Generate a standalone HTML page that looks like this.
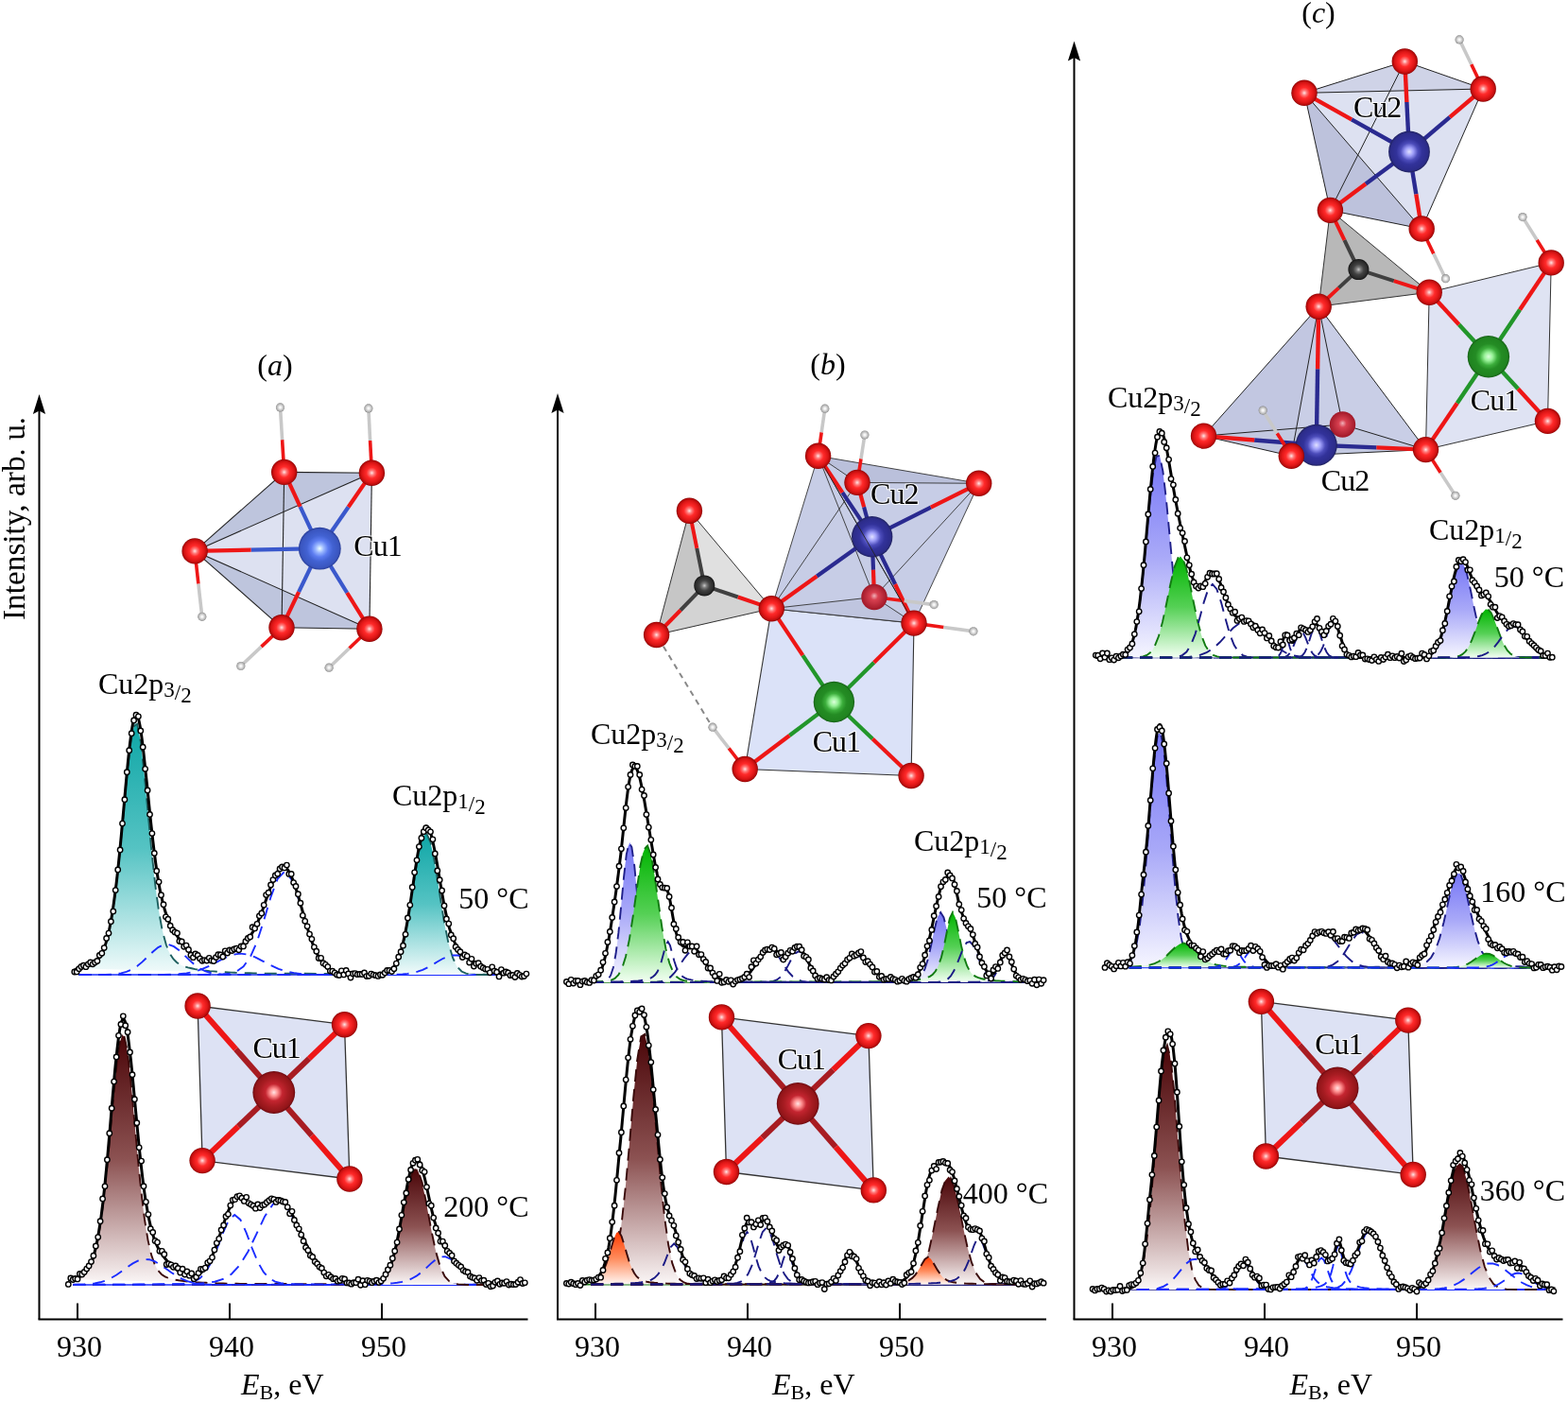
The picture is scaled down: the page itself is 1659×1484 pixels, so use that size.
<!DOCTYPE html>
<html><head><meta charset="utf-8"><title>Cu2p XPS spectra</title>
<style>html,body{margin:0;padding:0;background:#fff;} svg{display:block;} .t{font-family:"Liberation Serif","Times New Roman",serif;font-size:32px;fill:#000;}</style>
</head><body><svg width="1659" height="1484" viewBox="0 0 1659 1484"><defs><linearGradient id="g_teal" x1="0" y1="0" x2="0" y2="1"><stop offset="0" stop-color="#0ea6a6"/><stop offset="0.5" stop-color="#55c3c3"/><stop offset="1" stop-color="#f2fbfb"/></linearGradient><linearGradient id="g_brown" x1="0" y1="0" x2="0" y2="1"><stop offset="0" stop-color="#4a0508"/><stop offset="0.5" stop-color="#8c5252"/><stop offset="1" stop-color="#fbf7f7"/></linearGradient><linearGradient id="g_blue" x1="0" y1="0" x2="0" y2="1"><stop offset="0" stop-color="#7676f6"/><stop offset="0.5" stop-color="#a9a9f8"/><stop offset="1" stop-color="#f6f6ff"/></linearGradient><linearGradient id="g_green" x1="0" y1="0" x2="0" y2="1"><stop offset="0" stop-color="#00b400"/><stop offset="0.5" stop-color="#55d055"/><stop offset="1" stop-color="#f2fff2"/></linearGradient><linearGradient id="g_orange" x1="0" y1="0" x2="0" y2="1"><stop offset="0" stop-color="#ff3a00"/><stop offset="0.5" stop-color="#ff8a5a"/><stop offset="1" stop-color="#fff6f2"/></linearGradient><radialGradient id="s_O" cx="0.5" cy="0.5" r="0.5" fx="0.5" fy="0.5"><stop offset="0" stop-color="#ffe4e4"/><stop offset="0.2" stop-color="#ff7878"/><stop offset="0.42" stop-color="#ff2a2a"/><stop offset="0.75" stop-color="#de1616"/><stop offset="0.92" stop-color="#b60c0c"/><stop offset="1" stop-color="#8a0000"/></radialGradient><radialGradient id="s_H" cx="0.5" cy="0.5" r="0.5" fx="0.5" fy="0.5"><stop offset="0" stop-color="#ffffff"/><stop offset="0.25" stop-color="#f2f2f2"/><stop offset="0.55" stop-color="#d0d0d0"/><stop offset="0.88" stop-color="#a8a8a8"/><stop offset="1" stop-color="#808080"/></radialGradient><radialGradient id="s_C" cx="0.5" cy="0.5" r="0.5" fx="0.5" fy="0.5"><stop offset="0" stop-color="#c8c8c8"/><stop offset="0.22" stop-color="#7a7a7a"/><stop offset="0.5" stop-color="#424242"/><stop offset="0.88" stop-color="#282828"/><stop offset="1" stop-color="#101010"/></radialGradient><radialGradient id="s_CuB" cx="0.5" cy="0.5" r="0.5" fx="0.5" fy="0.5"><stop offset="0" stop-color="#eeffff"/><stop offset="0.2" stop-color="#98b6ff"/><stop offset="0.4" stop-color="#5c7cf0"/><stop offset="0.62" stop-color="#4262d2"/><stop offset="0.9" stop-color="#3a56c0"/><stop offset="1" stop-color="#2a3e98"/></radialGradient><radialGradient id="s_CuD" cx="0.5" cy="0.5" r="0.5" fx="0.5" fy="0.5"><stop offset="0" stop-color="#e0e0ff"/><stop offset="0.2" stop-color="#a0a0fa"/><stop offset="0.42" stop-color="#4c4cba"/><stop offset="0.62" stop-color="#32329a"/><stop offset="0.9" stop-color="#2c2c8a"/><stop offset="1" stop-color="#20225e"/></radialGradient><radialGradient id="s_CuG" cx="0.5" cy="0.5" r="0.5" fx="0.5" fy="0.5"><stop offset="0" stop-color="#dcffdc"/><stop offset="0.2" stop-color="#98f298"/><stop offset="0.42" stop-color="#3cae3c"/><stop offset="0.62" stop-color="#248c24"/><stop offset="0.9" stop-color="#208420"/><stop offset="1" stop-color="#176017"/></radialGradient><radialGradient id="s_CuR" cx="0.5" cy="0.5" r="0.5" fx="0.5" fy="0.5"><stop offset="0" stop-color="#ffe4e4"/><stop offset="0.18" stop-color="#ff9090"/><stop offset="0.4" stop-color="#c42530"/><stop offset="0.65" stop-color="#a81c22"/><stop offset="0.9" stop-color="#921519"/><stop offset="1" stop-color="#6a0a10"/></radialGradient><radialGradient id="s_Ot" cx="0.5" cy="0.5" r="0.5" fx="0.5" fy="0.45"><stop offset="0" stop-color="#f0b0b8"/><stop offset="0.3" stop-color="#d84050"/><stop offset="1" stop-color="#a01828"/></radialGradient></defs><line x1="41.5" y1="1395.5" x2="41.5" y2="431" stroke="#000" stroke-width="2"/><line x1="40.5" y1="1395.5" x2="558.5" y2="1395.5" stroke="#000" stroke-width="2"/><path d="M41.5,417 L48.1,438 L41.5,434.5 L34.9,438 Z" fill="#000"/><line x1="82" y1="1378.5" x2="82" y2="1395.5" stroke="#000" stroke-width="2"/><text x="84" y="1435" text-anchor="middle" class="t">930</text><line x1="243" y1="1378.5" x2="243" y2="1395.5" stroke="#000" stroke-width="2"/><text x="245" y="1435" text-anchor="middle" class="t">940</text><line x1="404" y1="1378.5" x2="404" y2="1395.5" stroke="#000" stroke-width="2"/><text x="406" y="1435" text-anchor="middle" class="t">950</text><text x="255" y="1475" class="t"><tspan font-style="italic">E</tspan><tspan font-size="22" dy="5">B</tspan><tspan dy="-5">, eV</tspan></text><line x1="590" y1="1395.5" x2="590" y2="430" stroke="#000" stroke-width="2"/><line x1="589" y1="1395.5" x2="1107" y2="1395.5" stroke="#000" stroke-width="2"/><path d="M590,416 L596.6,437 L590,433.5 L583.4,437 Z" fill="#000"/><line x1="630" y1="1378.5" x2="630" y2="1395.5" stroke="#000" stroke-width="2"/><text x="632" y="1435" text-anchor="middle" class="t">930</text><line x1="791" y1="1378.5" x2="791" y2="1395.5" stroke="#000" stroke-width="2"/><text x="793" y="1435" text-anchor="middle" class="t">940</text><line x1="952" y1="1378.5" x2="952" y2="1395.5" stroke="#000" stroke-width="2"/><text x="954" y="1435" text-anchor="middle" class="t">950</text><text x="817" y="1475" class="t"><tspan font-style="italic">E</tspan><tspan font-size="22" dy="5">B</tspan><tspan dy="-5">, eV</tspan></text><line x1="1136.5" y1="1395.5" x2="1136.5" y2="57.5" stroke="#000" stroke-width="2"/><line x1="1135.5" y1="1395.5" x2="1653.5" y2="1395.5" stroke="#000" stroke-width="2"/><path d="M1136.5,43.5 L1143.1,64.5 L1136.5,61.0 L1129.9,64.5 Z" fill="#000"/><line x1="1177" y1="1378.5" x2="1177" y2="1395.5" stroke="#000" stroke-width="2"/><text x="1179" y="1435" text-anchor="middle" class="t">930</text><line x1="1338" y1="1378.5" x2="1338" y2="1395.5" stroke="#000" stroke-width="2"/><text x="1340" y="1435" text-anchor="middle" class="t">940</text><line x1="1499" y1="1378.5" x2="1499" y2="1395.5" stroke="#000" stroke-width="2"/><text x="1501" y="1435" text-anchor="middle" class="t">950</text><text x="1364.5" y="1475" class="t"><tspan font-style="italic">E</tspan><tspan font-size="22" dy="5">B</tspan><tspan dy="-5">, eV</tspan></text><line x1="83.6" y1="1031" x2="553.7" y2="1031" stroke="#1a2cff" stroke-width="1.6"/><path d="M83.6,1024.5 L87.1,1023.8 L90.6,1022.8 L94,1021.5 L97.5,1019.8 L101,1017.4 L104.5,1013.6 L107.9,1008 L111.4,999.4 L114.9,986.8 L118.4,969 L121.8,945.2 L125.3,915.2 L128.8,880.1 L132.3,842.6 L135.7,806.7 L139.2,778.7 L142.7,764.8 L146.2,769.2 L149.6,790.4 L153.1,823 L156.6,860.3 L160.1,897.1 L163.5,930 L167,957.1 L170.5,978.1 L174,993.3 L177.4,1003.9 L180.9,1011 L184.4,1015.6 L187.9,1018.6 L191.3,1020.7 L194.8,1022.2 L198.3,1023.3 L201.8,1024.1 L205.3,1024.9 L208.7,1025.5 L212.2,1026 L215.7,1026.4 L219.2,1026.8 L222.6,1027.2 L226.1,1027.5 L229.6,1027.7 L233.1,1028 L236.5,1028.2 L240,1028.4 L243.5,1028.6 L247,1028.7 L250.4,1028.9 L253.9,1029 L257.4,1029.1 L260.9,1029.2 L264.3,1029.3 L267.8,1029.4 L271.3,1029.5 L274.8,1029.6 L278.2,1029.6 L281.7,1029.7 L285.2,1029.8 L288.7,1029.8 L292.1,1029.9 Z" fill="url(#g_teal)" stroke="none"/><path d="M83.6,1024.5 L83.6,1024.5 L87.5,1023.7 L91.3,1022.6 L95.1,1021.1 L99,1018.9 L102.8,1015.6 L106.7,1010.4 L110.5,1002.1 L114.3,989.2 L118.2,970.1 L122,943.8 L125.9,910 L129.7,870.5 L133.5,829 L137.4,792.1 L141.2,768.6 L145.1,765.8 L148.9,784.7 L152.7,819.1 L156.6,860.1 L160.4,900.6 L164.3,936.1 L168.1,964.3 L171.9,985.1 L175.8,999.3 L179.6,1008.6 L183.5,1014.5 L187.3,1018.2 L191.1,1020.6 L195,1022.2 L198.8,1023.4 L202.7,1024.3 L206.5,1025.1 L210.3,1025.7 L214.2,1026.3 L218,1026.7 L221.9,1027.1 L225.7,1027.4 L229.5,1027.7 L233.4,1028 L237.2,1028.2 L241.1,1028.4 L244.9,1028.6 L248.8,1028.8 L252.6,1028.9 L256.4,1029.1 L260.3,1029.2 L264.1,1029.3 L268,1029.4 L271.8,1029.5 L275.6,1029.6 L553.7,1030.9" fill="none" stroke="#1c5e5e" stroke-width="1.9" stroke-dasharray="13,8"/><path d="M83.6,1031 L83.6,1031 L89.2,1031 L94.8,1031 L100.3,1031 L105.9,1030.9 L111.5,1030.9 L117.1,1030.6 L122.7,1030.2 L128.2,1029.4 L133.8,1027.9 L139.4,1025.5 L145,1022 L150.6,1017.4 L156.1,1012.1 L161.7,1006.7 L167.3,1002.1 L172.9,999.4 L178.5,999 L184,1001.2 L189.6,1005.3 L195.2,1010.5 L200.8,1015.9 L206.3,1020.8 L211.9,1024.6 L217.5,1027.3 L223.1,1029 L228.7,1030 L234.2,1030.6 L239.8,1030.8 L245.4,1030.9 L251,1031 L256.6,1031 L262.1,1031 L267.7,1031 L273.3,1031 L278.9,1031 L284.5,1031 L290,1031 L295.6,1031 L301.2,1031 L306.8,1031 L312.3,1031 L317.9,1031 L323.5,1031 L329.1,1031 L334.7,1031 L340.2,1031 L345.8,1031 L351.4,1031 L357,1031 L362.6,1031 L553.7,1031" fill="none" stroke="#1a2cff" stroke-width="1.9" stroke-dasharray="13,8"/><path d="M83.6,1031 L83.6,1031 L91.7,1031 L99.9,1031 L108,1031 L116.1,1031 L124.2,1031 L132.3,1031 L140.5,1031 L148.6,1031 L156.7,1031 L164.8,1031 L172.9,1030.9 L181.1,1030.7 L189.2,1030.3 L197.3,1029.4 L205.4,1027.8 L213.5,1025.2 L221.7,1021.6 L229.8,1017.3 L237.9,1013.1 L246,1009.9 L254.1,1008.6 L262.3,1009.6 L270.4,1012.6 L278.5,1016.8 L286.6,1021.1 L294.7,1024.8 L302.9,1027.5 L311,1029.2 L319.1,1030.2 L327.2,1030.7 L335.3,1030.9 L343.5,1031 L351.6,1031 L359.7,1031 L367.8,1031 L375.9,1031 L384.1,1031 L392.2,1031 L400.3,1031 L408.4,1031 L416.5,1031 L424.7,1031 L432.8,1031 L440.9,1031 L449,1031 L457.1,1031 L465.3,1031 L473.4,1031 L481.5,1031 L489.6,1031 L553.7,1031" fill="none" stroke="#1a2cff" stroke-width="1.9" stroke-dasharray="13,8"/><path d="M83.6,1031 L120.7,1031 L127.9,1031 L135.1,1031 L142.3,1031 L149.5,1031 L156.7,1031 L163.9,1031 L171.1,1030.9 L178.3,1030.9 L185.5,1030.9 L192.7,1030.9 L200,1030.9 L207.2,1030.9 L214.4,1030.9 L221.6,1030.8 L228.8,1030.8 L236,1030.5 L243.2,1029.6 L250.4,1027.4 L257.6,1022.3 L264.8,1012.3 L272,995.9 L279.2,973.5 L286.4,949.1 L293.7,929.6 L300.9,922.1 L308.1,929.6 L315.3,949.1 L322.5,973.5 L329.7,995.9 L336.9,1012.3 L344.1,1022.3 L351.3,1027.4 L358.5,1029.6 L365.7,1030.5 L372.9,1030.8 L380.1,1030.8 L387.4,1030.9 L394.6,1030.9 L401.8,1030.9 L409,1030.9 L416.2,1030.9 L423.4,1030.9 L430.6,1030.9 L437.8,1031 L445,1031 L452.2,1031 L459.4,1031 L466.6,1031 L473.8,1031 L481.1,1031 L553.7,1031" fill="none" stroke="#1a2cff" stroke-width="1.9" stroke-dasharray="13,8"/><path d="M304.1,1031 L308.3,1031 L312.4,1031 L316.6,1031 L320.8,1031 L324.9,1031 L329.1,1031 L333.2,1031 L337.4,1031 L341.6,1031 L345.7,1031 L349.9,1031 L354,1031 L358.2,1031 L362.4,1031 L366.5,1031 L370.7,1031 L374.8,1031 L379,1031 L383.2,1031 L387.3,1031 L391.5,1031 L395.6,1030.9 L399.8,1030.8 L404,1030.5 L408.1,1029.7 L412.3,1027.8 L416.4,1023.9 L420.6,1016.7 L424.8,1004.7 L428.9,986.9 L433.1,963.5 L437.2,936.7 L441.4,910.6 L445.6,890.6 L449.7,881.4 L453.9,885.5 L458,901.7 L462.2,926.1 L466.4,953.2 L470.5,978.3 L474.7,998.4 L478.8,1012.6 L483,1021.5 L487.2,1026.5 L491.3,1029.1 L495.5,1030.2 L499.6,1030.7 L503.8,1030.9 L508,1031 L512.1,1031 L516.3,1031 L520.4,1031 L524.6,1031 L528.8,1031 L532.9,1031 L537.1,1031 L541.2,1031 L545.4,1031 L549.6,1031 L553.7,1031 Z" fill="url(#g_teal)" stroke="none"/><path d="M83.6,1031 L320.4,1031 L325.1,1031 L329.7,1031 L334.4,1031 L339.1,1031 L343.7,1031 L348.4,1031 L353.1,1031 L357.7,1031 L362.4,1031 L367.1,1031 L371.7,1031 L376.4,1031 L381.1,1031 L385.7,1031 L390.4,1031 L395.1,1031 L399.7,1030.8 L404.4,1030.4 L409.1,1029.3 L413.7,1026.7 L418.4,1021 L423.1,1010.3 L427.7,992.7 L432.4,967.8 L437.1,937.9 L441.7,908.8 L446.4,887.8 L451.1,881.3 L455.7,891.3 L460.4,914.8 L465.1,944.7 L469.7,973.8 L474.4,997.2 L479.1,1013.2 L483.7,1022.6 L488.4,1027.5 L493.1,1029.7 L497.7,1030.6 L502.4,1030.9 L507.1,1031 L511.7,1031 L516.4,1031 L521.1,1031 L525.7,1031 L530.4,1031 L535.1,1031 L539.7,1031 L544.4,1031 L549.1,1031 L553.7,1031 L553.7,1031" fill="none" stroke="#1c5e5e" stroke-width="1.9" stroke-dasharray="13,8"/><path d="M83.6,1031 L287.5,1031 L292.8,1031 L298.1,1031 L303.5,1031 L308.8,1031 L314.1,1031 L319.4,1031 L324.8,1031 L330.1,1031 L335.4,1031 L340.7,1031 L346.1,1031 L351.4,1031 L356.7,1031 L362,1031 L367.4,1031 L372.7,1031 L378,1031 L383.3,1031 L388.7,1031 L394,1031 L399.3,1031 L404.6,1031 L410,1030.9 L415.3,1030.9 L420.6,1030.7 L425.9,1030.5 L431.3,1029.9 L436.6,1029.1 L441.9,1027.7 L447.2,1025.8 L452.6,1023.2 L457.9,1020.2 L463.2,1017 L468.5,1014 L473.9,1011.6 L479.2,1010.4 L484.5,1010.5 L489.8,1012 L495.2,1014.4 L500.5,1017.5 L505.8,1020.8 L511.1,1023.7 L516.5,1026.1 L521.8,1028 L527.1,1029.2 L532.4,1030 L537.8,1030.5 L543.1,1030.8 L548.4,1030.9 L553.7,1031 L553.7,1031" fill="none" stroke="#1a2cff" stroke-width="1.9" stroke-dasharray="13,8"/><path d="M78.8,1025.4 L79.6,1025.3 L80.4,1025.1 L81.2,1025 L82,1024.8 L82.8,1024.7 L83.6,1024.5 L84.4,1024.4 L85.2,1024.2 L86,1024 L86.8,1023.8 L87.6,1023.6 L88.4,1023.4 L89.2,1023.2 L90,1022.9 L90.9,1022.7 L91.7,1022.4 L92.5,1022.1 L93.3,1021.8 L94.1,1021.5 L94.9,1021.1 L95.7,1020.8 L96.5,1020.4 L97.3,1019.9 L98.1,1019.4 L98.9,1018.9 L99.7,1018.3 L100.5,1017.7 L101.3,1017 L102.1,1016.3 L102.9,1015.4 L103.7,1014.5 L104.5,1013.5 L105.3,1012.4 L106.2,1011.1 L107,1009.8 L107.8,1008.3 L108.6,1006.6 L109.4,1004.8 L110.2,1002.8 L111,1000.5 L111.8,998.1 L112.6,995.5 L113.4,992.6 L114.2,989.5 L115,986 L115.8,982.3 L116.6,978.3 L117.4,974 L118.2,969.4 L119,964.4 L119.8,959.1 L120.6,953.5 L121.4,947.5 L122.2,941.2 L123.1,934.5 L123.9,927.5 L124.7,920.2 L125.5,912.5 L126.3,904.6 L127.1,896.5 L127.9,888.1 L128.7,879.4 L129.5,870.7 L130.3,861.8 L131.1,852.8 L131.9,843.8 L132.7,834.9 L133.5,826.1 L134.3,817.4 L135.1,809 L135.9,800.9 L136.7,793.3 L137.5,786.1 L138.4,779.5 L139.2,773.6 L140,768.4 L140.8,764.1 L141.6,760.6 L142.4,758.1 L143.2,756.5 L144,755.9 L144.8,756.3 L145.6,757.7 L146.4,760 L147.2,763.2 L148,767.2 L148.8,772 L149.6,777.4 L150.4,783.5 L151.2,790 L152,797 L152.8,804.3 L153.6,811.9 L154.4,819.7 L155.3,827.6 L156.1,835.5 L156.9,843.5 L157.7,851.4 L158.5,859.2 L159.3,866.9 L160.1,874.4 L160.9,881.7 L161.7,888.7 L162.5,895.5 L163.3,902.1 L164.1,908.3 L164.9,914.2 L165.7,919.9 L166.5,925.2 L167.3,930.3 L168.1,935 L168.9,939.5 L169.7,943.6 L170.6,947.5 L171.4,951.1 L172.2,954.5 L173,957.7 L173.8,960.6 L174.6,963.3 L175.4,965.8 L176.2,968.2 L177,970.4 L177.8,972.4 L178.6,974.4 L179.4,976.2 L180.2,977.9 L181,979.5 L181.8,981 L182.6,982.5 L183.4,983.9 L184.2,985.2 L185,986.5 L185.8,987.7 L186.7,989 L187.5,990.2 L188.3,991.3 L189.1,992.4 L189.9,993.6 L190.7,994.7 L191.5,995.7 L192.3,996.8 L193.1,997.8 L193.9,998.8 L194.7,999.8 L195.5,1000.8 L196.3,1001.8 L197.1,1002.7 L197.9,1003.6 L198.7,1004.5 L199.5,1005.3 L200.3,1006.2 L201.1,1007 L201.9,1007.7 L202.8,1008.4 L203.6,1009.1 L204.4,1009.8 L205.2,1010.4 L206,1011 L206.8,1011.6 L207.6,1012.1 L208.4,1012.6 L209.2,1013 L210,1013.4 L210.8,1013.8 L211.6,1014.1 L212.4,1014.4 L213.2,1014.7 L214,1014.9 L214.8,1015.1 L215.6,1015.2 L216.4,1015.3 L217.2,1015.4 L218,1015.4 L218.9,1015.4 L219.7,1015.4 L220.5,1015.3 L221.3,1015.3 L222.1,1015.2 L222.9,1015 L223.7,1014.9 L224.5,1014.7 L225.3,1014.5 L226.1,1014.2 L226.9,1014 L227.7,1013.7 L228.5,1013.5 L229.3,1013.2 L230.1,1012.9 L230.9,1012.5 L231.7,1012.2 L232.5,1011.9 L233.3,1011.5 L234.1,1011.2 L235,1010.8 L235.8,1010.4 L236.6,1010.1 L237.4,1009.7 L238.2,1009.3 L239,1008.9 L239.8,1008.5 L240.6,1008.1 L241.4,1007.8 L242.2,1007.4 L243,1007 L243.8,1006.6 L244.6,1006.2 L245.4,1005.8 L246.2,1005.4 L247,1004.9 L247.8,1004.5 L248.6,1004.1 L249.4,1003.7 L250.2,1003.2 L251.1,1002.7 L251.9,1002.3 L252.7,1001.8 L253.5,1001.2 L254.3,1000.7 L255.1,1000.1 L255.9,999.5 L256.7,998.9 L257.5,998.2 L258.3,997.5 L259.1,996.8 L259.9,996 L260.7,995.2 L261.5,994.3 L262.3,993.3 L263.1,992.3 L263.9,991.3 L264.7,990.2 L265.5,989 L266.3,987.7 L267.1,986.4 L268,985 L268.8,983.5 L269.6,982 L270.4,980.4 L271.2,978.7 L272,976.9 L272.8,975.1 L273.6,973.2 L274.4,971.3 L275.2,969.3 L276,967.2 L276.8,965.1 L277.6,962.9 L278.4,960.7 L279.2,958.4 L280,956.1 L280.8,953.8 L281.6,951.5 L282.4,949.2 L283.2,946.9 L284.1,944.6 L284.9,942.3 L285.7,940.1 L286.5,937.9 L287.3,935.7 L288.1,933.6 L288.9,931.6 L289.7,929.7 L290.5,927.9 L291.3,926.2 L292.1,924.6 L292.9,923.1 L293.7,921.8 L294.5,920.6 L295.3,919.6 L296.1,918.7 L296.9,918 L297.7,917.4 L298.5,917.1 L299.4,916.9 L300.2,916.9 L301,917.1 L301.8,917.4 L302.6,918 L303.4,918.7 L304.2,919.6 L305,920.7 L305.8,922 L306.6,923.4 L307.4,925 L308.2,926.7 L309,928.6 L309.8,930.6 L310.6,932.7 L311.4,935 L312.2,937.3 L313,939.8 L313.8,942.3 L314.6,945 L315.5,947.6 L316.3,950.4 L317.1,953.1 L317.9,956 L318.7,958.8 L319.5,961.6 L320.3,964.5 L321.1,967.3 L321.9,970.1 L322.7,972.9 L323.5,975.7 L324.3,978.4 L325.1,981 L325.9,983.6 L326.7,986.2 L327.5,988.6 L328.3,991.1 L329.1,993.4 L329.9,995.6 L330.7,997.8 L331.6,999.9 L332.4,1001.9 L333.2,1003.8 L334,1005.6 L334.8,1007.4 L335.6,1009 L336.4,1010.6 L337.2,1012.1 L338,1013.5 L338.8,1014.8 L339.6,1016.1 L340.4,1017.2 L341.2,1018.3 L342,1019.3 L342.8,1020.3 L343.6,1021.2 L344.4,1022 L345.2,1022.7 L346,1023.4 L346.8,1024.1 L347.7,1024.7 L348.5,1025.2 L349.3,1025.7 L350.1,1026.2 L350.9,1026.6 L351.7,1027 L352.5,1027.3 L353.3,1027.6 L354.1,1027.9 L354.9,1028.2 L355.7,1028.4 L356.5,1028.6 L357.3,1028.8 L358.1,1029 L358.9,1029.2 L359.7,1029.3 L360.5,1029.4 L361.3,1029.5 L362.1,1029.6 L362.9,1029.7 L363.8,1029.8 L364.6,1029.9 L365.4,1029.9 L366.2,1030 L367,1030 L367.8,1030.1 L368.6,1030.1 L369.4,1030.2 L370.2,1030.2 L371,1030.2 L371.8,1030.3 L372.6,1030.3 L373.4,1030.3 L374.2,1030.3 L375,1030.3 L375.8,1030.3 L376.6,1030.4 L377.4,1030.4 L378.2,1030.4 L379,1030.4 L379.9,1030.4 L380.7,1030.4 L381.5,1030.4 L382.3,1030.4 L383.1,1030.4 L383.9,1030.4 L384.7,1030.4 L385.5,1030.5 L386.3,1030.5 L387.1,1030.5 L387.9,1030.5 L388.7,1030.5 L389.5,1030.5 L390.3,1030.5 L391.1,1030.5 L391.9,1030.5 L392.7,1030.5 L393.5,1030.5 L394.3,1030.5 L395.1,1030.5 L396,1030.5 L396.8,1030.4 L397.6,1030.4 L398.4,1030.4 L399.2,1030.4 L400,1030.3 L400.8,1030.3 L401.6,1030.3 L402.4,1030.2 L403.2,1030.1 L404,1030 L404.8,1029.9 L405.6,1029.8 L406.4,1029.6 L407.2,1029.4 L408,1029.2 L408.8,1029 L409.6,1028.7 L410.4,1028.3 L411.2,1027.9 L412.1,1027.4 L412.9,1026.9 L413.7,1026.3 L414.5,1025.5 L415.3,1024.7 L416.1,1023.8 L416.9,1022.7 L417.7,1021.6 L418.5,1020.3 L419.3,1018.8 L420.1,1017.1 L420.9,1015.3 L421.7,1013.3 L422.5,1011.1 L423.3,1008.7 L424.1,1006.1 L424.9,1003.3 L425.7,1000.2 L426.5,996.9 L427.3,993.4 L428.2,989.6 L429,985.6 L429.8,981.4 L430.6,977 L431.4,972.4 L432.2,967.5 L433,962.6 L433.8,957.4 L434.6,952.2 L435.4,946.8 L436.2,941.4 L437,935.9 L437.8,930.5 L438.6,925.1 L439.4,919.7 L440.2,914.5 L441,909.4 L441.8,904.6 L442.6,899.9 L443.4,895.6 L444.3,891.5 L445.1,887.8 L445.9,884.5 L446.7,881.6 L447.5,879.2 L448.3,877.2 L449.1,875.6 L449.9,874.6 L450.7,874 L451.5,874 L452.3,874.4 L453.1,875.3 L453.9,876.7 L454.7,878.6 L455.5,880.9 L456.3,883.6 L457.1,886.6 L457.9,890 L458.7,893.7 L459.5,897.7 L460.4,901.9 L461.2,906.4 L462,910.9 L462.8,915.6 L463.6,920.4 L464.4,925.2 L465.2,930 L466,934.8 L466.8,939.6 L467.6,944.2 L468.4,948.7 L469.2,953.2 L470,957.4 L470.8,961.5 L471.6,965.4 L472.4,969.1 L473.2,972.7 L474,976 L474.8,979.1 L475.6,982.1 L476.5,984.8 L477.3,987.3 L478.1,989.7 L478.9,991.9 L479.7,993.9 L480.5,995.7 L481.3,997.4 L482.1,999 L482.9,1000.4 L483.7,1001.8 L484.5,1003 L485.3,1004.1 L486.1,1005.1 L486.9,1006.1 L487.7,1007 L488.5,1007.8 L489.3,1008.6 L490.1,1009.4 L490.9,1010.1 L491.7,1010.8 L492.6,1011.4 L493.4,1012.1 L494.2,1012.7 L495,1013.3 L495.8,1013.8 L496.6,1014.4 L497.4,1015 L498.2,1015.5 L499,1016.1 L499.8,1016.6 L500.6,1017.2 L501.4,1017.7 L502.2,1018.2 L503,1018.8 L503.8,1019.3 L504.6,1019.8 L505.4,1020.3 L506.2,1020.8 L507,1021.2 L507.8,1021.7 L508.7,1022.2 L509.5,1022.6 L510.3,1023 L511.1,1023.5 L511.9,1023.9 L512.7,1024.3 L513.5,1024.7 L514.3,1025 L515.1,1025.4 L515.9,1025.7 L516.7,1026 L517.5,1026.4 L518.3,1026.7 L519.1,1026.9 L519.9,1027.2 L520.7,1027.5 L521.5,1027.7 L522.3,1027.9 L523.1,1028.2 L523.9,1028.4 L524.8,1028.6 L525.6,1028.7 L526.4,1028.9 L527.2,1029.1 L528,1029.2 L528.8,1029.4 L529.6,1029.5 L530.4,1029.6 L531.2,1029.7 L532,1029.8 L532.8,1029.9 L533.6,1030 L534.4,1030.1 L535.2,1030.1 L536,1030.2 L536.8,1030.3 L537.6,1030.3 L538.4,1030.4 L539.2,1030.4 L540,1030.5 L540.9,1030.5 L541.7,1030.5 L542.5,1030.6 L543.3,1030.6 L544.1,1030.6 L544.9,1030.7 L545.7,1030.7 L546.5,1030.7 L547.3,1030.7 L548.1,1030.7 L548.9,1030.7 L549.7,1030.8 L550.5,1030.8 L551.3,1030.8 L552.1,1030.8 L552.9,1030.8 L553.7,1030.8 L554.5,1030.8 L555.3,1030.8 L556.1,1030.8 L557,1030.8 L557.8,1030.8 L558.6,1030.8" fill="none" stroke="#000" stroke-width="3" stroke-linejoin="round"/><g fill="#fff" stroke="#000" stroke-width="1.4"><circle cx="78.8" cy="1028" r="2.7"/><circle cx="81.2" cy="1027.9" r="2.7"/><circle cx="83.6" cy="1024.7" r="2.7"/><circle cx="86" cy="1022.5" r="2.7"/><circle cx="88.4" cy="1021.2" r="2.7"/><circle cx="90.9" cy="1022.7" r="2.7"/><circle cx="93.3" cy="1019.8" r="2.7"/><circle cx="95.7" cy="1017.9" r="2.7"/><circle cx="98.1" cy="1019.8" r="2.7"/><circle cx="100.5" cy="1018" r="2.7"/><circle cx="102.9" cy="1016.5" r="2.7"/><circle cx="105.3" cy="1010.5" r="2.7"/><circle cx="107.8" cy="1008.3" r="2.7"/><circle cx="110.2" cy="1002.6" r="2.7"/><circle cx="112.6" cy="992.5" r="2.7"/><circle cx="115" cy="987.1" r="2.7"/><circle cx="117.4" cy="974.7" r="2.7"/><circle cx="119.8" cy="963.9" r="2.7"/><circle cx="122.2" cy="941.6" r="2.7"/><circle cx="124.7" cy="919.9" r="2.7"/><circle cx="127.1" cy="898.9" r="2.7"/><circle cx="129.5" cy="871.1" r="2.7"/><circle cx="131.9" cy="845.7" r="2.7"/><circle cx="134.3" cy="816.7" r="2.7"/><circle cx="136.7" cy="793.7" r="2.7"/><circle cx="139.2" cy="775.7" r="2.7"/><circle cx="141.6" cy="762" r="2.7"/><circle cx="144" cy="756.2" r="2.7"/><circle cx="146.4" cy="757.8" r="2.7"/><circle cx="148.8" cy="772.9" r="2.7"/><circle cx="151.2" cy="790.2" r="2.7"/><circle cx="153.6" cy="813.3" r="2.7"/><circle cx="156.1" cy="836" r="2.7"/><circle cx="158.5" cy="861.4" r="2.7"/><circle cx="160.9" cy="881.6" r="2.7"/><circle cx="163.3" cy="902.5" r="2.7"/><circle cx="165.7" cy="921.2" r="2.7"/><circle cx="168.1" cy="932.8" r="2.7"/><circle cx="170.5" cy="946.7" r="2.7"/><circle cx="173" cy="956.7" r="2.7"/><circle cx="175.4" cy="969.8" r="2.7"/><circle cx="177.8" cy="972.2" r="2.7"/><circle cx="180.2" cy="979.2" r="2.7"/><circle cx="182.6" cy="983.7" r="2.7"/><circle cx="185" cy="985.9" r="2.7"/><circle cx="187.5" cy="987.1" r="2.7"/><circle cx="189.9" cy="995.5" r="2.7"/><circle cx="192.3" cy="996" r="2.7"/><circle cx="194.7" cy="1001.3" r="2.7"/><circle cx="197.1" cy="1000.1" r="2.7"/><circle cx="199.5" cy="1004.5" r="2.7"/><circle cx="201.9" cy="1010.2" r="2.7"/><circle cx="204.4" cy="1012.7" r="2.7"/><circle cx="206.8" cy="1009" r="2.7"/><circle cx="209.2" cy="1010.4" r="2.7"/><circle cx="211.6" cy="1014" r="2.7"/><circle cx="214" cy="1016.3" r="2.7"/><circle cx="216.4" cy="1015.6" r="2.7"/><circle cx="218.8" cy="1016" r="2.7"/><circle cx="221.3" cy="1013.3" r="2.7"/><circle cx="223.7" cy="1016" r="2.7"/><circle cx="226.1" cy="1016.5" r="2.7"/><circle cx="228.5" cy="1012.6" r="2.7"/><circle cx="230.9" cy="1009.7" r="2.7"/><circle cx="233.3" cy="1010" r="2.7"/><circle cx="235.8" cy="1012" r="2.7"/><circle cx="238.2" cy="1005.8" r="2.7"/><circle cx="240.6" cy="1008" r="2.7"/><circle cx="243" cy="1005" r="2.7"/><circle cx="245.4" cy="1005.5" r="2.7"/><circle cx="247.8" cy="1004" r="2.7"/><circle cx="250.2" cy="1003.2" r="2.7"/><circle cx="252.7" cy="1004.8" r="2.7"/><circle cx="255.1" cy="1001" r="2.7"/><circle cx="257.5" cy="1000.9" r="2.7"/><circle cx="259.9" cy="995.7" r="2.7"/><circle cx="262.3" cy="992.4" r="2.7"/><circle cx="264.7" cy="990.9" r="2.7"/><circle cx="267.1" cy="980.7" r="2.7"/><circle cx="269.6" cy="981.9" r="2.7"/><circle cx="272" cy="977.3" r="2.7"/><circle cx="274.4" cy="968.8" r="2.7"/><circle cx="276.8" cy="966" r="2.7"/><circle cx="279.2" cy="957.3" r="2.7"/><circle cx="281.6" cy="946.6" r="2.7"/><circle cx="284.1" cy="944.2" r="2.7"/><circle cx="286.5" cy="935.9" r="2.7"/><circle cx="288.9" cy="930.6" r="2.7"/><circle cx="291.3" cy="925.9" r="2.7"/><circle cx="293.7" cy="924.3" r="2.7"/><circle cx="296.1" cy="918.9" r="2.7"/><circle cx="298.5" cy="917" r="2.7"/><circle cx="301" cy="917.9" r="2.7"/><circle cx="303.4" cy="915.1" r="2.7"/><circle cx="305.8" cy="924.4" r="2.7"/><circle cx="308.2" cy="924.5" r="2.7"/><circle cx="310.6" cy="933.6" r="2.7"/><circle cx="313" cy="937.5" r="2.7"/><circle cx="315.4" cy="945.7" r="2.7"/><circle cx="317.9" cy="955.2" r="2.7"/><circle cx="320.3" cy="968.3" r="2.7"/><circle cx="322.7" cy="974.3" r="2.7"/><circle cx="325.1" cy="979.8" r="2.7"/><circle cx="327.5" cy="988.1" r="2.7"/><circle cx="329.9" cy="993.3" r="2.7"/><circle cx="332.4" cy="1001.8" r="2.7"/><circle cx="334.8" cy="1006.2" r="2.7"/><circle cx="337.2" cy="1013.5" r="2.7"/><circle cx="339.6" cy="1013.3" r="2.7"/><circle cx="342" cy="1018.7" r="2.7"/><circle cx="344.4" cy="1020.3" r="2.7"/><circle cx="346.8" cy="1022.6" r="2.7"/><circle cx="349.3" cy="1027.1" r="2.7"/><circle cx="351.7" cy="1027.2" r="2.7"/><circle cx="354.1" cy="1029.1" r="2.7"/><circle cx="356.5" cy="1031" r="2.7"/><circle cx="358.9" cy="1031.5" r="2.7"/><circle cx="361.3" cy="1026.8" r="2.7"/><circle cx="363.7" cy="1030.9" r="2.7"/><circle cx="366.2" cy="1026.5" r="2.7"/><circle cx="368.6" cy="1030" r="2.7"/><circle cx="371" cy="1034.1" r="2.7"/><circle cx="373.4" cy="1029.9" r="2.7"/><circle cx="375.8" cy="1029.6" r="2.7"/><circle cx="378.2" cy="1030.7" r="2.7"/><circle cx="380.7" cy="1030.4" r="2.7"/><circle cx="383.1" cy="1030.5" r="2.7"/><circle cx="385.5" cy="1028.9" r="2.7"/><circle cx="387.9" cy="1032.6" r="2.7"/><circle cx="390.3" cy="1032.3" r="2.7"/><circle cx="392.7" cy="1030.1" r="2.7"/><circle cx="395.1" cy="1031.1" r="2.7"/><circle cx="397.6" cy="1031.7" r="2.7"/><circle cx="400" cy="1032.4" r="2.7"/><circle cx="402.4" cy="1031" r="2.7"/><circle cx="404.8" cy="1031.3" r="2.7"/><circle cx="407.2" cy="1028.9" r="2.7"/><circle cx="409.6" cy="1026.5" r="2.7"/><circle cx="412" cy="1026.4" r="2.7"/><circle cx="414.5" cy="1027.6" r="2.7"/><circle cx="416.9" cy="1024.7" r="2.7"/><circle cx="419.3" cy="1019.1" r="2.7"/><circle cx="421.7" cy="1012.2" r="2.7"/><circle cx="424.1" cy="1006.7" r="2.7"/><circle cx="426.5" cy="1000.2" r="2.7"/><circle cx="429" cy="988.3" r="2.7"/><circle cx="431.4" cy="971" r="2.7"/><circle cx="433.8" cy="957.3" r="2.7"/><circle cx="436.2" cy="938.5" r="2.7"/><circle cx="438.6" cy="922.8" r="2.7"/><circle cx="441" cy="909.8" r="2.7"/><circle cx="443.4" cy="895.6" r="2.7"/><circle cx="445.9" cy="886.5" r="2.7"/><circle cx="448.3" cy="879.7" r="2.7"/><circle cx="450.7" cy="875.7" r="2.7"/><circle cx="453.1" cy="878" r="2.7"/><circle cx="455.5" cy="879.8" r="2.7"/><circle cx="457.9" cy="887.8" r="2.7"/><circle cx="460.3" cy="902.9" r="2.7"/><circle cx="462.8" cy="921" r="2.7"/><circle cx="465.2" cy="930.7" r="2.7"/><circle cx="467.6" cy="941.9" r="2.7"/><circle cx="470" cy="957.9" r="2.7"/><circle cx="472.4" cy="972" r="2.7"/><circle cx="474.8" cy="977.1" r="2.7"/><circle cx="477.3" cy="988.9" r="2.7"/><circle cx="479.7" cy="992.7" r="2.7"/><circle cx="482.1" cy="1001.5" r="2.7"/><circle cx="484.5" cy="1004.5" r="2.7"/><circle cx="486.9" cy="1006.7" r="2.7"/><circle cx="489.3" cy="1012.6" r="2.7"/><circle cx="491.7" cy="1010" r="2.7"/><circle cx="494.2" cy="1011.3" r="2.7"/><circle cx="496.6" cy="1018.1" r="2.7"/><circle cx="499" cy="1014.3" r="2.7"/><circle cx="501.4" cy="1022.1" r="2.7"/><circle cx="503.8" cy="1019.2" r="2.7"/><circle cx="506.2" cy="1018.7" r="2.7"/><circle cx="508.6" cy="1022.2" r="2.7"/><circle cx="511.1" cy="1023.7" r="2.7"/><circle cx="513.5" cy="1025.1" r="2.7"/><circle cx="515.9" cy="1025.3" r="2.7"/><circle cx="518.3" cy="1028.8" r="2.7"/><circle cx="520.7" cy="1022.8" r="2.7"/><circle cx="523.1" cy="1027.1" r="2.7"/><circle cx="525.6" cy="1028.2" r="2.7"/><circle cx="528" cy="1032.9" r="2.7"/><circle cx="530.4" cy="1025.6" r="2.7"/><circle cx="532.8" cy="1029.2" r="2.7"/><circle cx="535.2" cy="1027.9" r="2.7"/><circle cx="537.6" cy="1029" r="2.7"/><circle cx="540" cy="1031.7" r="2.7"/><circle cx="542.5" cy="1031.4" r="2.7"/><circle cx="544.9" cy="1033.5" r="2.7"/><circle cx="547.3" cy="1029.5" r="2.7"/><circle cx="549.7" cy="1031.3" r="2.7"/><circle cx="552.1" cy="1033.1" r="2.7"/><circle cx="554.5" cy="1032.6" r="2.7"/><circle cx="556.9" cy="1030.1" r="2.7"/></g><line x1="77.2" y1="1359" x2="552.1" y2="1359" stroke="#1a2cff" stroke-width="1.6"/><path d="M77.2,1353.2 L80.4,1352.3 L83.7,1351.1 L87,1349.4 L90.3,1346.8 L93.5,1342.7 L96.8,1336.3 L100.1,1326.6 L103.4,1312.4 L106.6,1292.7 L109.9,1266.9 L113.2,1235.5 L116.5,1199.8 L119.7,1163 L123,1129.4 L126.3,1104.6 L129.5,1094 L132.8,1100.1 L136.1,1121.5 L139.4,1153.3 L142.6,1189.7 L145.9,1226.1 L149.2,1258.9 L152.5,1286.3 L155.7,1307.6 L159,1323.2 L162.3,1334 L165.6,1341.2 L168.8,1345.8 L172.1,1348.8 L175.4,1350.7 L178.7,1352 L181.9,1352.9 L185.2,1353.7 L188.5,1354.2 L191.7,1354.7 L195,1355.1 L198.3,1355.4 L201.6,1355.7 L204.8,1356 L208.1,1356.2 L211.4,1356.5 L214.7,1356.6 L217.9,1356.8 L221.2,1357 L224.5,1357.1 L227.8,1357.2 L231,1357.3 L234.3,1357.4 L237.6,1357.5 L240.9,1357.6 L244.1,1357.7 L247.4,1357.8 L250.7,1357.8 L253.9,1357.9 L257.2,1357.9 L260.5,1358 L263.8,1358 L267,1358.1 L270.3,1358.1 L273.6,1358.2 Z" fill="url(#g_brown)" stroke="none"/><path d="M77.2,1353.2 L77.2,1353.2 L80.8,1352.2 L84.4,1350.8 L88,1348.7 L91.6,1345.3 L95.2,1339.8 L98.8,1330.8 L102.4,1316.9 L106,1296.7 L109.7,1269.1 L113.3,1234.6 L116.9,1195.1 L120.5,1154.7 L124.1,1119.9 L127.7,1098 L131.3,1095.2 L134.9,1112.4 L138.5,1144.4 L142.1,1184 L145.7,1224.2 L149.4,1260.4 L153,1289.9 L156.6,1312.1 L160.2,1327.6 L163.8,1337.7 L167.4,1344.1 L171,1348 L174.6,1350.3 L178.2,1351.9 L181.8,1352.9 L185.4,1353.7 L189.1,1354.3 L192.7,1354.8 L196.3,1355.2 L199.9,1355.6 L203.5,1355.9 L207.1,1356.2 L210.7,1356.4 L214.3,1356.6 L217.9,1356.8 L221.5,1357 L225.2,1357.1 L228.8,1357.3 L232.4,1357.4 L236,1357.5 L239.6,1357.6 L243.2,1357.7 L246.8,1357.7 L250.4,1357.8 L254,1357.9 L257.6,1357.9 L552.1,1358.9" fill="none" stroke="#3a0a0a" stroke-width="1.9" stroke-dasharray="13,8"/><path d="M77.2,1358.9 L77.2,1358.9 L82.9,1358.8 L88.7,1358.6 L94.5,1358.2 L100.2,1357.5 L106,1356.3 L111.7,1354.5 L117.5,1351.9 L123.3,1348.5 L129,1344.5 L134.8,1340.3 L140.5,1336.4 L146.3,1333.5 L152.1,1332 L157.8,1332.2 L163.6,1334.2 L169.3,1337.5 L175.1,1341.5 L180.9,1345.7 L186.6,1349.5 L192.4,1352.7 L198.2,1355.1 L203.9,1356.7 L209.7,1357.7 L215.4,1358.4 L221.2,1358.7 L227,1358.9 L232.7,1358.9 L238.5,1359 L244.2,1359 L250,1359 L255.8,1359 L261.5,1359 L267.3,1359 L273.1,1359 L278.8,1359 L284.6,1359 L290.3,1359 L296.1,1359 L301.9,1359 L307.6,1359 L313.4,1359 L319.1,1359 L324.9,1359 L330.7,1359 L336.4,1359 L342.2,1359 L347.9,1359 L353.7,1359 L359.5,1359 L365.2,1359 L552.1,1359" fill="none" stroke="#1a2cff" stroke-width="1.9" stroke-dasharray="13,8"/><path d="M77.2,1358.9 L95.5,1358.9 L101.6,1358.9 L107.7,1358.8 L113.8,1358.8 L119.9,1358.8 L126,1358.8 L132.1,1358.8 L138.2,1358.8 L144.4,1358.7 L150.5,1358.7 L156.6,1358.6 L162.7,1358.6 L168.8,1358.5 L174.9,1358.5 L181,1358.4 L187.2,1358.2 L193.3,1357.9 L199.4,1357.2 L205.5,1355.6 L211.6,1352.1 L217.7,1345.5 L223.8,1334.7 L229.9,1320 L236.1,1303.6 L242.2,1290.2 L248.3,1285 L254.4,1290.2 L260.5,1303.6 L266.6,1320 L272.7,1334.7 L278.8,1345.5 L285,1352.1 L291.1,1355.6 L297.2,1357.2 L303.3,1357.9 L309.4,1358.2 L315.5,1358.4 L321.6,1358.5 L327.7,1358.5 L333.9,1358.6 L340,1358.6 L346.1,1358.7 L352.2,1358.7 L358.3,1358.8 L364.4,1358.8 L370.5,1358.8 L376.7,1358.8 L382.8,1358.8 L388.9,1358.8 L395,1358.9 L401.1,1358.9 L552.1,1359" fill="none" stroke="#1a2cff" stroke-width="1.9" stroke-dasharray="13,8"/><path d="M77.2,1358.8 L77.2,1358.8 L86,1358.8 L94.8,1358.7 L103.6,1358.7 L112.5,1358.7 L121.3,1358.7 L130.1,1358.6 L138.9,1358.6 L147.8,1358.5 L156.6,1358.5 L165.4,1358.4 L174.2,1358.3 L183.1,1358.2 L191.9,1358.1 L200.7,1357.9 L209.5,1357.6 L218.4,1357 L227.2,1355.7 L236,1353 L244.8,1347.7 L253.6,1338.1 L262.5,1323.7 L271.3,1305.3 L280.1,1286.7 L288.9,1273.5 L297.8,1271.4 L306.6,1281.3 L315.4,1298.9 L324.2,1317.9 L333.1,1333.9 L341.9,1345 L350.7,1351.6 L359.5,1355.1 L368.4,1356.7 L377.2,1357.4 L386,1357.8 L394.8,1358 L403.6,1358.2 L412.5,1358.3 L421.3,1358.4 L430.1,1358.4 L438.9,1358.5 L447.8,1358.6 L456.6,1358.6 L465.4,1358.6 L474.2,1358.7 L483.1,1358.7 L491.9,1358.7 L500.7,1358.8 L509.5,1358.8 L518.4,1358.8 L552.1,1358.8" fill="none" stroke="#1a2cff" stroke-width="1.9" stroke-dasharray="13,8"/><path d="M296.6,1359 L300.8,1359 L305.1,1359 L309.4,1359 L313.6,1359 L317.9,1359 L322.1,1359 L326.4,1359 L330.6,1359 L334.9,1359 L339.2,1359 L343.4,1359 L347.7,1359 L351.9,1359 L356.2,1359 L360.5,1359 L364.7,1359 L369,1359 L373.2,1359 L377.5,1359 L381.8,1359 L386,1359 L390.3,1358.8 L394.5,1358.5 L398.8,1357.7 L403.1,1355.9 L407.3,1352 L411.6,1344.8 L415.8,1333 L420.1,1315.8 L424.3,1294 L428.6,1270.6 L432.9,1250.1 L437.1,1237.5 L441.4,1236.4 L445.6,1246.9 L449.9,1266.3 L454.2,1289.5 L458.4,1311.9 L462.7,1330.1 L466.9,1342.9 L471.2,1350.9 L475.5,1355.3 L479.7,1357.5 L484,1358.4 L488.2,1358.8 L492.5,1358.9 L496.8,1359 L501,1359 L505.3,1359 L509.5,1359 L513.8,1359 L518,1359 L522.3,1359 L526.6,1359 L530.8,1359 L535.1,1359 L539.3,1359 L543.6,1359 L547.9,1359 L552.1,1359 Z" fill="url(#g_brown)" stroke="none"/><path d="M77.2,1359 L312.5,1359 L317.3,1359 L322.1,1359 L326.9,1359 L331.6,1359 L336.4,1359 L341.2,1359 L346,1359 L350.8,1359 L355.6,1359 L360.4,1359 L365.2,1359 L370,1359 L374.8,1359 L379.6,1359 L384.4,1359 L389.2,1358.9 L394,1358.6 L398.7,1357.7 L403.5,1355.5 L408.3,1350.6 L413.1,1341.1 L417.9,1325.2 L422.7,1302.8 L427.5,1276.6 L432.3,1252.5 L437.1,1237.6 L441.9,1237 L446.7,1251 L451.5,1274.6 L456.3,1300.9 L461.1,1323.8 L465.8,1340.1 L470.6,1350.1 L475.4,1355.3 L480.2,1357.6 L485,1358.6 L489.8,1358.9 L494.6,1359 L499.4,1359 L504.2,1359 L509,1359 L513.8,1359 L518.6,1359 L523.4,1359 L528.2,1359 L532.9,1359 L537.7,1359 L542.5,1359 L547.3,1359 L552.1,1359 L552.1,1359" fill="none" stroke="#3a0a0a" stroke-width="1.9" stroke-dasharray="13,8"/><path d="M77.2,1359 L298.7,1358.8 L303.8,1358.8 L308.8,1358.8 L313.9,1358.8 L319,1358.8 L324,1358.8 L329.1,1358.8 L334.2,1358.7 L339.3,1358.7 L344.3,1358.7 L349.4,1358.7 L354.5,1358.6 L359.5,1358.6 L364.6,1358.6 L369.7,1358.5 L374.7,1358.5 L379.8,1358.4 L384.9,1358.4 L389.9,1358.3 L395,1358.2 L400.1,1358.1 L405.1,1357.9 L410.2,1357.7 L415.3,1357.4 L420.3,1356.8 L425.4,1355.9 L430.5,1354.6 L435.5,1352.5 L440.6,1349.7 L445.7,1345.9 L450.8,1341.4 L455.8,1336.6 L460.9,1332.3 L466,1329.5 L471,1329.1 L476.1,1331.3 L481.2,1335.3 L486.2,1340 L491.3,1344.6 L496.4,1348.6 L501.4,1351.8 L506.5,1354.1 L511.6,1355.6 L516.6,1356.6 L521.7,1357.2 L526.8,1357.6 L531.8,1357.9 L536.9,1358 L542,1358.2 L547.1,1358.3 L552.1,1358.3 L552.1,1358.3" fill="none" stroke="#1a2cff" stroke-width="1.9" stroke-dasharray="13,8"/><path d="M72.3,1353.7 L73.1,1353.6 L74,1353.4 L74.8,1353.3 L75.6,1353.1 L76.4,1352.9 L77.2,1352.7 L78,1352.5 L78.8,1352.3 L79.6,1352.1 L80.4,1351.8 L81.2,1351.6 L82,1351.3 L82.8,1351 L83.6,1350.6 L84.4,1350.2 L85.2,1349.8 L86,1349.3 L86.8,1348.8 L87.6,1348.3 L88.4,1347.6 L89.2,1346.9 L90,1346.1 L90.9,1345.3 L91.7,1344.3 L92.5,1343.2 L93.3,1342 L94.1,1340.7 L94.9,1339.2 L95.7,1337.5 L96.5,1335.6 L97.3,1333.6 L98.1,1331.3 L98.9,1328.8 L99.7,1326 L100.5,1323 L101.3,1319.7 L102.1,1316 L102.9,1312.1 L103.7,1307.8 L104.5,1303.1 L105.3,1298.1 L106.2,1292.8 L107,1287 L107.8,1280.8 L108.6,1274.3 L109.4,1267.4 L110.2,1260.1 L111,1252.4 L111.8,1244.4 L112.6,1236.1 L113.4,1227.5 L114.2,1218.6 L115,1209.5 L115.8,1200.2 L116.6,1190.8 L117.4,1181.2 L118.2,1171.7 L119,1162.2 L119.8,1152.8 L120.6,1143.6 L121.4,1134.7 L122.2,1126.1 L123.1,1117.9 L123.9,1110.3 L124.7,1103.3 L125.5,1097 L126.3,1091.5 L127.1,1086.8 L127.9,1083.1 L128.7,1080.3 L129.5,1078.6 L130.3,1077.8 L131.1,1078.2 L131.9,1079.5 L132.7,1081.8 L133.5,1085.1 L134.3,1089.3 L135.1,1094.3 L135.9,1100 L136.7,1106.4 L137.5,1113.3 L138.4,1120.7 L139.2,1128.6 L140,1136.7 L140.8,1145.1 L141.6,1153.6 L142.4,1162.3 L143.2,1171 L144,1179.6 L144.8,1188.2 L145.6,1196.6 L146.4,1204.8 L147.2,1212.9 L148,1220.7 L148.8,1228.2 L149.6,1235.4 L150.4,1242.3 L151.2,1248.9 L152,1255.2 L152.8,1261.1 L153.6,1266.7 L154.4,1271.9 L155.3,1276.8 L156.1,1281.4 L156.9,1285.7 L157.7,1289.7 L158.5,1293.4 L159.3,1296.9 L160.1,1300 L160.9,1303 L161.7,1305.7 L162.5,1308.3 L163.3,1310.6 L164.1,1312.8 L164.9,1314.8 L165.7,1316.7 L166.5,1318.4 L167.3,1320 L168.1,1321.6 L168.9,1323 L169.7,1324.4 L170.6,1325.6 L171.4,1326.8 L172.2,1328 L173,1329.1 L173.8,1330.1 L174.6,1331.1 L175.4,1332.1 L176.2,1333 L177,1333.9 L177.8,1334.8 L178.6,1335.7 L179.4,1336.5 L180.2,1337.3 L181,1338 L181.8,1338.8 L182.6,1339.5 L183.4,1340.2 L184.2,1340.9 L185,1341.5 L185.8,1342.1 L186.7,1342.8 L187.5,1343.3 L188.3,1343.9 L189.1,1344.4 L189.9,1345 L190.7,1345.4 L191.5,1345.9 L192.3,1346.3 L193.1,1346.8 L193.9,1347.1 L194.7,1347.5 L195.5,1347.8 L196.3,1348.1 L197.1,1348.4 L197.9,1348.7 L198.7,1348.9 L199.5,1349.1 L200.3,1349.2 L201.1,1349.3 L201.9,1349.4 L202.8,1349.5 L203.6,1349.5 L204.4,1349.5 L205.2,1349.4 L206,1349.3 L206.8,1349.1 L207.6,1348.9 L208.4,1348.6 L209.2,1348.3 L210,1347.9 L210.8,1347.5 L211.6,1347 L212.4,1346.4 L213.2,1345.8 L214,1345 L214.8,1344.3 L215.6,1343.4 L216.4,1342.5 L217.2,1341.4 L218,1340.3 L218.9,1339.1 L219.7,1337.9 L220.5,1336.5 L221.3,1335.1 L222.1,1333.5 L222.9,1331.9 L223.7,1330.2 L224.5,1328.4 L225.3,1326.5 L226.1,1324.5 L226.9,1322.5 L227.7,1320.4 L228.5,1318.2 L229.3,1316 L230.1,1313.7 L230.9,1311.4 L231.7,1309 L232.5,1306.6 L233.3,1304.2 L234.1,1301.8 L235,1299.3 L235.8,1296.9 L236.6,1294.5 L237.4,1292.2 L238.2,1289.8 L239,1287.6 L239.8,1285.4 L240.6,1283.3 L241.4,1281.3 L242.2,1279.4 L243,1277.6 L243.8,1275.9 L244.6,1274.3 L245.4,1272.9 L246.2,1271.7 L247,1270.6 L247.8,1269.6 L248.6,1268.8 L249.4,1268.1 L250.2,1267.6 L251.1,1267.3 L251.9,1267 L252.7,1266.9 L253.5,1267 L254.3,1267.1 L255.1,1267.3 L255.9,1267.7 L256.7,1268.1 L257.5,1268.6 L258.3,1269.1 L259.1,1269.7 L259.9,1270.3 L260.7,1271 L261.5,1271.6 L262.3,1272.3 L263.1,1272.9 L263.9,1273.5 L264.7,1274.1 L265.5,1274.7 L266.3,1275.2 L267.1,1275.6 L268,1276 L268.8,1276.3 L269.6,1276.6 L270.4,1276.8 L271.2,1276.9 L272,1276.9 L272.8,1276.9 L273.6,1276.8 L274.4,1276.7 L275.2,1276.5 L276,1276.2 L276.8,1275.8 L277.6,1275.4 L278.4,1275 L279.2,1274.5 L280,1274 L280.8,1273.5 L281.6,1272.9 L282.4,1272.4 L283.2,1271.8 L284.1,1271.2 L284.9,1270.7 L285.7,1270.1 L286.5,1269.6 L287.3,1269.1 L288.1,1268.7 L288.9,1268.3 L289.7,1268 L290.5,1267.7 L291.3,1267.5 L292.1,1267.4 L292.9,1267.4 L293.7,1267.4 L294.5,1267.5 L295.3,1267.7 L296.1,1268 L296.9,1268.4 L297.7,1268.9 L298.5,1269.4 L299.4,1270.1 L300.2,1270.8 L301,1271.7 L301.8,1272.6 L302.6,1273.6 L303.4,1274.6 L304.2,1275.8 L305,1277 L305.8,1278.3 L306.6,1279.7 L307.4,1281.1 L308.2,1282.6 L309,1284.1 L309.8,1285.7 L310.6,1287.3 L311.4,1289 L312.2,1290.6 L313,1292.4 L313.8,1294.1 L314.6,1295.8 L315.5,1297.6 L316.3,1299.4 L317.1,1301.2 L317.9,1302.9 L318.7,1304.7 L319.5,1306.5 L320.3,1308.3 L321.1,1310 L321.9,1311.7 L322.7,1313.5 L323.5,1315.2 L324.3,1316.8 L325.1,1318.5 L325.9,1320.1 L326.7,1321.6 L327.5,1323.2 L328.3,1324.7 L329.1,1326.2 L329.9,1327.6 L330.7,1329 L331.6,1330.3 L332.4,1331.7 L333.2,1332.9 L334,1334.2 L334.8,1335.3 L335.6,1336.5 L336.4,1337.6 L337.2,1338.6 L338,1339.7 L338.8,1340.6 L339.6,1341.6 L340.4,1342.5 L341.2,1343.3 L342,1344.1 L342.8,1344.9 L343.6,1345.6 L344.4,1346.3 L345.2,1347 L346,1347.6 L346.8,1348.2 L347.7,1348.8 L348.5,1349.3 L349.3,1349.8 L350.1,1350.3 L350.9,1350.7 L351.7,1351.2 L352.5,1351.6 L353.3,1351.9 L354.1,1352.3 L354.9,1352.6 L355.7,1352.9 L356.5,1353.2 L357.3,1353.5 L358.1,1353.7 L358.9,1353.9 L359.7,1354.2 L360.5,1354.4 L361.3,1354.5 L362.1,1354.7 L362.9,1354.9 L363.8,1355 L364.6,1355.2 L365.4,1355.3 L366.2,1355.4 L367,1355.5 L367.8,1355.6 L368.6,1355.7 L369.4,1355.8 L370.2,1355.9 L371,1356 L371.8,1356.1 L372.6,1356.1 L373.4,1356.2 L374.2,1356.2 L375,1356.3 L375.8,1356.3 L376.6,1356.4 L377.4,1356.4 L378.2,1356.5 L379,1356.5 L379.9,1356.5 L380.7,1356.6 L381.5,1356.6 L382.3,1356.6 L383.1,1356.6 L383.9,1356.6 L384.7,1356.7 L385.5,1356.7 L386.3,1356.7 L387.1,1356.7 L387.9,1356.7 L388.7,1356.7 L389.5,1356.7 L390.3,1356.6 L391.1,1356.6 L391.9,1356.6 L392.7,1356.5 L393.5,1356.5 L394.3,1356.4 L395.1,1356.3 L396,1356.2 L396.8,1356 L397.6,1355.9 L398.4,1355.7 L399.2,1355.4 L400,1355.2 L400.8,1354.8 L401.6,1354.5 L402.4,1354 L403.2,1353.6 L404,1353 L404.8,1352.3 L405.6,1351.6 L406.4,1350.8 L407.2,1349.8 L408,1348.7 L408.8,1347.5 L409.6,1346.2 L410.4,1344.7 L411.2,1343.1 L412.1,1341.2 L412.9,1339.3 L413.7,1337.1 L414.5,1334.7 L415.3,1332.2 L416.1,1329.4 L416.9,1326.4 L417.7,1323.3 L418.5,1319.9 L419.3,1316.3 L420.1,1312.6 L420.9,1308.7 L421.7,1304.6 L422.5,1300.4 L423.3,1296 L424.1,1291.5 L424.9,1287 L425.7,1282.4 L426.5,1277.7 L427.3,1273.1 L428.2,1268.5 L429,1263.9 L429.8,1259.5 L430.6,1255.2 L431.4,1251.1 L432.2,1247.2 L433,1243.5 L433.8,1240.1 L434.6,1237 L435.4,1234.2 L436.2,1231.8 L437,1229.8 L437.8,1228.1 L438.6,1226.9 L439.4,1226.1 L440.2,1225.7 L441,1225.7 L441.8,1226.1 L442.6,1226.9 L443.4,1228.1 L444.3,1229.6 L445.1,1231.6 L445.9,1233.8 L446.7,1236.3 L447.5,1239.1 L448.3,1242.1 L449.1,1245.3 L449.9,1248.7 L450.7,1252.2 L451.5,1255.9 L452.3,1259.5 L453.1,1263.2 L453.9,1266.9 L454.7,1270.6 L455.5,1274.3 L456.3,1277.8 L457.1,1281.3 L457.9,1284.6 L458.7,1287.9 L459.5,1291 L460.4,1293.9 L461.2,1296.7 L462,1299.4 L462.8,1301.9 L463.6,1304.2 L464.4,1306.4 L465.2,1308.5 L466,1310.5 L466.8,1312.3 L467.6,1314 L468.4,1315.6 L469.2,1317.1 L470,1318.6 L470.8,1319.9 L471.6,1321.2 L472.4,1322.5 L473.2,1323.6 L474,1324.8 L474.8,1325.9 L475.6,1327 L476.5,1328 L477.3,1329 L478.1,1330 L478.9,1331 L479.7,1332 L480.5,1332.9 L481.3,1333.8 L482.1,1334.7 L482.9,1335.6 L483.7,1336.5 L484.5,1337.4 L485.3,1338.2 L486.1,1339.1 L486.9,1339.9 L487.7,1340.7 L488.5,1341.5 L489.3,1342.3 L490.1,1343 L490.9,1343.8 L491.7,1344.5 L492.6,1345.2 L493.4,1345.9 L494.2,1346.5 L495,1347.1 L495.8,1347.7 L496.6,1348.3 L497.4,1348.9 L498.2,1349.4 L499,1349.9 L499.8,1350.4 L500.6,1350.9 L501.4,1351.3 L502.2,1351.8 L503,1352.2 L503.8,1352.5 L504.6,1352.9 L505.4,1353.2 L506.2,1353.6 L507,1353.9 L507.8,1354.1 L508.7,1354.4 L509.5,1354.6 L510.3,1354.9 L511.1,1355.1 L511.9,1355.3 L512.7,1355.5 L513.5,1355.7 L514.3,1355.8 L515.1,1356 L515.9,1356.1 L516.7,1356.2 L517.5,1356.4 L518.3,1356.5 L519.1,1356.6 L519.9,1356.7 L520.7,1356.8 L521.5,1356.8 L522.3,1356.9 L523.1,1357 L523.9,1357.1 L524.8,1357.1 L525.6,1357.2 L526.4,1357.2 L527.2,1357.3 L528,1357.3 L528.8,1357.4 L529.6,1357.4 L530.4,1357.5 L531.2,1357.5 L532,1357.5 L532.8,1357.6 L533.6,1357.6 L534.4,1357.6 L535.2,1357.7 L536,1357.7 L536.8,1357.7 L537.6,1357.7 L538.4,1357.8 L539.2,1357.8 L540,1357.8 L540.9,1357.8 L541.7,1357.8 L542.5,1357.9 L543.3,1357.9 L544.1,1357.9 L544.9,1357.9 L545.7,1357.9 L546.5,1358 L547.3,1358 L548.1,1358 L548.9,1358 L549.7,1358 L550.5,1358 L551.3,1358 L552.1,1358.1 L552.9,1358.1 L553.7,1358.1 L554.5,1358.1 L555.3,1358.1 L556.1,1358.1 L557,1358.1" fill="none" stroke="#000" stroke-width="3" stroke-linejoin="round"/><g fill="#fff" stroke="#000" stroke-width="1.4"><circle cx="72.3" cy="1358.4" r="2.7"/><circle cx="74.8" cy="1351.9" r="2.7"/><circle cx="77.2" cy="1353.5" r="2.7"/><circle cx="79.6" cy="1352.4" r="2.7"/><circle cx="82" cy="1352.9" r="2.7"/><circle cx="84.4" cy="1347.4" r="2.7"/><circle cx="86.8" cy="1348" r="2.7"/><circle cx="89.2" cy="1345.4" r="2.7"/><circle cx="91.7" cy="1342.1" r="2.7"/><circle cx="94.1" cy="1339" r="2.7"/><circle cx="96.5" cy="1334.6" r="2.7"/><circle cx="98.9" cy="1328.2" r="2.7"/><circle cx="101.3" cy="1317.9" r="2.7"/><circle cx="103.7" cy="1308.6" r="2.7"/><circle cx="106.1" cy="1291.7" r="2.7"/><circle cx="108.6" cy="1267.9" r="2.7"/><circle cx="111" cy="1254.8" r="2.7"/><circle cx="113.4" cy="1226.7" r="2.7"/><circle cx="115.8" cy="1198.7" r="2.7"/><circle cx="118.2" cy="1172.2" r="2.7"/><circle cx="120.6" cy="1144.1" r="2.7"/><circle cx="123.1" cy="1118" r="2.7"/><circle cx="125.5" cy="1095.3" r="2.7"/><circle cx="127.9" cy="1083.5" r="2.7"/><circle cx="130.3" cy="1074.8" r="2.7"/><circle cx="132.7" cy="1084.7" r="2.7"/><circle cx="135.1" cy="1091.7" r="2.7"/><circle cx="137.5" cy="1112.9" r="2.7"/><circle cx="140" cy="1136.7" r="2.7"/><circle cx="142.4" cy="1162.7" r="2.7"/><circle cx="144.8" cy="1187.7" r="2.7"/><circle cx="147.2" cy="1213.8" r="2.7"/><circle cx="149.6" cy="1228.1" r="2.7"/><circle cx="152" cy="1254.7" r="2.7"/><circle cx="154.4" cy="1271.3" r="2.7"/><circle cx="156.9" cy="1284.6" r="2.7"/><circle cx="159.3" cy="1299.7" r="2.7"/><circle cx="161.7" cy="1303.5" r="2.7"/><circle cx="164.1" cy="1312.4" r="2.7"/><circle cx="166.5" cy="1314.1" r="2.7"/><circle cx="168.9" cy="1323.3" r="2.7"/><circle cx="171.4" cy="1323.3" r="2.7"/><circle cx="173.8" cy="1326.7" r="2.7"/><circle cx="176.2" cy="1337.5" r="2.7"/><circle cx="178.6" cy="1336.8" r="2.7"/><circle cx="181" cy="1337.8" r="2.7"/><circle cx="183.4" cy="1340.3" r="2.7"/><circle cx="185.8" cy="1339" r="2.7"/><circle cx="188.3" cy="1341.5" r="2.7"/><circle cx="190.7" cy="1346" r="2.7"/><circle cx="193.1" cy="1342.2" r="2.7"/><circle cx="195.5" cy="1348.1" r="2.7"/><circle cx="197.9" cy="1344.9" r="2.7"/><circle cx="200.3" cy="1349.2" r="2.7"/><circle cx="202.7" cy="1347" r="2.7"/><circle cx="205.2" cy="1352.7" r="2.7"/><circle cx="207.6" cy="1350.7" r="2.7"/><circle cx="210" cy="1346.6" r="2.7"/><circle cx="212.4" cy="1342.3" r="2.7"/><circle cx="214.8" cy="1342.4" r="2.7"/><circle cx="217.2" cy="1341.1" r="2.7"/><circle cx="219.7" cy="1335.6" r="2.7"/><circle cx="222.1" cy="1333.8" r="2.7"/><circle cx="224.5" cy="1330.1" r="2.7"/><circle cx="226.9" cy="1322.1" r="2.7"/><circle cx="229.3" cy="1314.8" r="2.7"/><circle cx="231.7" cy="1310.3" r="2.7"/><circle cx="234.1" cy="1300.9" r="2.7"/><circle cx="236.6" cy="1296" r="2.7"/><circle cx="239" cy="1286.7" r="2.7"/><circle cx="241.4" cy="1284.3" r="2.7"/><circle cx="243.8" cy="1275.1" r="2.7"/><circle cx="246.2" cy="1269.3" r="2.7"/><circle cx="248.6" cy="1268.7" r="2.7"/><circle cx="251" cy="1265.7" r="2.7"/><circle cx="253.5" cy="1264.8" r="2.7"/><circle cx="255.9" cy="1267.2" r="2.7"/><circle cx="258.3" cy="1270.4" r="2.7"/><circle cx="260.7" cy="1266.3" r="2.7"/><circle cx="263.1" cy="1272.6" r="2.7"/><circle cx="265.5" cy="1274.1" r="2.7"/><circle cx="268" cy="1275.4" r="2.7"/><circle cx="270.4" cy="1278.2" r="2.7"/><circle cx="272.8" cy="1274" r="2.7"/><circle cx="275.2" cy="1277.5" r="2.7"/><circle cx="277.6" cy="1274.7" r="2.7"/><circle cx="280" cy="1274" r="2.7"/><circle cx="282.4" cy="1271.7" r="2.7"/><circle cx="284.9" cy="1269.7" r="2.7"/><circle cx="287.3" cy="1267.8" r="2.7"/><circle cx="289.7" cy="1268.6" r="2.7"/><circle cx="292.1" cy="1271.4" r="2.7"/><circle cx="294.5" cy="1269.4" r="2.7"/><circle cx="296.9" cy="1269.9" r="2.7"/><circle cx="299.3" cy="1271" r="2.7"/><circle cx="301.8" cy="1271.4" r="2.7"/><circle cx="304.2" cy="1276.8" r="2.7"/><circle cx="306.6" cy="1283.7" r="2.7"/><circle cx="309" cy="1281.3" r="2.7"/><circle cx="311.4" cy="1290.4" r="2.7"/><circle cx="313.8" cy="1295.9" r="2.7"/><circle cx="316.3" cy="1299.8" r="2.7"/><circle cx="318.7" cy="1306.1" r="2.7"/><circle cx="321.1" cy="1312.7" r="2.7"/><circle cx="323.5" cy="1319.5" r="2.7"/><circle cx="325.9" cy="1322.5" r="2.7"/><circle cx="328.3" cy="1327.9" r="2.7"/><circle cx="330.7" cy="1329.5" r="2.7"/><circle cx="333.2" cy="1334.5" r="2.7"/><circle cx="335.6" cy="1336.7" r="2.7"/><circle cx="338" cy="1340.1" r="2.7"/><circle cx="340.4" cy="1341.4" r="2.7"/><circle cx="342.8" cy="1346.1" r="2.7"/><circle cx="345.2" cy="1349.8" r="2.7"/><circle cx="347.6" cy="1348.3" r="2.7"/><circle cx="350.1" cy="1350.7" r="2.7"/><circle cx="352.5" cy="1352.7" r="2.7"/><circle cx="354.9" cy="1352.5" r="2.7"/><circle cx="357.3" cy="1355.2" r="2.7"/><circle cx="359.7" cy="1354.6" r="2.7"/><circle cx="362.1" cy="1352.3" r="2.7"/><circle cx="364.6" cy="1353" r="2.7"/><circle cx="367" cy="1356.9" r="2.7"/><circle cx="369.4" cy="1357" r="2.7"/><circle cx="371.8" cy="1358.2" r="2.7"/><circle cx="374.2" cy="1356.7" r="2.7"/><circle cx="376.6" cy="1356.7" r="2.7"/><circle cx="379" cy="1353.2" r="2.7"/><circle cx="381.5" cy="1359.3" r="2.7"/><circle cx="383.9" cy="1354.7" r="2.7"/><circle cx="386.3" cy="1358.7" r="2.7"/><circle cx="388.7" cy="1354.3" r="2.7"/><circle cx="391.1" cy="1355.2" r="2.7"/><circle cx="393.5" cy="1356.7" r="2.7"/><circle cx="395.9" cy="1355.2" r="2.7"/><circle cx="398.4" cy="1354.2" r="2.7"/><circle cx="400.8" cy="1356.6" r="2.7"/><circle cx="403.2" cy="1354.9" r="2.7"/><circle cx="405.6" cy="1352.3" r="2.7"/><circle cx="408" cy="1348" r="2.7"/><circle cx="410.4" cy="1343" r="2.7"/><circle cx="412.9" cy="1338.2" r="2.7"/><circle cx="415.3" cy="1331" r="2.7"/><circle cx="417.7" cy="1323.2" r="2.7"/><circle cx="420.1" cy="1314.1" r="2.7"/><circle cx="422.5" cy="1300" r="2.7"/><circle cx="424.9" cy="1285.3" r="2.7"/><circle cx="427.3" cy="1271.8" r="2.7"/><circle cx="429.8" cy="1262" r="2.7"/><circle cx="432.2" cy="1247.4" r="2.7"/><circle cx="434.6" cy="1237.4" r="2.7"/><circle cx="437" cy="1230.3" r="2.7"/><circle cx="439.4" cy="1227.2" r="2.7"/><circle cx="441.8" cy="1226.3" r="2.7"/><circle cx="444.2" cy="1232" r="2.7"/><circle cx="446.7" cy="1237.9" r="2.7"/><circle cx="449.1" cy="1239.6" r="2.7"/><circle cx="451.5" cy="1255.6" r="2.7"/><circle cx="453.9" cy="1272.9" r="2.7"/><circle cx="456.3" cy="1275.2" r="2.7"/><circle cx="458.7" cy="1288.1" r="2.7"/><circle cx="461.2" cy="1298.9" r="2.7"/><circle cx="463.6" cy="1304.2" r="2.7"/><circle cx="466" cy="1313.1" r="2.7"/><circle cx="468.4" cy="1313.1" r="2.7"/><circle cx="470.8" cy="1317.4" r="2.7"/><circle cx="473.2" cy="1323.3" r="2.7"/><circle cx="475.6" cy="1325.5" r="2.7"/><circle cx="478.1" cy="1327.9" r="2.7"/><circle cx="480.5" cy="1334" r="2.7"/><circle cx="482.9" cy="1336.2" r="2.7"/><circle cx="485.3" cy="1338.3" r="2.7"/><circle cx="487.7" cy="1339.9" r="2.7"/><circle cx="490.1" cy="1343.6" r="2.7"/><circle cx="492.5" cy="1344.9" r="2.7"/><circle cx="495" cy="1345.7" r="2.7"/><circle cx="497.4" cy="1349.9" r="2.7"/><circle cx="499.8" cy="1351.2" r="2.7"/><circle cx="502.2" cy="1351.9" r="2.7"/><circle cx="504.6" cy="1354.3" r="2.7"/><circle cx="507" cy="1351.6" r="2.7"/><circle cx="509.5" cy="1354.4" r="2.7"/><circle cx="511.9" cy="1354.2" r="2.7"/><circle cx="514.3" cy="1358.5" r="2.7"/><circle cx="516.7" cy="1357.3" r="2.7"/><circle cx="519.1" cy="1360.8" r="2.7"/><circle cx="521.5" cy="1360" r="2.7"/><circle cx="523.9" cy="1356.3" r="2.7"/><circle cx="526.4" cy="1355" r="2.7"/><circle cx="528.8" cy="1358.3" r="2.7"/><circle cx="531.2" cy="1356.9" r="2.7"/><circle cx="533.6" cy="1357.3" r="2.7"/><circle cx="536" cy="1355.6" r="2.7"/><circle cx="538.4" cy="1359" r="2.7"/><circle cx="540.8" cy="1358.2" r="2.7"/><circle cx="543.3" cy="1358.7" r="2.7"/><circle cx="545.7" cy="1358.6" r="2.7"/><circle cx="548.1" cy="1356.2" r="2.7"/><circle cx="550.5" cy="1353.6" r="2.7"/><circle cx="552.9" cy="1357.5" r="2.7"/><circle cx="555.3" cy="1356.8" r="2.7"/></g><line x1="604.2" y1="1039" x2="1100.1" y2="1039" stroke="#1a7a1a" stroke-width="1.6"/><path d="M604.2,1039 L606.7,1039 L609.2,1039 L611.7,1039 L614.2,1039 L616.7,1039 L619.1,1039 L621.6,1039 L624.1,1039 L626.6,1039 L629.1,1039 L631.6,1039 L634.1,1038.9 L636.5,1038.8 L639,1038.4 L641.5,1037.4 L644,1035.2 L646.5,1030.8 L649,1022.8 L651.5,1009.7 L653.9,990.8 L656.4,966.6 L658.9,939.7 L661.4,914.7 L663.9,897.1 L666.4,891.1 L668.8,898.3 L671.3,916.9 L673.8,942.3 L676.3,969 L678.8,992.8 L681.3,1011.2 L683.8,1023.7 L686.2,1031.3 L688.7,1035.5 L691.2,1037.5 L693.7,1038.4 L696.2,1038.8 L698.7,1038.9 L701.1,1039 L703.6,1039 L706.1,1039 L708.6,1039 L711.1,1039 L713.6,1039 L716.1,1039 L718.5,1039 L721,1039 L723.5,1039 L726,1039 L728.5,1039 L731,1039 L733.4,1039 L735.9,1039 L738.4,1039 L740.9,1039 L743.4,1039 L745.9,1039 L748.4,1039 L750.8,1039 L753.3,1039 Z" fill="url(#g_blue)" stroke="none"/><path d="M604.2,1039 L604.2,1039 L607,1039 L609.8,1039 L612.6,1039 L615.4,1039 L618.2,1039 L621,1039 L623.8,1039 L626.5,1039 L629.3,1039 L632.1,1039 L634.9,1038.9 L637.7,1038.6 L640.5,1037.9 L643.3,1036 L646.1,1031.7 L648.9,1023.2 L651.6,1008.5 L654.4,986.4 L657.2,958.1 L660,928.1 L662.8,903.6 L665.6,891.6 L668.4,896 L671.2,915.3 L673.9,943.7 L676.7,973.5 L679.5,998.9 L682.3,1017.1 L685.1,1028.4 L687.9,1034.4 L690.7,1037.2 L693.5,1038.4 L696.3,1038.8 L699,1038.9 L701.8,1039 L704.6,1039 L707.4,1039 L710.2,1039 L713,1039 L715.8,1039 L718.6,1039 L721.3,1039 L724.1,1039 L726.9,1039 L729.7,1039 L732.5,1039 L735.3,1039 L738.1,1039 L740.9,1039 L743.6,1039 L1100.1,1039" fill="none" stroke="#20208a" stroke-width="1.9" stroke-dasharray="13,8"/><path d="M604.2,1038.7 L607.7,1038.7 L611.1,1038.6 L614.6,1038.6 L618,1038.5 L621.5,1038.5 L624.9,1038.4 L628.4,1038.4 L631.8,1038.3 L635.2,1038.2 L638.7,1038 L642.1,1037.7 L645.6,1037 L649,1035.8 L652.5,1033.3 L655.9,1028.8 L659.4,1021 L662.8,1008.8 L666.2,991.5 L669.7,969.6 L673.1,945 L676.6,921.2 L680,902.9 L683.5,894.4 L686.9,897.8 L690.4,912.4 L693.8,934.4 L697.2,959.2 L700.7,982.6 L704.1,1002 L707.6,1016.3 L711,1025.9 L714.5,1031.7 L717.9,1034.9 L721.4,1036.6 L724.8,1037.5 L728.3,1037.9 L731.7,1038.1 L735.1,1038.2 L738.6,1038.3 L742,1038.4 L745.5,1038.5 L748.9,1038.5 L752.4,1038.6 L755.8,1038.6 L759.3,1038.6 L762.7,1038.7 L766.1,1038.7 L769.6,1038.7 L773,1038.7 L776.5,1038.8 L779.9,1038.8 L783.4,1038.8 L786.8,1038.8 L790.3,1038.8 L793.7,1038.8 L797.1,1038.8 L800.6,1038.8 L804,1038.9 L807.5,1038.9 L810.9,1038.9 Z" fill="url(#g_green)" stroke="none"/><path d="M604.2,1038.7 L604.2,1038.7 L608.1,1038.7 L611.9,1038.6 L615.8,1038.6 L619.6,1038.5 L623.5,1038.5 L627.4,1038.4 L631.2,1038.3 L635.1,1038.2 L638.9,1038 L642.8,1037.6 L646.6,1036.8 L650.5,1034.9 L654.3,1031.2 L658.2,1024.1 L662,1012 L665.9,993.6 L669.7,969.3 L673.6,941.8 L677.4,916 L681.3,898.5 L685.1,894.5 L689,905.5 L692.8,927.8 L696.7,955.1 L700.5,981.6 L704.4,1003.2 L708.2,1018.5 L712.1,1028 L716,1033.3 L719.8,1036 L723.7,1037.2 L727.5,1037.8 L731.4,1038.1 L735.2,1038.2 L739.1,1038.4 L742.9,1038.4 L746.8,1038.5 L750.6,1038.6 L754.5,1038.6 L758.3,1038.6 L762.2,1038.7 L766,1038.7 L769.9,1038.7 L773.7,1038.7 L777.6,1038.8 L781.4,1038.8 L785.3,1038.8 L789.1,1038.8 L793,1038.8 L796.8,1038.8 L1100.1,1039" fill="none" stroke="#117a11" stroke-width="1.9" stroke-dasharray="13,8"/><path d="M604.2,1038.8 L650.7,1038.5 L652.9,1038.4 L655.2,1038.4 L657.4,1038.3 L659.6,1038.3 L661.9,1038.2 L664.1,1038.1 L666.4,1038 L668.6,1037.9 L670.8,1037.7 L673.1,1037.6 L675.3,1037.4 L677.6,1037.1 L679.8,1036.8 L682,1036.4 L684.3,1035.9 L686.5,1035.3 L688.7,1034.4 L691,1033 L693.2,1031 L695.5,1027.9 L697.7,1023.2 L699.9,1016.6 L702.2,1008.1 L704.4,999.8 L706.7,996 L708.9,999.8 L711.1,1008.1 L713.4,1016.6 L715.6,1023.2 L717.8,1027.9 L720.1,1031 L722.3,1033 L724.6,1034.4 L726.8,1035.3 L729,1035.9 L731.3,1036.4 L733.5,1036.8 L735.8,1037.1 L738,1037.4 L740.2,1037.6 L742.5,1037.7 L744.7,1037.9 L746.9,1038 L749.2,1038.1 L751.4,1038.2 L753.7,1038.3 L755.9,1038.3 L758.1,1038.4 L760.4,1038.4 L762.6,1038.5 L1100.1,1039" fill="none" stroke="#1a1a85" stroke-width="1.9" stroke-dasharray="13,8"/><path d="M604.2,1039 L614,1039 L618.8,1039 L623.6,1039 L628.3,1039 L633.1,1039 L637.8,1039 L642.6,1039 L647.4,1039 L652.1,1039 L656.9,1039 L661.7,1039 L666.4,1039 L671.2,1039 L675.9,1039 L680.7,1039 L685.5,1039 L690.2,1038.9 L695,1038.6 L699.8,1038 L704.5,1036.4 L709.3,1033.4 L714.1,1028.4 L718.8,1021.6 L723.6,1014.2 L728.3,1008.3 L733.1,1006.1 L737.9,1008.3 L742.6,1014.2 L747.4,1021.6 L752.2,1028.4 L756.9,1033.4 L761.7,1036.4 L766.4,1038 L771.2,1038.6 L776,1038.9 L780.7,1039 L785.5,1039 L790.3,1039 L795,1039 L799.8,1039 L804.5,1039 L809.3,1039 L814.1,1039 L818.8,1039 L823.6,1039 L828.4,1039 L833.1,1039 L837.9,1039 L842.7,1039 L847.4,1039 L852.2,1039 L1100.1,1039" fill="none" stroke="#1a1a85" stroke-width="1.9" stroke-dasharray="13,8"/><path d="M604.2,1039 L691.6,1039 L696.5,1039 L701.4,1039 L706.3,1039 L711.2,1039 L716.2,1039 L721.1,1039 L726,1039 L730.9,1039 L735.8,1039 L740.7,1039 L745.6,1039 L750.5,1039 L755.4,1039 L760.3,1039 L765.2,1039 L770.1,1038.9 L775,1038.6 L779.9,1037.9 L784.8,1036.2 L789.7,1033 L794.6,1027.6 L799.5,1020.3 L804.4,1012.3 L809.3,1005.9 L814.2,1003.5 L819.2,1005.9 L824.1,1012.3 L829,1020.3 L833.9,1027.6 L838.8,1033 L843.7,1036.2 L848.6,1037.9 L853.5,1038.6 L858.4,1038.9 L863.3,1039 L868.2,1039 L873.1,1039 L878,1039 L882.9,1039 L887.8,1039 L892.7,1039 L897.6,1039 L902.5,1039 L907.4,1039 L912.3,1039 L917.2,1039 L922.2,1039 L927.1,1039 L932,1039 L936.9,1039 L1100.1,1039" fill="none" stroke="#1a1a85" stroke-width="1.9" stroke-dasharray="13,8"/><path d="M604.2,1039 L747.9,1039 L751.8,1039 L755.7,1039 L759.6,1039 L763.5,1039 L767.4,1039 L771.3,1039 L775.2,1039 L779.1,1039 L783,1039 L786.9,1039 L790.8,1039 L794.7,1039 L798.5,1039 L802.4,1039 L806.3,1039 L810.2,1038.9 L814.1,1038.6 L818,1038 L821.9,1036.4 L825.8,1033.4 L829.7,1028.4 L833.6,1021.6 L837.5,1014.2 L841.4,1008.3 L845.3,1006.1 L849.1,1008.3 L853,1014.2 L856.9,1021.6 L860.8,1028.4 L864.7,1033.4 L868.6,1036.4 L872.5,1038 L876.4,1038.6 L880.3,1038.9 L884.2,1039 L888.1,1039 L892,1039 L895.9,1039 L899.7,1039 L903.6,1039 L907.5,1039 L911.4,1039 L915.3,1039 L919.2,1039 L923.1,1039 L927,1039 L930.9,1039 L934.8,1039 L938.7,1039 L942.6,1039 L1100.1,1039" fill="none" stroke="#1a1a85" stroke-width="1.9" stroke-dasharray="13,8"/><path d="M604.2,1039 L776.5,1039 L781.7,1039 L786.9,1039 L792.1,1039 L797.3,1039 L802.5,1039 L807.7,1039 L812.9,1039 L818.1,1039 L823.3,1039 L828.5,1039 L833.7,1039 L839,1039 L844.2,1039 L849.4,1039 L854.6,1038.9 L859.8,1038.9 L865,1038.6 L870.2,1038.1 L875.4,1036.7 L880.6,1034.1 L885.8,1029.8 L891,1024 L896.2,1017.6 L901.4,1012.5 L906.6,1010.6 L911.8,1012.5 L917,1017.6 L922.2,1024 L927.5,1029.8 L932.7,1034.1 L937.9,1036.7 L943.1,1038.1 L948.3,1038.6 L953.5,1038.9 L958.7,1038.9 L963.9,1039 L969.1,1039 L974.3,1039 L979.5,1039 L984.7,1039 L989.9,1039 L995.1,1039 L1000.3,1039 L1005.5,1039 L1010.8,1039 L1016,1039 L1021.2,1039 L1026.4,1039 L1031.6,1039 L1036.8,1039 L1100.1,1039" fill="none" stroke="#1a1a85" stroke-width="1.9" stroke-dasharray="13,8"/><path d="M900.9,1038.8 L904,1038.8 L907.1,1038.8 L910.3,1038.8 L913.4,1038.8 L916.6,1038.8 L919.7,1038.8 L922.9,1038.7 L926,1038.7 L929.1,1038.7 L932.3,1038.7 L935.4,1038.6 L938.6,1038.6 L941.7,1038.5 L944.9,1038.5 L948,1038.4 L951.2,1038.3 L954.3,1038.2 L957.4,1038.1 L960.6,1037.9 L963.7,1037.6 L966.9,1037.1 L970,1036 L973.2,1033.8 L976.3,1029.6 L979.5,1022.3 L982.6,1011.2 L985.7,997 L988.9,981.9 L992,969.8 L995.2,965.1 L998.3,969.8 L1001.5,981.9 L1004.6,997 L1007.8,1011.2 L1010.9,1022.3 L1014,1029.6 L1017.2,1033.8 L1020.3,1036 L1023.5,1037.1 L1026.6,1037.6 L1029.8,1037.9 L1032.9,1038.1 L1036.1,1038.2 L1039.2,1038.3 L1042.3,1038.4 L1045.5,1038.5 L1048.6,1038.5 L1051.8,1038.6 L1054.9,1038.6 L1058.1,1038.7 L1061.2,1038.7 L1064.4,1038.7 L1067.5,1038.7 L1070.6,1038.8 L1073.8,1038.8 L1076.9,1038.8 L1080.1,1038.8 L1083.2,1038.8 L1086.4,1038.8 L1089.5,1038.8 Z" fill="url(#g_blue)" stroke="none"/><path d="M604.2,1039 L911.3,1038.8 L914.7,1038.8 L918,1038.8 L921.4,1038.8 L924.7,1038.7 L928.1,1038.7 L931.5,1038.7 L934.8,1038.6 L938.2,1038.6 L941.5,1038.5 L944.9,1038.5 L948.2,1038.4 L951.6,1038.3 L954.9,1038.2 L958.3,1038.1 L961.6,1037.9 L965,1037.5 L968.3,1036.7 L971.7,1035 L975.1,1031.6 L978.4,1025.1 L981.8,1014.5 L985.1,1000.1 L988.5,983.9 L991.8,970.4 L995.2,965.1 L998.5,970.4 L1001.9,983.9 L1005.2,1000.1 L1008.6,1014.5 L1011.9,1025.1 L1015.3,1031.6 L1018.7,1035 L1022,1036.7 L1025.4,1037.5 L1028.7,1037.9 L1032.1,1038.1 L1035.4,1038.2 L1038.8,1038.3 L1042.1,1038.4 L1045.5,1038.5 L1048.8,1038.5 L1052.2,1038.6 L1055.6,1038.6 L1058.9,1038.7 L1062.3,1038.7 L1065.6,1038.7 L1069,1038.8 L1072.3,1038.8 L1075.7,1038.8 L1079,1038.8 L1100.1,1038.9" fill="none" stroke="#20208a" stroke-width="1.9" stroke-dasharray="13,8"/><path d="M922.9,1038.5 L925.7,1038.4 L928.6,1038.4 L931.4,1038.3 L934.2,1038.3 L937.1,1038.2 L939.9,1038.2 L942.8,1038.1 L945.6,1038 L948.4,1037.9 L951.3,1037.8 L954.1,1037.7 L956.9,1037.5 L959.8,1037.4 L962.6,1037.2 L965.4,1036.9 L968.3,1036.6 L971.1,1036.3 L973.9,1035.8 L976.8,1035.3 L979.6,1034.5 L982.4,1033.5 L985.3,1031.9 L988.1,1029.4 L991,1025.4 L993.8,1019.1 L996.6,1009.9 L999.5,997.6 L1002.3,983.3 L1005.1,970.5 L1008,965 L1010.8,970.5 L1013.6,983.3 L1016.5,997.6 L1019.3,1009.9 L1022.1,1019.1 L1025,1025.4 L1027.8,1029.4 L1030.6,1031.9 L1033.5,1033.5 L1036.3,1034.5 L1039.2,1035.3 L1042,1035.8 L1044.8,1036.3 L1047.7,1036.6 L1050.5,1036.9 L1053.3,1037.2 L1056.2,1037.4 L1059,1037.5 L1061.8,1037.7 L1064.7,1037.8 L1067.5,1037.9 L1070.3,1038 L1073.2,1038.1 L1076,1038.2 L1078.8,1038.2 L1081.7,1038.3 L1084.5,1038.3 L1087.3,1038.4 L1090.2,1038.4 L1093,1038.5 Z" fill="url(#g_green)" stroke="none"/><path d="M604.2,1039 L932.4,1038.3 L935.4,1038.3 L938.4,1038.2 L941.4,1038.1 L944.5,1038 L947.5,1037.9 L950.5,1037.8 L953.5,1037.7 L956.6,1037.6 L959.6,1037.4 L962.6,1037.2 L965.6,1036.9 L968.6,1036.6 L971.7,1036.2 L974.7,1035.7 L977.7,1035 L980.7,1034.2 L983.8,1032.8 L986.8,1030.7 L989.8,1027.3 L992.8,1021.5 L995.9,1012.7 L998.9,1000.3 L1001.9,985.2 L1004.9,971.2 L1008,965 L1011,971.2 L1014,985.2 L1017,1000.3 L1020.1,1012.7 L1023.1,1021.5 L1026.1,1027.3 L1029.1,1030.7 L1032.2,1032.8 L1035.2,1034.2 L1038.2,1035 L1041.2,1035.7 L1044.3,1036.2 L1047.3,1036.6 L1050.3,1036.9 L1053.3,1037.2 L1056.4,1037.4 L1059.4,1037.6 L1062.4,1037.7 L1065.4,1037.8 L1068.4,1037.9 L1071.5,1038 L1074.5,1038.1 L1077.5,1038.2 L1080.5,1038.3 L1083.6,1038.3 L1100.1,1038.5" fill="none" stroke="#117a11" stroke-width="1.9" stroke-dasharray="13,8"/><path d="M604.2,1039 L931.8,1039 L935.2,1039 L938.6,1039 L941.9,1039 L945.3,1039 L948.7,1039 L952,1039 L955.4,1039 L958.8,1039 L962.1,1039 L965.5,1039 L968.9,1039 L972.2,1039 L975.6,1039 L978.9,1039 L982.3,1039 L985.7,1039 L989,1038.9 L992.4,1038.8 L995.8,1038.5 L999.1,1037.6 L1002.5,1035.8 L1005.9,1032.5 L1009.2,1027.1 L1012.6,1019.6 L1016,1010.8 L1019.3,1002.6 L1022.7,997.1 L1026.1,996 L1029.4,999.6 L1032.8,1006.9 L1036.2,1015.7 L1039.5,1024 L1042.9,1030.3 L1046.3,1034.5 L1049.6,1037 L1053,1038.2 L1056.4,1038.7 L1059.7,1038.9 L1063.1,1039 L1066.5,1039 L1069.8,1039 L1073.2,1039 L1076.6,1039 L1079.9,1039 L1083.3,1039 L1086.7,1039 L1090,1039 L1093.4,1039 L1096.8,1039 L1100.1,1039 L1100.1,1039" fill="none" stroke="#1a1a85" stroke-width="1.9" stroke-dasharray="13,8"/><path d="M604.2,1039 L1001.6,1038.9 L1003.6,1038.9 L1005.6,1038.9 L1007.5,1038.9 L1009.5,1038.9 L1011.5,1038.9 L1013.5,1038.8 L1015.4,1038.8 L1017.4,1038.8 L1019.4,1038.8 L1021.3,1038.8 L1023.3,1038.8 L1025.3,1038.7 L1027.2,1038.7 L1029.2,1038.7 L1031.2,1038.7 L1033.2,1038.6 L1035.1,1038.6 L1037.1,1038.5 L1039.1,1038.4 L1041,1038.3 L1043,1038.1 L1045,1037.7 L1046.9,1037 L1048.9,1035.9 L1050.9,1034 L1052.8,1031.1 L1054.8,1027.3 L1056.8,1022.5 L1058.8,1017.4 L1060.7,1012.8 L1062.7,1009.9 L1064.7,1009.6 L1066.6,1011.9 L1068.6,1016.2 L1070.6,1021.3 L1072.5,1026.2 L1074.5,1030.3 L1076.5,1033.4 L1078.5,1035.5 L1080.4,1036.8 L1082.4,1037.6 L1084.4,1038 L1086.3,1038.2 L1088.3,1038.4 L1090.3,1038.5 L1092.2,1038.5 L1094.2,1038.6 L1096.2,1038.6 L1098.2,1038.7 L1100.1,1038.7 L1100.1,1038.7" fill="none" stroke="#1a1a85" stroke-width="1.9" stroke-dasharray="13,8"/><path d="M599.4,1038.3 L600.2,1038.3 L601,1038.2 L601.8,1038.2 L602.6,1038.2 L603.4,1038.2 L604.2,1038.2 L605.1,1038.1 L605.9,1038.1 L606.7,1038.1 L607.5,1038.1 L608.3,1038.1 L609.1,1038 L609.9,1038 L610.7,1038 L611.5,1038 L612.3,1037.9 L613.1,1037.9 L613.9,1037.9 L614.7,1037.8 L615.5,1037.8 L616.3,1037.8 L617.1,1037.7 L618,1037.7 L618.8,1037.6 L619.6,1037.6 L620.4,1037.5 L621.2,1037.4 L622,1037.3 L622.8,1037.3 L623.6,1037.1 L624.4,1037 L625.2,1036.9 L626,1036.7 L626.8,1036.4 L627.6,1036.1 L628.4,1035.8 L629.2,1035.4 L630,1034.8 L630.9,1034.2 L631.7,1033.4 L632.5,1032.5 L633.3,1031.5 L634.1,1030.2 L634.9,1028.7 L635.7,1027 L636.5,1025 L637.3,1022.8 L638.1,1020.3 L638.9,1017.5 L639.7,1014.4 L640.5,1011.1 L641.3,1007.4 L642.1,1003.5 L642.9,999.3 L643.8,994.9 L644.6,990.3 L645.4,985.5 L646.2,980.5 L647,975.4 L647.8,970.2 L648.6,964.9 L649.4,959.5 L650.2,954 L651,948.4 L651.8,942.7 L652.6,936.9 L653.4,930.8 L654.2,924.6 L655,918.1 L655.8,911.4 L656.7,904.4 L657.5,897.1 L658.3,889.7 L659.1,882.1 L659.9,874.5 L660.7,866.9 L661.5,859.4 L662.3,852.2 L663.1,845.4 L663.9,839.1 L664.7,833.3 L665.5,828.1 L666.3,823.7 L667.1,819.9 L667.9,816.8 L668.8,814.4 L669.6,812.7 L670.4,811.7 L671.2,811.3 L672,811.4 L672.8,812.1 L673.6,813.3 L674.4,815 L675.2,817.2 L676,819.8 L676.8,822.7 L677.6,826 L678.4,829.7 L679.2,833.6 L680,837.7 L680.8,842.1 L681.7,846.6 L682.5,851.3 L683.3,856 L684.1,860.8 L684.9,865.6 L685.7,870.5 L686.5,875.3 L687.3,880.1 L688.1,885 L688.9,889.8 L689.7,894.6 L690.5,899.3 L691.3,904 L692.1,908.5 L692.9,912.9 L693.7,917.2 L694.6,921.2 L695.4,925 L696.2,928.4 L697,931.5 L697.8,934.1 L698.6,936.4 L699.4,938.1 L700.2,939.3 L701,940.1 L701.8,940.4 L702.6,940.5 L703.4,940.4 L704.2,940.4 L705,940.7 L705.8,941.6 L706.6,943.3 L707.5,945.9 L708.3,949.4 L709.1,953.5 L709.9,958.1 L710.7,962.8 L711.5,967.5 L712.3,972.1 L713.1,976.3 L713.9,980.2 L714.7,983.7 L715.5,986.9 L716.3,989.6 L717.1,992.1 L717.9,994.1 L718.7,995.9 L719.5,997.3 L720.4,998.5 L721.2,999.5 L722,1000.2 L722.8,1000.8 L723.6,1001.1 L724.4,1001.4 L725.2,1001.5 L726,1001.6 L726.8,1001.6 L727.6,1001.6 L728.4,1001.6 L729.2,1001.6 L730,1001.6 L730.8,1001.7 L731.6,1001.8 L732.4,1002 L733.3,1002.3 L734.1,1002.6 L734.9,1003.1 L735.7,1003.7 L736.5,1004.3 L737.3,1005.1 L738.1,1005.9 L738.9,1006.9 L739.7,1007.9 L740.5,1009 L741.3,1010.2 L742.1,1011.4 L742.9,1012.7 L743.7,1014 L744.5,1015.3 L745.3,1016.6 L746.2,1017.9 L747,1019.3 L747.8,1020.6 L748.6,1021.8 L749.4,1023.1 L750.2,1024.3 L751,1025.5 L751.8,1026.6 L752.6,1027.6 L753.4,1028.6 L754.2,1029.5 L755,1030.4 L755.8,1031.2 L756.6,1032 L757.4,1032.7 L758.2,1033.3 L759.1,1033.9 L759.9,1034.4 L760.7,1034.9 L761.5,1035.3 L762.3,1035.7 L763.1,1036 L763.9,1036.3 L764.7,1036.6 L765.5,1036.8 L766.3,1037 L767.1,1037.2 L767.9,1037.3 L768.7,1037.4 L769.5,1037.5 L770.3,1037.6 L771.1,1037.7 L772,1037.7 L772.8,1037.7 L773.6,1037.8 L774.4,1037.7 L775.2,1037.7 L776,1037.7 L776.8,1037.6 L777.6,1037.5 L778.4,1037.4 L779.2,1037.3 L780,1037.2 L780.8,1037 L781.6,1036.8 L782.4,1036.5 L783.2,1036.3 L784,1035.9 L784.9,1035.6 L785.7,1035.2 L786.5,1034.7 L787.3,1034.2 L788.1,1033.7 L788.9,1033.1 L789.7,1032.4 L790.5,1031.7 L791.3,1030.9 L792.1,1030.1 L792.9,1029.2 L793.7,1028.2 L794.5,1027.2 L795.3,1026.1 L796.1,1025 L796.9,1023.8 L797.8,1022.6 L798.6,1021.3 L799.4,1020 L800.2,1018.7 L801,1017.4 L801.8,1016 L802.6,1014.7 L803.4,1013.4 L804.2,1012.1 L805,1010.9 L805.8,1009.7 L806.6,1008.6 L807.4,1007.5 L808.2,1006.6 L809,1005.7 L809.9,1004.9 L810.7,1004.2 L811.5,1003.7 L812.3,1003.2 L813.1,1002.9 L813.9,1002.7 L814.7,1002.6 L815.5,1002.7 L816.3,1002.8 L817.1,1003.1 L817.9,1003.4 L818.7,1003.9 L819.5,1004.4 L820.3,1004.9 L821.1,1005.5 L821.9,1006.2 L822.8,1006.8 L823.6,1007.4 L824.4,1008.1 L825.2,1008.6 L826,1009.1 L826.8,1009.6 L827.6,1009.9 L828.4,1010.2 L829.2,1010.4 L830,1010.4 L830.8,1010.4 L831.6,1010.2 L832.4,1009.9 L833.2,1009.6 L834,1009.1 L834.8,1008.6 L835.7,1008 L836.5,1007.4 L837.3,1006.7 L838.1,1006.1 L838.9,1005.4 L839.7,1004.8 L840.5,1004.3 L841.3,1003.9 L842.1,1003.5 L842.9,1003.3 L843.7,1003.3 L844.5,1003.3 L845.3,1003.6 L846.1,1004 L846.9,1004.5 L847.7,1005.3 L848.6,1006.2 L849.4,1007.2 L850.2,1008.3 L851,1009.6 L851.8,1011 L852.6,1012.5 L853.4,1014 L854.2,1015.6 L855,1017.2 L855.8,1018.7 L856.6,1020.3 L857.4,1021.9 L858.2,1023.4 L859,1024.8 L859.8,1026.2 L860.6,1027.5 L861.5,1028.7 L862.3,1029.8 L863.1,1030.8 L863.9,1031.8 L864.7,1032.6 L865.5,1033.3 L866.3,1034 L867.1,1034.5 L867.9,1035 L868.7,1035.3 L869.5,1035.6 L870.3,1035.9 L871.1,1036 L871.9,1036.1 L872.7,1036.1 L873.5,1036.1 L874.4,1036 L875.2,1035.9 L876,1035.7 L876.8,1035.4 L877.6,1035.1 L878.4,1034.8 L879.2,1034.4 L880,1033.9 L880.8,1033.4 L881.6,1032.9 L882.4,1032.3 L883.2,1031.7 L884,1031 L884.8,1030.3 L885.6,1029.5 L886.4,1028.7 L887.3,1027.8 L888.1,1026.9 L888.9,1026 L889.7,1025.1 L890.5,1024.1 L891.3,1023.1 L892.1,1022.1 L892.9,1021.1 L893.7,1020.1 L894.5,1019.1 L895.3,1018.1 L896.1,1017.2 L896.9,1016.2 L897.7,1015.3 L898.5,1014.5 L899.3,1013.7 L900.2,1012.9 L901,1012.3 L901.8,1011.7 L902.6,1011.2 L903.4,1010.7 L904.2,1010.4 L905,1010.1 L905.8,1010 L906.6,1009.9 L907.4,1009.9 L908.2,1010.1 L909,1010.3 L909.8,1010.6 L910.6,1011 L911.4,1011.5 L912.2,1012.1 L913.1,1012.8 L913.9,1013.5 L914.7,1014.3 L915.5,1015.1 L916.3,1016 L917.1,1016.9 L917.9,1017.8 L918.7,1018.8 L919.5,1019.8 L920.3,1020.7 L921.1,1021.7 L921.9,1022.7 L922.7,1023.7 L923.5,1024.6 L924.3,1025.6 L925.1,1026.5 L926,1027.3 L926.8,1028.2 L927.6,1029 L928.4,1029.7 L929.2,1030.4 L930,1031.1 L930.8,1031.7 L931.6,1032.3 L932.4,1032.8 L933.2,1033.3 L934,1033.8 L934.8,1034.2 L935.6,1034.6 L936.4,1034.9 L937.2,1035.2 L938,1035.5 L938.9,1035.7 L939.7,1036 L940.5,1036.1 L941.3,1036.3 L942.1,1036.4 L942.9,1036.5 L943.7,1036.6 L944.5,1036.7 L945.3,1036.8 L946.1,1036.8 L946.9,1036.9 L947.7,1036.9 L948.5,1036.9 L949.3,1036.9 L950.1,1036.9 L950.9,1036.9 L951.8,1036.8 L952.6,1036.8 L953.4,1036.7 L954.2,1036.7 L955,1036.6 L955.8,1036.6 L956.6,1036.5 L957.4,1036.4 L958.2,1036.4 L959,1036.3 L959.8,1036.2 L960.6,1036.1 L961.4,1035.9 L962.2,1035.8 L963,1035.6 L963.9,1035.4 L964.7,1035.1 L965.5,1034.8 L966.3,1034.5 L967.1,1034 L967.9,1033.5 L968.7,1032.8 L969.5,1032 L970.3,1031.1 L971.1,1030 L971.9,1028.7 L972.7,1027.2 L973.5,1025.6 L974.3,1023.7 L975.1,1021.7 L975.9,1019.5 L976.8,1017.1 L977.6,1014.5 L978.4,1011.8 L979.2,1009 L980,1006.1 L980.8,1003 L981.6,999.9 L982.4,996.6 L983.2,993.3 L984,989.8 L984.8,986.3 L985.6,982.6 L986.4,978.9 L987.2,975 L988,971.1 L988.8,967.1 L989.7,963.2 L990.5,959.2 L991.3,955.4 L992.1,951.7 L992.9,948.3 L993.7,945 L994.5,942.1 L995.3,939.5 L996.1,937.1 L996.9,935.1 L997.7,933.4 L998.5,931.9 L999.3,930.6 L1000.1,929.4 L1000.9,928.4 L1001.7,927.5 L1002.6,926.6 L1003.4,925.9 L1004.2,925.4 L1005,925.2 L1005.8,925.4 L1006.6,926 L1007.4,927.1 L1008.2,928.9 L1009,931.2 L1009.8,934.1 L1010.6,937.3 L1011.4,940.8 L1012.2,944.5 L1013,948.2 L1013.8,951.8 L1014.6,955.2 L1015.5,958.4 L1016.3,961.3 L1017.1,963.9 L1017.9,966.2 L1018.7,968.3 L1019.5,970.2 L1020.3,971.9 L1021.1,973.5 L1021.9,974.9 L1022.7,976.3 L1023.5,977.7 L1024.3,979.1 L1025.1,980.6 L1025.9,982.2 L1026.7,983.8 L1027.5,985.6 L1028.4,987.5 L1029.2,989.5 L1030,991.6 L1030.8,993.8 L1031.6,996.1 L1032.4,998.5 L1033.2,1001 L1034,1003.4 L1034.8,1005.9 L1035.6,1008.3 L1036.4,1010.7 L1037.2,1013 L1038,1015.2 L1038.8,1017.3 L1039.6,1019.2 L1040.4,1021.1 L1041.3,1022.8 L1042.1,1024.3 L1042.9,1025.7 L1043.7,1026.9 L1044.5,1028 L1045.3,1028.9 L1046.1,1029.6 L1046.9,1030.2 L1047.7,1030.5 L1048.5,1030.7 L1049.3,1030.7 L1050.1,1030.4 L1050.9,1030 L1051.7,1029.3 L1052.5,1028.4 L1053.3,1027.2 L1054.2,1025.9 L1055,1024.4 L1055.8,1022.6 L1056.6,1020.8 L1057.4,1018.8 L1058.2,1016.8 L1059,1014.9 L1059.8,1013 L1060.6,1011.3 L1061.4,1009.8 L1062.2,1008.7 L1063,1008 L1063.8,1007.8 L1064.6,1008 L1065.4,1008.7 L1066.2,1009.9 L1067.1,1011.3 L1067.9,1013.1 L1068.7,1015.1 L1069.5,1017.2 L1070.3,1019.3 L1071.1,1021.4 L1071.9,1023.5 L1072.7,1025.4 L1073.5,1027.2 L1074.3,1028.8 L1075.1,1030.3 L1075.9,1031.6 L1076.7,1032.7 L1077.5,1033.6 L1078.3,1034.4 L1079.1,1035 L1080,1035.6 L1080.8,1036 L1081.6,1036.4 L1082.4,1036.6 L1083.2,1036.9 L1084,1037 L1084.8,1037.2 L1085.6,1037.3 L1086.4,1037.4 L1087.2,1037.5 L1088,1037.6 L1088.8,1037.6 L1089.6,1037.7 L1090.4,1037.7 L1091.2,1037.8 L1092,1037.8 L1092.9,1037.8 L1093.7,1037.9 L1094.5,1037.9 L1095.3,1037.9 L1096.1,1038 L1096.9,1038 L1097.7,1038 L1098.5,1038.1 L1099.3,1038.1 L1100.1,1038.1 L1100.9,1038.1 L1101.7,1038.1 L1102.5,1038.2 L1103.3,1038.2 L1104.1,1038.2 L1105,1038.2" fill="none" stroke="#000" stroke-width="3" stroke-linejoin="round"/><g fill="#fff" stroke="#000" stroke-width="1.4"><circle cx="599.4" cy="1038.5" r="2.7"/><circle cx="601.8" cy="1040.7" r="2.7"/><circle cx="604.2" cy="1036.3" r="2.7"/><circle cx="606.7" cy="1040.1" r="2.7"/><circle cx="609.1" cy="1037.5" r="2.7"/><circle cx="611.5" cy="1037.4" r="2.7"/><circle cx="613.9" cy="1041.7" r="2.7"/><circle cx="616.3" cy="1038.1" r="2.7"/><circle cx="618.7" cy="1037.5" r="2.7"/><circle cx="621.1" cy="1038.9" r="2.7"/><circle cx="623.6" cy="1039.4" r="2.7"/><circle cx="626" cy="1036.6" r="2.7"/><circle cx="628.4" cy="1037" r="2.7"/><circle cx="630.8" cy="1032.3" r="2.7"/><circle cx="633.2" cy="1030.8" r="2.7"/><circle cx="635.6" cy="1026.2" r="2.7"/><circle cx="638" cy="1017.8" r="2.7"/><circle cx="640.5" cy="1008.3" r="2.7"/><circle cx="642.9" cy="996.4" r="2.7"/><circle cx="645.3" cy="985.5" r="2.7"/><circle cx="647.7" cy="970.4" r="2.7"/><circle cx="650.1" cy="953.9" r="2.7"/><circle cx="652.5" cy="937.6" r="2.7"/><circle cx="655" cy="916.2" r="2.7"/><circle cx="657.4" cy="897.8" r="2.7"/><circle cx="659.8" cy="875.8" r="2.7"/><circle cx="662.2" cy="854.6" r="2.7"/><circle cx="664.6" cy="832.3" r="2.7"/><circle cx="667" cy="819.5" r="2.7"/><circle cx="669.4" cy="808.9" r="2.7"/><circle cx="671.9" cy="810.4" r="2.7"/><circle cx="674.3" cy="810.4" r="2.7"/><circle cx="676.7" cy="819.4" r="2.7"/><circle cx="679.1" cy="835.1" r="2.7"/><circle cx="681.5" cy="841.5" r="2.7"/><circle cx="683.9" cy="861.6" r="2.7"/><circle cx="686.3" cy="875.1" r="2.7"/><circle cx="688.8" cy="888.3" r="2.7"/><circle cx="691.2" cy="904" r="2.7"/><circle cx="693.6" cy="917.5" r="2.7"/><circle cx="696" cy="929.9" r="2.7"/><circle cx="698.4" cy="935.5" r="2.7"/><circle cx="700.8" cy="938.8" r="2.7"/><circle cx="703.3" cy="939.2" r="2.7"/><circle cx="705.7" cy="939.4" r="2.7"/><circle cx="708.1" cy="948.5" r="2.7"/><circle cx="710.5" cy="960.2" r="2.7"/><circle cx="712.9" cy="977.5" r="2.7"/><circle cx="715.3" cy="982.4" r="2.7"/><circle cx="717.7" cy="991.5" r="2.7"/><circle cx="720.2" cy="996.4" r="2.7"/><circle cx="722.6" cy="996.5" r="2.7"/><circle cx="725" cy="1005.3" r="2.7"/><circle cx="727.4" cy="996.8" r="2.7"/><circle cx="729.8" cy="1001" r="2.7"/><circle cx="732.2" cy="1000.9" r="2.7"/><circle cx="734.6" cy="1006.3" r="2.7"/><circle cx="737.1" cy="1000.9" r="2.7"/><circle cx="739.5" cy="1009.8" r="2.7"/><circle cx="741.9" cy="1009.6" r="2.7"/><circle cx="744.3" cy="1014.6" r="2.7"/><circle cx="746.7" cy="1017.5" r="2.7"/><circle cx="749.1" cy="1024" r="2.7"/><circle cx="751.6" cy="1024" r="2.7"/><circle cx="754" cy="1029.1" r="2.7"/><circle cx="756.4" cy="1032.5" r="2.7"/><circle cx="758.8" cy="1037.4" r="2.7"/><circle cx="761.2" cy="1030.3" r="2.7"/><circle cx="763.6" cy="1039.3" r="2.7"/><circle cx="766" cy="1038.8" r="2.7"/><circle cx="768.5" cy="1036.4" r="2.7"/><circle cx="770.9" cy="1038.3" r="2.7"/><circle cx="773.3" cy="1036.8" r="2.7"/><circle cx="775.7" cy="1041" r="2.7"/><circle cx="778.1" cy="1037.9" r="2.7"/><circle cx="780.5" cy="1036.6" r="2.7"/><circle cx="782.9" cy="1035.9" r="2.7"/><circle cx="785.4" cy="1034.9" r="2.7"/><circle cx="787.8" cy="1033.5" r="2.7"/><circle cx="790.2" cy="1030.2" r="2.7"/><circle cx="792.6" cy="1033.6" r="2.7"/><circle cx="795" cy="1022.7" r="2.7"/><circle cx="797.4" cy="1015.8" r="2.7"/><circle cx="799.9" cy="1019" r="2.7"/><circle cx="802.3" cy="1014.9" r="2.7"/><circle cx="804.7" cy="1012.1" r="2.7"/><circle cx="807.1" cy="1007.5" r="2.7"/><circle cx="809.5" cy="1004.9" r="2.7"/><circle cx="811.9" cy="1004.1" r="2.7"/><circle cx="814.3" cy="1004.6" r="2.7"/><circle cx="816.8" cy="1002.1" r="2.7"/><circle cx="819.2" cy="1003.4" r="2.7"/><circle cx="821.6" cy="1009.8" r="2.7"/><circle cx="824" cy="1008.8" r="2.7"/><circle cx="826.4" cy="1007.4" r="2.7"/><circle cx="828.8" cy="1015" r="2.7"/><circle cx="831.2" cy="1011.9" r="2.7"/><circle cx="833.7" cy="1008.2" r="2.7"/><circle cx="836.1" cy="1005.3" r="2.7"/><circle cx="838.5" cy="1006.3" r="2.7"/><circle cx="840.9" cy="1002.4" r="2.7"/><circle cx="843.3" cy="1001.2" r="2.7"/><circle cx="845.7" cy="1001.2" r="2.7"/><circle cx="848.2" cy="1004.7" r="2.7"/><circle cx="850.6" cy="1011.2" r="2.7"/><circle cx="853" cy="1012.3" r="2.7"/><circle cx="855.4" cy="1015" r="2.7"/><circle cx="857.8" cy="1024" r="2.7"/><circle cx="860.2" cy="1027" r="2.7"/><circle cx="862.6" cy="1032" r="2.7"/><circle cx="865.1" cy="1035.4" r="2.7"/><circle cx="867.5" cy="1034.4" r="2.7"/><circle cx="869.9" cy="1035.5" r="2.7"/><circle cx="872.3" cy="1036" r="2.7"/><circle cx="874.7" cy="1033.7" r="2.7"/><circle cx="877.1" cy="1036.6" r="2.7"/><circle cx="879.5" cy="1036.9" r="2.7"/><circle cx="882" cy="1033" r="2.7"/><circle cx="884.4" cy="1030.2" r="2.7"/><circle cx="886.8" cy="1027.8" r="2.7"/><circle cx="889.2" cy="1024.1" r="2.7"/><circle cx="891.6" cy="1021.1" r="2.7"/><circle cx="894" cy="1018.9" r="2.7"/><circle cx="896.5" cy="1015.1" r="2.7"/><circle cx="898.9" cy="1013.3" r="2.7"/><circle cx="901.3" cy="1008.9" r="2.7"/><circle cx="903.7" cy="1011.3" r="2.7"/><circle cx="906.1" cy="1010" r="2.7"/><circle cx="908.5" cy="1007.9" r="2.7"/><circle cx="910.9" cy="1006.6" r="2.7"/><circle cx="913.4" cy="1013" r="2.7"/><circle cx="915.8" cy="1017.6" r="2.7"/><circle cx="918.2" cy="1016.7" r="2.7"/><circle cx="920.6" cy="1020.1" r="2.7"/><circle cx="923" cy="1022.9" r="2.7"/><circle cx="925.4" cy="1028.1" r="2.7"/><circle cx="927.8" cy="1027.4" r="2.7"/><circle cx="930.3" cy="1033.3" r="2.7"/><circle cx="932.7" cy="1032.4" r="2.7"/><circle cx="935.1" cy="1036.2" r="2.7"/><circle cx="937.5" cy="1035.4" r="2.7"/><circle cx="939.9" cy="1035.6" r="2.7"/><circle cx="942.3" cy="1033.5" r="2.7"/><circle cx="944.8" cy="1035.4" r="2.7"/><circle cx="947.2" cy="1036.3" r="2.7"/><circle cx="949.6" cy="1038.2" r="2.7"/><circle cx="952" cy="1037.3" r="2.7"/><circle cx="954.4" cy="1035.3" r="2.7"/><circle cx="956.8" cy="1037.3" r="2.7"/><circle cx="959.2" cy="1038.2" r="2.7"/><circle cx="961.7" cy="1035.6" r="2.7"/><circle cx="964.1" cy="1034.4" r="2.7"/><circle cx="966.5" cy="1033.5" r="2.7"/><circle cx="968.9" cy="1034.2" r="2.7"/><circle cx="971.3" cy="1030.7" r="2.7"/><circle cx="973.7" cy="1023.3" r="2.7"/><circle cx="976.1" cy="1019.6" r="2.7"/><circle cx="978.6" cy="1010.2" r="2.7"/><circle cx="981" cy="1000.8" r="2.7"/><circle cx="983.4" cy="994.9" r="2.7"/><circle cx="985.8" cy="983.4" r="2.7"/><circle cx="988.2" cy="968.7" r="2.7"/><circle cx="990.6" cy="958.5" r="2.7"/><circle cx="993.1" cy="948.5" r="2.7"/><circle cx="995.5" cy="937.7" r="2.7"/><circle cx="997.9" cy="932.8" r="2.7"/><circle cx="1000.3" cy="930.5" r="2.7"/><circle cx="1002.7" cy="922.9" r="2.7"/><circle cx="1005.1" cy="925.9" r="2.7"/><circle cx="1007.5" cy="928.9" r="2.7"/><circle cx="1010" cy="935.6" r="2.7"/><circle cx="1012.4" cy="942.5" r="2.7"/><circle cx="1014.8" cy="956.4" r="2.7"/><circle cx="1017.2" cy="962.6" r="2.7"/><circle cx="1019.6" cy="971.6" r="2.7"/><circle cx="1022" cy="976.4" r="2.7"/><circle cx="1024.4" cy="979.8" r="2.7"/><circle cx="1026.9" cy="982.5" r="2.7"/><circle cx="1029.3" cy="988.6" r="2.7"/><circle cx="1031.7" cy="998.2" r="2.7"/><circle cx="1034.1" cy="1002" r="2.7"/><circle cx="1036.5" cy="1012" r="2.7"/><circle cx="1038.9" cy="1018.5" r="2.7"/><circle cx="1041.4" cy="1022.4" r="2.7"/><circle cx="1043.8" cy="1031.9" r="2.7"/><circle cx="1046.2" cy="1029.8" r="2.7"/><circle cx="1048.6" cy="1035" r="2.7"/><circle cx="1051" cy="1025.9" r="2.7"/><circle cx="1053.4" cy="1022.6" r="2.7"/><circle cx="1055.8" cy="1024.4" r="2.7"/><circle cx="1058.3" cy="1017.9" r="2.7"/><circle cx="1060.7" cy="1010.5" r="2.7"/><circle cx="1063.1" cy="1007.9" r="2.7"/><circle cx="1065.5" cy="1005" r="2.7"/><circle cx="1067.9" cy="1012" r="2.7"/><circle cx="1070.3" cy="1017.4" r="2.7"/><circle cx="1072.7" cy="1025.1" r="2.7"/><circle cx="1075.2" cy="1032.1" r="2.7"/><circle cx="1077.6" cy="1033.8" r="2.7"/><circle cx="1080" cy="1036.3" r="2.7"/><circle cx="1082.4" cy="1035.3" r="2.7"/><circle cx="1084.8" cy="1036.3" r="2.7"/><circle cx="1087.2" cy="1037.7" r="2.7"/><circle cx="1089.7" cy="1037.1" r="2.7"/><circle cx="1092.1" cy="1040.3" r="2.7"/><circle cx="1094.5" cy="1036.2" r="2.7"/><circle cx="1096.9" cy="1041.8" r="2.7"/><circle cx="1099.3" cy="1036.1" r="2.7"/><circle cx="1101.7" cy="1040.3" r="2.7"/><circle cx="1104.1" cy="1036.7" r="2.7"/></g><line x1="604.2" y1="1358.6" x2="1100.1" y2="1358.6" stroke="#1a7a1a" stroke-width="1.6"/><path d="M604.2,1358.6 L607.9,1358.6 L611.6,1358.6 L615.3,1358.6 L619,1358.6 L622.7,1358.6 L626.4,1358.5 L630.1,1358.3 L633.8,1357.8 L637.5,1356.8 L641.2,1354.4 L644.9,1349.9 L648.6,1341.6 L652.3,1327.7 L656,1306.4 L659.7,1276.7 L663.4,1239.1 L667.1,1196.4 L670.8,1154 L674.5,1118.5 L678.2,1096.7 L681.9,1092.9 L685.6,1107.9 L689.3,1138.7 L693,1179.2 L696.7,1222.5 L700.4,1262.6 L704.1,1295.7 L707.8,1320.2 L711.5,1336.8 L715.2,1347.1 L718.9,1353 L722.6,1356 L726.3,1357.5 L730,1358.2 L733.7,1358.4 L737.4,1358.5 L741.1,1358.6 L744.8,1358.6 L748.5,1358.6 L752.2,1358.6 L755.9,1358.6 L759.6,1358.6 L763.2,1358.6 L766.9,1358.6 L770.6,1358.6 L774.3,1358.6 L778,1358.6 L781.7,1358.6 L785.4,1358.6 L789.1,1358.6 L792.8,1358.6 L796.5,1358.6 L800.2,1358.6 L803.9,1358.6 L807.6,1358.6 L811.3,1358.6 L815,1358.6 L818.7,1358.6 L822.4,1358.6 L826.1,1358.6 Z" fill="url(#g_brown)" stroke="none"/><path d="M604.2,1358.6 L604.2,1358.6 L608.4,1358.6 L612.5,1358.6 L616.6,1358.6 L620.7,1358.6 L624.8,1358.5 L628.9,1358.4 L633,1358 L637.2,1356.9 L641.3,1354.4 L645.4,1349.1 L649.5,1338.8 L653.6,1321.1 L657.7,1293.7 L661.8,1255.8 L666,1209.9 L670.1,1162 L674.2,1121.1 L678.3,1096.3 L682.4,1093.9 L686.5,1114.4 L690.6,1152.8 L694.8,1200 L698.9,1246.9 L703,1286.7 L707.1,1316.3 L711.2,1335.9 L715.3,1347.4 L719.4,1353.6 L723.6,1356.5 L727.7,1357.8 L731.8,1358.3 L735.9,1358.5 L740,1358.6 L744.1,1358.6 L748.2,1358.6 L752.4,1358.6 L756.5,1358.6 L760.6,1358.6 L764.7,1358.6 L768.8,1358.6 L772.9,1358.6 L777,1358.6 L781.2,1358.6 L785.3,1358.6 L789.4,1358.6 L793.5,1358.6 L797.6,1358.6 L801.7,1358.6 L805.9,1358.6 L810,1358.6 L1100.1,1358.6" fill="none" stroke="#3a0a0a" stroke-width="1.9" stroke-dasharray="13,8"/><path d="M604.2,1357.5 L606.6,1357.4 L609,1357.3 L611.4,1357.1 L613.8,1356.9 L616.2,1356.7 L618.6,1356.5 L621,1356.2 L623.4,1355.8 L625.8,1355.3 L628.2,1354.5 L630.6,1353.3 L633,1351.6 L635.4,1349 L637.8,1345.3 L640.2,1340.1 L642.6,1333.6 L645,1325.7 L647.4,1317.2 L649.8,1309.4 L652.2,1303.9 L654.6,1302.7 L657,1306.1 L659.4,1313 L661.8,1321.4 L664.2,1329.6 L666.6,1336.9 L669,1342.8 L671.4,1347.2 L673.8,1350.4 L676.2,1352.5 L678.6,1353.9 L681,1354.9 L683.4,1355.5 L685.8,1356 L688.2,1356.3 L690.6,1356.6 L693,1356.8 L695.4,1357 L697.8,1357.2 L700.2,1357.3 L702.6,1357.4 L705,1357.5 L707.4,1357.6 L709.8,1357.7 L712.2,1357.8 L714.6,1357.8 L717,1357.9 L719.4,1357.9 L721.8,1358 L724.2,1358 L726.5,1358.1 L728.9,1358.1 L731.3,1358.1 L733.7,1358.2 L736.1,1358.2 L738.5,1358.2 L740.9,1358.2 L743.3,1358.2 L745.7,1358.3 L748.1,1358.3 Z" fill="url(#g_orange)" stroke="none"/><path d="M604.2,1357.5 L604.2,1357.5 L606.9,1357.4 L609.6,1357.2 L612.2,1357.1 L614.9,1356.9 L617.6,1356.6 L620.3,1356.3 L622.9,1355.9 L625.6,1355.3 L628.3,1354.5 L630.9,1353.1 L633.6,1351.1 L636.3,1347.8 L638.9,1343.1 L641.6,1336.5 L644.3,1328.2 L646.9,1318.9 L649.6,1310 L652.3,1303.8 L654.9,1302.9 L657.6,1307.6 L660.3,1316 L663,1325.4 L665.6,1334.1 L668.3,1341.2 L671,1346.5 L673.6,1350.2 L676.3,1352.6 L679,1354.1 L681.6,1355.1 L684.3,1355.7 L687,1356.2 L689.6,1356.5 L692.3,1356.8 L695,1357 L697.6,1357.2 L700.3,1357.3 L703,1357.5 L705.7,1357.6 L708.3,1357.7 L711,1357.8 L713.7,1357.8 L716.3,1357.9 L719,1357.9 L721.7,1358 L724.3,1358 L727,1358.1 L729.7,1358.1 L732.3,1358.1 L735,1358.2 L737.7,1358.2 L1100.1,1358.6" fill="none" stroke="#3a0a0a" stroke-width="1.9" stroke-dasharray="13,8"/><path d="M604.2,1358.3 L627.5,1358.2 L630.9,1358.1 L634.4,1358.1 L637.8,1358.1 L641.2,1358 L644.6,1358 L648.1,1357.9 L651.5,1357.8 L654.9,1357.7 L658.3,1357.6 L661.8,1357.5 L665.2,1357.3 L668.6,1357.1 L672,1356.9 L675.5,1356.6 L678.9,1356.2 L682.3,1355.6 L685.7,1354.8 L689.2,1353.6 L692.6,1351.6 L696,1348.2 L699.5,1343.1 L702.9,1336 L706.3,1327.2 L709.7,1319 L713.2,1315.4 L716.6,1319 L720,1327.2 L723.4,1336 L726.9,1343.1 L730.3,1348.2 L733.7,1351.6 L737.1,1353.6 L740.6,1354.8 L744,1355.6 L747.4,1356.2 L750.8,1356.6 L754.3,1356.9 L757.7,1357.1 L761.1,1357.3 L764.5,1357.5 L768,1357.6 L771.4,1357.7 L774.8,1357.8 L778.3,1357.9 L781.7,1358 L785.1,1358 L788.5,1358.1 L792,1358.1 L795.4,1358.1 L798.8,1358.2 L1100.1,1358.6" fill="none" stroke="#1a1a85" stroke-width="1.9" stroke-dasharray="13,8"/><path d="M604.2,1358.5 L714.3,1358.2 L717.4,1358.2 L720.4,1358.1 L723.5,1358.1 L726.5,1358 L729.6,1358 L732.6,1357.9 L735.6,1357.8 L738.7,1357.7 L741.7,1357.6 L744.8,1357.5 L747.8,1357.4 L750.9,1357.2 L753.9,1356.9 L757,1356.6 L760,1356.2 L763,1355.7 L766.1,1354.8 L769.1,1353.3 L772.2,1350.7 L775.2,1346.3 L778.3,1339.3 L781.3,1329.5 L784.4,1318 L787.4,1307.6 L790.5,1303.1 L793.5,1307.6 L796.5,1318 L799.6,1329.5 L802.6,1339.3 L805.7,1346.3 L808.7,1350.7 L811.8,1353.3 L814.8,1354.8 L817.9,1355.7 L820.9,1356.2 L823.9,1356.6 L827,1356.9 L830,1357.2 L833.1,1357.4 L836.1,1357.5 L839.2,1357.6 L842.2,1357.7 L845.3,1357.8 L848.3,1357.9 L851.3,1358 L854.4,1358 L857.4,1358.1 L860.5,1358.1 L863.5,1358.2 L866.6,1358.2 L1100.1,1358.6" fill="none" stroke="#1a1a85" stroke-width="1.9" stroke-dasharray="13,8"/><path d="M604.2,1358.6 L715.1,1358.5 L718.9,1358.5 L722.7,1358.5 L726.6,1358.4 L730.4,1358.4 L734.2,1358.4 L738,1358.4 L741.8,1358.4 L745.7,1358.3 L749.5,1358.3 L753.3,1358.3 L757.1,1358.2 L761,1358.2 L764.8,1358.1 L768.6,1358 L772.4,1357.9 L776.3,1357.6 L780.1,1357 L783.9,1355.7 L787.7,1352.9 L791.5,1347.6 L795.4,1339 L799.2,1327.2 L803,1314 L806.8,1303.2 L810.7,1298.9 L814.5,1303.2 L818.3,1314 L822.1,1327.2 L825.9,1339 L829.8,1347.6 L833.6,1352.9 L837.4,1355.7 L841.2,1357 L845.1,1357.6 L848.9,1357.9 L852.7,1358 L856.5,1358.1 L860.4,1358.2 L864.2,1358.2 L868,1358.3 L871.8,1358.3 L875.6,1358.3 L879.5,1358.4 L883.3,1358.4 L887.1,1358.4 L890.9,1358.4 L894.8,1358.4 L898.6,1358.5 L902.4,1358.5 L906.2,1358.5 L1100.1,1358.6" fill="none" stroke="#1a1a85" stroke-width="1.9" stroke-dasharray="13,8"/><path d="M604.2,1358.6 L777.8,1358.4 L780,1358.4 L782.2,1358.4 L784.4,1358.4 L786.6,1358.3 L788.8,1358.3 L791,1358.3 L793.2,1358.2 L795.4,1358.2 L797.6,1358.1 L799.8,1358.1 L802,1358 L804.2,1357.9 L806.4,1357.8 L808.6,1357.7 L810.8,1357.5 L813,1357.2 L815.2,1356.7 L817.4,1355.8 L819.6,1354.2 L821.8,1351.4 L824.1,1346.8 L826.3,1340.4 L828.5,1333.1 L830.7,1326.7 L832.9,1324 L835.1,1326.7 L837.3,1333.1 L839.5,1340.4 L841.7,1346.8 L843.9,1351.4 L846.1,1354.2 L848.3,1355.8 L850.5,1356.7 L852.7,1357.2 L854.9,1357.5 L857.1,1357.7 L859.3,1357.8 L861.5,1357.9 L863.7,1358 L865.9,1358.1 L868.1,1358.1 L870.3,1358.2 L872.5,1358.2 L874.7,1358.3 L876.9,1358.3 L879.1,1358.3 L881.3,1358.4 L883.5,1358.4 L885.7,1358.4 L887.9,1358.4 L1100.1,1358.6" fill="none" stroke="#1a1a85" stroke-width="1.9" stroke-dasharray="13,8"/><path d="M604.2,1358.6 L827.4,1358.5 L830.3,1358.5 L833.2,1358.5 L836.1,1358.5 L839,1358.5 L841.9,1358.5 L844.8,1358.4 L847.7,1358.4 L850.6,1358.4 L853.5,1358.4 L856.4,1358.4 L859.3,1358.3 L862.2,1358.3 L865.1,1358.2 L868,1358.1 L870.9,1358 L873.8,1357.9 L876.7,1357.5 L879.6,1356.8 L882.5,1355.2 L885.4,1352.2 L888.3,1347.5 L891.2,1340.9 L894.1,1333.6 L897,1327.5 L899.9,1325 L902.8,1327.5 L905.7,1333.6 L908.6,1340.9 L911.5,1347.5 L914.4,1352.2 L917.3,1355.2 L920.2,1356.8 L923.1,1357.5 L926,1357.9 L928.9,1358 L931.8,1358.1 L934.7,1358.2 L937.6,1358.3 L940.5,1358.3 L943.4,1358.4 L946.3,1358.4 L949.2,1358.4 L952,1358.4 L954.9,1358.4 L957.8,1358.5 L960.7,1358.5 L963.6,1358.5 L966.5,1358.5 L969.4,1358.5 L972.3,1358.5 L1100.1,1358.6" fill="none" stroke="#1a1a85" stroke-width="1.9" stroke-dasharray="13,8"/><path d="M858.7,1358.6 L862.8,1358.6 L866.8,1358.6 L870.8,1358.6 L874.8,1358.6 L878.8,1358.6 L882.9,1358.6 L886.9,1358.6 L890.9,1358.6 L894.9,1358.6 L899,1358.6 L903,1358.6 L907,1358.6 L911,1358.6 L915.1,1358.6 L919.1,1358.6 L923.1,1358.6 L927.1,1358.6 L931.1,1358.6 L935.2,1358.6 L939.2,1358.6 L943.2,1358.6 L947.2,1358.6 L951.3,1358.5 L955.3,1358.4 L959.3,1358 L963.3,1357.1 L967.4,1355.2 L971.4,1351.5 L975.4,1345.1 L979.4,1334.8 L983.4,1320.2 L987.5,1301.9 L991.5,1281.7 L995.5,1263 L999.5,1249.6 L1003.6,1244.6 L1007.6,1249.3 L1011.6,1262.4 L1015.6,1281 L1019.7,1301.2 L1023.7,1319.7 L1027.7,1334.4 L1031.7,1344.8 L1035.8,1351.4 L1039.8,1355.1 L1043.8,1357.1 L1047.8,1358 L1051.8,1358.4 L1055.9,1358.5 L1059.9,1358.6 L1063.9,1358.6 L1067.9,1358.6 L1072,1358.6 L1076,1358.6 L1080,1358.6 L1084,1358.6 L1088.1,1358.6 L1092.1,1358.6 L1096.1,1358.6 L1100.1,1358.6 Z" fill="url(#g_brown)" stroke="none"/><path d="M604.2,1358.6 L874.8,1358.6 L879.3,1358.6 L883.8,1358.6 L888.3,1358.6 L892.9,1358.6 L897.4,1358.6 L901.9,1358.6 L906.4,1358.6 L910.9,1358.6 L915.4,1358.6 L919.9,1358.6 L924.4,1358.6 L928.9,1358.6 L933.4,1358.6 L937.9,1358.6 L942.4,1358.6 L946.9,1358.6 L951.4,1358.5 L955.9,1358.3 L960.4,1357.8 L964.9,1356.5 L969.5,1353.6 L974,1347.8 L978.5,1337.6 L983,1322.2 L987.5,1301.9 L992,1279.3 L996.5,1259.1 L1001,1246.7 L1005.5,1245.7 L1010,1256.3 L1014.5,1275.5 L1019,1298.1 L1023.5,1319 L1028,1335.4 L1032.5,1346.4 L1037,1352.8 L1041.5,1356.2 L1046.1,1357.7 L1050.6,1358.3 L1055.1,1358.5 L1059.6,1358.6 L1064.1,1358.6 L1068.6,1358.6 L1073.1,1358.6 L1077.6,1358.6 L1082.1,1358.6 L1086.6,1358.6 L1091.1,1358.6 L1095.6,1358.6 L1100.1,1358.6 L1100.1,1358.6" fill="none" stroke="#3a0a0a" stroke-width="1.9" stroke-dasharray="13,8"/><path d="M887.7,1358.4 L890.8,1358.4 L893.9,1358.4 L897.1,1358.4 L900.2,1358.3 L903.4,1358.3 L906.5,1358.3 L909.6,1358.3 L912.8,1358.2 L915.9,1358.2 L919.1,1358.2 L922.2,1358.1 L925.3,1358.1 L928.5,1358 L931.6,1357.9 L934.8,1357.8 L937.9,1357.7 L941,1357.6 L944.2,1357.4 L947.3,1357.2 L950.5,1356.9 L953.6,1356.5 L956.7,1356 L959.9,1355 L963,1353.4 L966.2,1350.9 L969.3,1347.2 L972.4,1342.4 L975.6,1336.7 L978.7,1331.7 L981.8,1329.6 L985,1331.7 L988.1,1336.7 L991.3,1342.4 L994.4,1347.2 L997.5,1350.9 L1000.7,1353.4 L1003.8,1355 L1007,1356 L1010.1,1356.5 L1013.2,1356.9 L1016.4,1357.2 L1019.5,1357.4 L1022.7,1357.6 L1025.8,1357.7 L1028.9,1357.8 L1032.1,1357.9 L1035.2,1358 L1038.4,1358.1 L1041.5,1358.1 L1044.6,1358.2 L1047.8,1358.2 L1050.9,1358.2 L1054.1,1358.3 L1057.2,1358.3 L1060.3,1358.3 L1063.5,1358.3 L1066.6,1358.4 L1069.8,1358.4 L1072.9,1358.4 L1076,1358.4 Z" fill="url(#g_orange)" stroke="none"/><path d="M604.2,1358.6 L898.1,1358.3 L901.5,1358.3 L904.8,1358.3 L908.2,1358.3 L911.5,1358.2 L914.9,1358.2 L918.2,1358.2 L921.6,1358.1 L924.9,1358.1 L928.3,1358 L931.6,1357.9 L935,1357.8 L938.3,1357.7 L941.7,1357.6 L945,1357.4 L948.4,1357.1 L951.7,1356.8 L955.1,1356.3 L958.4,1355.5 L961.8,1354.1 L965.1,1351.9 L968.5,1348.3 L971.8,1343.4 L975.2,1337.5 L978.5,1332 L981.8,1329.6 L985.2,1332 L988.5,1337.5 L991.9,1343.4 L995.2,1348.3 L998.6,1351.9 L1001.9,1354.1 L1005.3,1355.5 L1008.6,1356.3 L1012,1356.8 L1015.3,1357.1 L1018.7,1357.4 L1022,1357.6 L1025.4,1357.7 L1028.7,1357.8 L1032.1,1357.9 L1035.4,1358 L1038.8,1358.1 L1042.1,1358.1 L1045.5,1358.2 L1048.8,1358.2 L1052.2,1358.2 L1055.5,1358.3 L1058.9,1358.3 L1062.2,1358.3 L1065.6,1358.3 L1100.1,1358.5" fill="none" stroke="#3a0a0a" stroke-width="1.9" stroke-dasharray="13,8"/><path d="M604.2,1358.6 L948.9,1358.2 L951.9,1358.1 L954.9,1358.1 L958,1358 L961,1358 L964,1357.9 L967,1357.9 L970.1,1357.8 L973.1,1357.7 L976.1,1357.7 L979.1,1357.6 L982.2,1357.4 L985.2,1357.3 L988.2,1357.1 L991.2,1357 L994.3,1356.7 L997.3,1356.4 L1000.3,1356.1 L1003.3,1355.6 L1006.4,1354.9 L1009.4,1354 L1012.4,1352.5 L1015.4,1350.2 L1018.5,1346.7 L1021.5,1341.6 L1024.5,1334.6 L1027.5,1326.1 L1030.6,1317.3 L1033.6,1310.8 L1036.6,1309.8 L1039.6,1314.8 L1042.7,1323.3 L1045.7,1332 L1048.7,1339.5 L1051.7,1345.3 L1054.8,1349.3 L1057.8,1351.9 L1060.8,1353.6 L1063.8,1354.7 L1066.8,1355.4 L1069.9,1355.9 L1072.9,1356.3 L1075.9,1356.6 L1078.9,1356.9 L1082,1357.1 L1085,1357.3 L1088,1357.4 L1091,1357.5 L1094.1,1357.6 L1097.1,1357.7 L1100.1,1357.8 L1100.1,1357.8" fill="none" stroke="#1a1a85" stroke-width="1.9" stroke-dasharray="13,8"/><path d="M599.4,1357.3 L600.2,1357.3 L601,1357.2 L601.8,1357.2 L602.6,1357.2 L603.4,1357.1 L604.2,1357.1 L605.1,1357.1 L605.9,1357 L606.7,1357 L607.5,1356.9 L608.3,1356.9 L609.1,1356.8 L609.9,1356.8 L610.7,1356.7 L611.5,1356.7 L612.3,1356.6 L613.1,1356.5 L613.9,1356.5 L614.7,1356.4 L615.5,1356.3 L616.3,1356.2 L617.1,1356.2 L618,1356.1 L618.8,1356 L619.6,1355.9 L620.4,1355.7 L621.2,1355.6 L622,1355.5 L622.8,1355.3 L623.6,1355.2 L624.4,1355 L625.2,1354.8 L626,1354.5 L626.8,1354.3 L627.6,1354 L628.4,1353.6 L629.2,1353.2 L630,1352.7 L630.9,1352.2 L631.7,1351.6 L632.5,1350.8 L633.3,1350 L634.1,1349 L634.9,1347.9 L635.7,1346.6 L636.5,1345.2 L637.3,1343.5 L638.1,1341.6 L638.9,1339.4 L639.7,1337 L640.5,1334.3 L641.3,1331.2 L642.1,1327.9 L642.9,1324.1 L643.8,1320 L644.6,1315.4 L645.4,1310.5 L646.2,1305.1 L647,1299.3 L647.8,1293 L648.6,1286.4 L649.4,1279.3 L650.2,1271.9 L651,1264.1 L651.8,1256.1 L652.6,1247.9 L653.4,1239.5 L654.2,1230.9 L655,1222.3 L655.8,1213.6 L656.7,1204.9 L657.5,1196 L658.3,1187.2 L659.1,1178.3 L659.9,1169.4 L660.7,1160.6 L661.5,1151.9 L662.3,1143.4 L663.1,1135.2 L663.9,1127.2 L664.7,1119.7 L665.5,1112.5 L666.3,1105.9 L667.1,1099.8 L667.9,1094.2 L668.8,1089.2 L669.6,1084.7 L670.4,1080.8 L671.2,1077.4 L672,1074.5 L672.8,1072 L673.6,1070 L674.4,1068.5 L675.2,1067.4 L676,1066.8 L676.8,1066.6 L677.6,1066.9 L678.4,1067.6 L679.2,1068.8 L680,1070.6 L680.8,1072.9 L681.7,1075.7 L682.5,1079.1 L683.3,1083.1 L684.1,1087.6 L684.9,1092.8 L685.7,1098.5 L686.5,1104.7 L687.3,1111.5 L688.1,1118.7 L688.9,1126.4 L689.7,1134.4 L690.5,1142.7 L691.3,1151.3 L692.1,1160.1 L692.9,1168.9 L693.7,1177.8 L694.6,1186.7 L695.4,1195.4 L696.2,1204 L697,1212.3 L697.8,1220.3 L698.6,1228 L699.4,1235.3 L700.2,1242.1 L701,1248.5 L701.8,1254.4 L702.6,1259.9 L703.4,1264.8 L704.2,1269.2 L705,1273.2 L705.8,1276.7 L706.6,1279.8 L707.5,1282.5 L708.3,1284.9 L709.1,1287.1 L709.9,1289.1 L710.7,1291.1 L711.5,1293.1 L712.3,1295.1 L713.1,1297.3 L713.9,1299.7 L714.7,1302.3 L715.5,1305 L716.3,1307.8 L717.1,1310.8 L717.9,1313.8 L718.7,1316.8 L719.5,1319.7 L720.4,1322.6 L721.2,1325.4 L722,1328 L722.8,1330.5 L723.6,1332.9 L724.4,1335.1 L725.2,1337.1 L726,1339 L726.8,1340.7 L727.6,1342.2 L728.4,1343.7 L729.2,1344.9 L730,1346.1 L730.8,1347.1 L731.6,1348 L732.4,1348.8 L733.3,1349.5 L734.1,1350.2 L734.9,1350.7 L735.7,1351.2 L736.5,1351.7 L737.3,1352 L738.1,1352.4 L738.9,1352.6 L739.7,1352.9 L740.5,1353.1 L741.3,1353.3 L742.1,1353.5 L742.9,1353.6 L743.7,1353.8 L744.5,1353.9 L745.3,1354 L746.2,1354.1 L747,1354.1 L747.8,1354.2 L748.6,1354.3 L749.4,1354.3 L750.2,1354.3 L751,1354.4 L751.8,1354.4 L752.6,1354.4 L753.4,1354.4 L754.2,1354.4 L755,1354.3 L755.8,1354.3 L756.6,1354.3 L757.4,1354.2 L758.2,1354.2 L759.1,1354.1 L759.9,1354 L760.7,1353.9 L761.5,1353.8 L762.3,1353.7 L763.1,1353.5 L763.9,1353.4 L764.7,1353.2 L765.5,1352.9 L766.3,1352.7 L767.1,1352.4 L767.9,1352 L768.7,1351.5 L769.5,1351 L770.3,1350.4 L771.1,1349.7 L772,1348.9 L772.8,1348 L773.6,1346.9 L774.4,1345.6 L775.2,1344.2 L776,1342.5 L776.8,1340.7 L777.6,1338.7 L778.4,1336.4 L779.2,1333.9 L780,1331.2 L780.8,1328.3 L781.6,1325.2 L782.4,1321.9 L783.2,1318.5 L784,1315 L784.9,1311.5 L785.7,1308.1 L786.5,1304.7 L787.3,1301.5 L788.1,1298.7 L788.9,1296.2 L789.7,1294.2 L790.5,1292.8 L791.3,1291.8 L792.1,1291.3 L792.9,1291.3 L793.7,1291.6 L794.5,1292.1 L795.3,1292.8 L796.1,1293.5 L796.9,1294.2 L797.8,1294.8 L798.6,1295.2 L799.4,1295.5 L800.2,1295.5 L801,1295.4 L801.8,1295.1 L802.6,1294.7 L803.4,1294.1 L804.2,1293.5 L805,1292.8 L805.8,1292.1 L806.6,1291.5 L807.4,1291 L808.2,1290.7 L809,1290.6 L809.9,1290.7 L810.7,1291.1 L811.5,1291.8 L812.3,1292.8 L813.1,1294.1 L813.9,1295.7 L814.7,1297.5 L815.5,1299.5 L816.3,1301.6 L817.1,1303.9 L817.9,1306.2 L818.7,1308.5 L819.5,1310.7 L820.3,1312.8 L821.1,1314.7 L821.9,1316.3 L822.8,1317.7 L823.6,1318.6 L824.4,1319.3 L825.2,1319.5 L826,1319.4 L826.8,1319 L827.6,1318.3 L828.4,1317.5 L829.2,1316.6 L830,1315.7 L830.8,1315.1 L831.6,1314.9 L832.4,1315.3 L833.2,1316.2 L834,1317.8 L834.8,1319.9 L835.7,1322.5 L836.5,1325.4 L837.3,1328.5 L838.1,1331.6 L838.9,1334.7 L839.7,1337.6 L840.5,1340.3 L841.3,1342.8 L842.1,1344.9 L842.9,1346.9 L843.7,1348.5 L844.5,1349.9 L845.3,1351.1 L846.1,1352 L846.9,1352.8 L847.7,1353.4 L848.6,1353.9 L849.4,1354.3 L850.2,1354.7 L851,1354.9 L851.8,1355.1 L852.6,1355.3 L853.4,1355.5 L854.2,1355.6 L855,1355.7 L855.8,1355.8 L856.6,1355.9 L857.4,1356 L858.2,1356.1 L859,1356.1 L859.8,1356.2 L860.6,1356.2 L861.5,1356.3 L862.3,1356.3 L863.1,1356.4 L863.9,1356.4 L864.7,1356.4 L865.5,1356.5 L866.3,1356.5 L867.1,1356.5 L867.9,1356.5 L868.7,1356.5 L869.5,1356.5 L870.3,1356.5 L871.1,1356.5 L871.9,1356.5 L872.7,1356.5 L873.5,1356.5 L874.4,1356.4 L875.2,1356.4 L876,1356.3 L876.8,1356.2 L877.6,1356 L878.4,1355.8 L879.2,1355.6 L880,1355.3 L880.8,1355 L881.6,1354.6 L882.4,1354 L883.2,1353.4 L884,1352.6 L884.8,1351.8 L885.6,1350.7 L886.4,1349.6 L887.3,1348.3 L888.1,1346.8 L888.9,1345.2 L889.7,1343.4 L890.5,1341.6 L891.3,1339.6 L892.1,1337.6 L892.9,1335.5 L893.7,1333.5 L894.5,1331.5 L895.3,1329.6 L896.1,1328 L896.9,1326.5 L897.7,1325.4 L898.5,1324.5 L899.3,1324.1 L900.2,1324 L901,1324.3 L901.8,1325.1 L902.6,1326.1 L903.4,1327.5 L904.2,1329.1 L905,1330.9 L905.8,1332.8 L906.6,1334.9 L907.4,1336.9 L908.2,1339 L909,1341 L909.8,1342.9 L910.6,1344.7 L911.4,1346.3 L912.2,1347.9 L913.1,1349.2 L913.9,1350.5 L914.7,1351.5 L915.5,1352.5 L916.3,1353.3 L917.1,1353.9 L917.9,1354.5 L918.7,1355 L919.5,1355.4 L920.3,1355.7 L921.1,1355.9 L921.9,1356.1 L922.7,1356.3 L923.5,1356.4 L924.3,1356.5 L925.1,1356.6 L926,1356.6 L926.8,1356.7 L927.6,1356.7 L928.4,1356.7 L929.2,1356.8 L930,1356.8 L930.8,1356.8 L931.6,1356.8 L932.4,1356.8 L933.2,1356.8 L934,1356.8 L934.8,1356.8 L935.6,1356.8 L936.4,1356.7 L937.2,1356.7 L938,1356.7 L938.9,1356.7 L939.7,1356.7 L940.5,1356.6 L941.3,1356.6 L942.1,1356.6 L942.9,1356.5 L943.7,1356.5 L944.5,1356.4 L945.3,1356.4 L946.1,1356.3 L946.9,1356.2 L947.7,1356.2 L948.5,1356.1 L949.3,1355.9 L950.1,1355.8 L950.9,1355.7 L951.8,1355.5 L952.6,1355.3 L953.4,1355 L954.2,1354.7 L955,1354.4 L955.8,1354 L956.6,1353.5 L957.4,1352.9 L958.2,1352.2 L959,1351.4 L959.8,1350.5 L960.6,1349.4 L961.4,1348.2 L962.2,1346.7 L963,1345.1 L963.9,1343.3 L964.7,1341.2 L965.5,1338.8 L966.3,1336.2 L967.1,1333.3 L967.9,1330.1 L968.7,1326.6 L969.5,1322.9 L970.3,1318.8 L971.1,1314.5 L971.9,1309.9 L972.7,1305.1 L973.5,1300.1 L974.3,1295 L975.1,1289.7 L975.9,1284.4 L976.8,1279 L977.6,1273.8 L978.4,1268.7 L979.2,1263.8 L980,1259.1 L980.8,1254.9 L981.6,1251 L982.4,1247.5 L983.2,1244.4 L984,1241.8 L984.8,1239.6 L985.6,1237.7 L986.4,1236.2 L987.2,1234.9 L988,1233.9 L988.8,1233 L989.7,1232.3 L990.5,1231.7 L991.3,1231.2 L992.1,1230.8 L992.9,1230.4 L993.7,1230 L994.5,1229.7 L995.3,1229.4 L996.1,1229.2 L996.9,1229 L997.7,1228.9 L998.5,1228.9 L999.3,1229 L1000.1,1229.2 L1000.9,1229.6 L1001.7,1230.1 L1002.6,1230.8 L1003.4,1231.7 L1004.2,1232.9 L1005,1234.3 L1005.8,1235.9 L1006.6,1237.7 L1007.4,1239.8 L1008.2,1242.1 L1009,1244.6 L1009.8,1247.3 L1010.6,1250.2 L1011.4,1253.3 L1012.2,1256.5 L1013,1259.8 L1013.8,1263.1 L1014.6,1266.5 L1015.5,1269.9 L1016.3,1273.2 L1017.1,1276.5 L1017.9,1279.7 L1018.7,1282.7 L1019.5,1285.5 L1020.3,1288.2 L1021.1,1290.6 L1021.9,1292.8 L1022.7,1294.7 L1023.5,1296.3 L1024.3,1297.7 L1025.1,1298.8 L1025.9,1299.6 L1026.7,1300.1 L1027.5,1300.4 L1028.4,1300.5 L1029.2,1300.4 L1030,1300.2 L1030.8,1300 L1031.6,1299.7 L1032.4,1299.6 L1033.2,1299.6 L1034,1299.8 L1034.8,1300.4 L1035.6,1301.3 L1036.4,1302.5 L1037.2,1304.1 L1038,1306 L1038.8,1308.2 L1039.6,1310.7 L1040.4,1313.2 L1041.3,1315.9 L1042.1,1318.7 L1042.9,1321.4 L1043.7,1324.1 L1044.5,1326.8 L1045.3,1329.3 L1046.1,1331.7 L1046.9,1333.9 L1047.7,1336.1 L1048.5,1338.1 L1049.3,1339.9 L1050.1,1341.6 L1050.9,1343.1 L1051.7,1344.5 L1052.5,1345.8 L1053.3,1347 L1054.2,1348 L1055,1348.9 L1055.8,1349.7 L1056.6,1350.5 L1057.4,1351.1 L1058.2,1351.7 L1059,1352.2 L1059.8,1352.7 L1060.6,1353.1 L1061.4,1353.4 L1062.2,1353.7 L1063,1354 L1063.8,1354.3 L1064.6,1354.5 L1065.4,1354.7 L1066.2,1354.9 L1067.1,1355.1 L1067.9,1355.2 L1068.7,1355.4 L1069.5,1355.5 L1070.3,1355.6 L1071.1,1355.8 L1071.9,1355.9 L1072.7,1356 L1073.5,1356.1 L1074.3,1356.2 L1075.1,1356.2 L1075.9,1356.3 L1076.7,1356.4 L1077.5,1356.5 L1078.3,1356.5 L1079.1,1356.6 L1080,1356.7 L1080.8,1356.7 L1081.6,1356.8 L1082.4,1356.8 L1083.2,1356.9 L1084,1356.9 L1084.8,1357 L1085.6,1357 L1086.4,1357.1 L1087.2,1357.1 L1088,1357.1 L1088.8,1357.2 L1089.6,1357.2 L1090.4,1357.3 L1091.2,1357.3 L1092,1357.3 L1092.9,1357.3 L1093.7,1357.4 L1094.5,1357.4 L1095.3,1357.4 L1096.1,1357.5 L1096.9,1357.5 L1097.7,1357.5 L1098.5,1357.5 L1099.3,1357.6 L1100.1,1357.6 L1100.9,1357.6 L1101.7,1357.6 L1102.5,1357.6 L1103.3,1357.7 L1104.1,1357.7 L1105,1357.7" fill="none" stroke="#000" stroke-width="3" stroke-linejoin="round"/><g fill="#fff" stroke="#000" stroke-width="1.4"><circle cx="599.4" cy="1357.4" r="2.7"/><circle cx="601.8" cy="1358.1" r="2.7"/><circle cx="604.2" cy="1356.2" r="2.7"/><circle cx="606.7" cy="1357.7" r="2.7"/><circle cx="609.1" cy="1358.7" r="2.7"/><circle cx="611.5" cy="1357.5" r="2.7"/><circle cx="613.9" cy="1359.6" r="2.7"/><circle cx="616.3" cy="1354.5" r="2.7"/><circle cx="618.7" cy="1356.1" r="2.7"/><circle cx="621.1" cy="1354.2" r="2.7"/><circle cx="623.6" cy="1353.6" r="2.7"/><circle cx="626" cy="1354.2" r="2.7"/><circle cx="628.4" cy="1354.1" r="2.7"/><circle cx="630.8" cy="1353.1" r="2.7"/><circle cx="633.2" cy="1351.1" r="2.7"/><circle cx="635.6" cy="1351.2" r="2.7"/><circle cx="638" cy="1343.5" r="2.7"/><circle cx="640.5" cy="1331.3" r="2.7"/><circle cx="642.9" cy="1324.9" r="2.7"/><circle cx="645.3" cy="1309.7" r="2.7"/><circle cx="647.7" cy="1292.6" r="2.7"/><circle cx="650.1" cy="1275.2" r="2.7"/><circle cx="652.5" cy="1248.3" r="2.7"/><circle cx="655" cy="1219.4" r="2.7"/><circle cx="657.4" cy="1197.7" r="2.7"/><circle cx="659.8" cy="1169.9" r="2.7"/><circle cx="662.2" cy="1142.1" r="2.7"/><circle cx="664.6" cy="1118.8" r="2.7"/><circle cx="667" cy="1099.3" r="2.7"/><circle cx="669.4" cy="1085.3" r="2.7"/><circle cx="671.9" cy="1074" r="2.7"/><circle cx="674.3" cy="1068.9" r="2.7"/><circle cx="676.7" cy="1070.3" r="2.7"/><circle cx="679.1" cy="1067" r="2.7"/><circle cx="681.5" cy="1073.6" r="2.7"/><circle cx="683.9" cy="1086.3" r="2.7"/><circle cx="686.3" cy="1105.8" r="2.7"/><circle cx="688.8" cy="1123.6" r="2.7"/><circle cx="691.2" cy="1152.6" r="2.7"/><circle cx="693.6" cy="1173.5" r="2.7"/><circle cx="696" cy="1200.3" r="2.7"/><circle cx="698.4" cy="1226.4" r="2.7"/><circle cx="700.8" cy="1245.6" r="2.7"/><circle cx="703.3" cy="1262.6" r="2.7"/><circle cx="705.7" cy="1276.9" r="2.7"/><circle cx="708.1" cy="1285.9" r="2.7"/><circle cx="710.5" cy="1290.9" r="2.7"/><circle cx="712.9" cy="1296.3" r="2.7"/><circle cx="715.3" cy="1307" r="2.7"/><circle cx="717.7" cy="1313.9" r="2.7"/><circle cx="720.2" cy="1321.5" r="2.7"/><circle cx="722.6" cy="1332.4" r="2.7"/><circle cx="725" cy="1334.8" r="2.7"/><circle cx="727.4" cy="1342.2" r="2.7"/><circle cx="729.8" cy="1347.1" r="2.7"/><circle cx="732.2" cy="1348.6" r="2.7"/><circle cx="734.6" cy="1349.4" r="2.7"/><circle cx="737.1" cy="1352.6" r="2.7"/><circle cx="739.5" cy="1351.8" r="2.7"/><circle cx="741.9" cy="1352.3" r="2.7"/><circle cx="744.3" cy="1351.8" r="2.7"/><circle cx="746.7" cy="1356.7" r="2.7"/><circle cx="749.1" cy="1353.2" r="2.7"/><circle cx="751.6" cy="1356.7" r="2.7"/><circle cx="754" cy="1355.1" r="2.7"/><circle cx="756.4" cy="1353.8" r="2.7"/><circle cx="758.8" cy="1355.5" r="2.7"/><circle cx="761.2" cy="1354.4" r="2.7"/><circle cx="763.6" cy="1353.7" r="2.7"/><circle cx="766" cy="1350" r="2.7"/><circle cx="768.5" cy="1351.8" r="2.7"/><circle cx="770.9" cy="1351.8" r="2.7"/><circle cx="773.3" cy="1348.2" r="2.7"/><circle cx="775.7" cy="1345.1" r="2.7"/><circle cx="778.1" cy="1340.2" r="2.7"/><circle cx="780.5" cy="1330.2" r="2.7"/><circle cx="782.9" cy="1323.7" r="2.7"/><circle cx="785.4" cy="1306.3" r="2.7"/><circle cx="787.8" cy="1299.2" r="2.7"/><circle cx="790.2" cy="1288.2" r="2.7"/><circle cx="792.6" cy="1292.9" r="2.7"/><circle cx="795" cy="1292.7" r="2.7"/><circle cx="797.4" cy="1297.9" r="2.7"/><circle cx="799.9" cy="1294.8" r="2.7"/><circle cx="802.3" cy="1290.8" r="2.7"/><circle cx="804.7" cy="1295.6" r="2.7"/><circle cx="807.1" cy="1288.5" r="2.7"/><circle cx="809.5" cy="1288.1" r="2.7"/><circle cx="811.9" cy="1292" r="2.7"/><circle cx="814.3" cy="1297.9" r="2.7"/><circle cx="816.8" cy="1301.9" r="2.7"/><circle cx="819.2" cy="1310.1" r="2.7"/><circle cx="821.6" cy="1311.9" r="2.7"/><circle cx="824" cy="1322.5" r="2.7"/><circle cx="826.4" cy="1319.1" r="2.7"/><circle cx="828.8" cy="1317.2" r="2.7"/><circle cx="831.2" cy="1316.1" r="2.7"/><circle cx="833.7" cy="1317.3" r="2.7"/><circle cx="836.1" cy="1324.4" r="2.7"/><circle cx="838.5" cy="1331.4" r="2.7"/><circle cx="840.9" cy="1341.4" r="2.7"/><circle cx="843.3" cy="1348.6" r="2.7"/><circle cx="845.7" cy="1353.7" r="2.7"/><circle cx="848.2" cy="1353.4" r="2.7"/><circle cx="850.6" cy="1355" r="2.7"/><circle cx="853" cy="1356.1" r="2.7"/><circle cx="855.4" cy="1356.9" r="2.7"/><circle cx="857.8" cy="1356.4" r="2.7"/><circle cx="860.2" cy="1355.7" r="2.7"/><circle cx="862.6" cy="1355.3" r="2.7"/><circle cx="865.1" cy="1358.7" r="2.7"/><circle cx="867.5" cy="1357.1" r="2.7"/><circle cx="869.9" cy="1356.6" r="2.7"/><circle cx="872.3" cy="1363.5" r="2.7"/><circle cx="874.7" cy="1358.2" r="2.7"/><circle cx="877.1" cy="1357.8" r="2.7"/><circle cx="879.5" cy="1355.8" r="2.7"/><circle cx="882" cy="1352.3" r="2.7"/><circle cx="884.4" cy="1354.6" r="2.7"/><circle cx="886.8" cy="1348.9" r="2.7"/><circle cx="889.2" cy="1344.6" r="2.7"/><circle cx="891.6" cy="1340.8" r="2.7"/><circle cx="894" cy="1334.7" r="2.7"/><circle cx="896.5" cy="1327.8" r="2.7"/><circle cx="898.9" cy="1324.3" r="2.7"/><circle cx="901.3" cy="1328.8" r="2.7"/><circle cx="903.7" cy="1329.2" r="2.7"/><circle cx="906.1" cy="1331.6" r="2.7"/><circle cx="908.5" cy="1341.3" r="2.7"/><circle cx="910.9" cy="1345.6" r="2.7"/><circle cx="913.4" cy="1349.8" r="2.7"/><circle cx="915.8" cy="1354.1" r="2.7"/><circle cx="918.2" cy="1355.2" r="2.7"/><circle cx="920.6" cy="1359.8" r="2.7"/><circle cx="923" cy="1356.7" r="2.7"/><circle cx="925.4" cy="1357.1" r="2.7"/><circle cx="927.8" cy="1359.1" r="2.7"/><circle cx="930.3" cy="1355.7" r="2.7"/><circle cx="932.7" cy="1358.8" r="2.7"/><circle cx="935.1" cy="1356.7" r="2.7"/><circle cx="937.5" cy="1359.1" r="2.7"/><circle cx="939.9" cy="1355" r="2.7"/><circle cx="942.3" cy="1357.4" r="2.7"/><circle cx="944.8" cy="1353.2" r="2.7"/><circle cx="947.2" cy="1355.3" r="2.7"/><circle cx="949.6" cy="1355.9" r="2.7"/><circle cx="952" cy="1356.4" r="2.7"/><circle cx="954.4" cy="1358.6" r="2.7"/><circle cx="956.8" cy="1357" r="2.7"/><circle cx="959.2" cy="1348.5" r="2.7"/><circle cx="961.7" cy="1346.3" r="2.7"/><circle cx="964.1" cy="1345.2" r="2.7"/><circle cx="966.5" cy="1336.3" r="2.7"/><circle cx="968.9" cy="1322.9" r="2.7"/><circle cx="971.3" cy="1314.3" r="2.7"/><circle cx="973.7" cy="1296.5" r="2.7"/><circle cx="976.1" cy="1281.3" r="2.7"/><circle cx="978.6" cy="1264.9" r="2.7"/><circle cx="981" cy="1253.3" r="2.7"/><circle cx="983.4" cy="1248.3" r="2.7"/><circle cx="985.8" cy="1238.1" r="2.7"/><circle cx="988.2" cy="1233.5" r="2.7"/><circle cx="990.6" cy="1236.6" r="2.7"/><circle cx="993.1" cy="1229.4" r="2.7"/><circle cx="995.5" cy="1229.1" r="2.7"/><circle cx="997.9" cy="1228.4" r="2.7"/><circle cx="1000.3" cy="1230.1" r="2.7"/><circle cx="1002.7" cy="1230.4" r="2.7"/><circle cx="1005.1" cy="1237.5" r="2.7"/><circle cx="1007.5" cy="1239.6" r="2.7"/><circle cx="1010" cy="1249" r="2.7"/><circle cx="1012.4" cy="1257.5" r="2.7"/><circle cx="1014.8" cy="1265.4" r="2.7"/><circle cx="1017.2" cy="1275.1" r="2.7"/><circle cx="1019.6" cy="1285.9" r="2.7"/><circle cx="1022" cy="1288.5" r="2.7"/><circle cx="1024.4" cy="1297.9" r="2.7"/><circle cx="1026.9" cy="1300.3" r="2.7"/><circle cx="1029.3" cy="1300.7" r="2.7"/><circle cx="1031.7" cy="1299.6" r="2.7"/><circle cx="1034.1" cy="1300.6" r="2.7"/><circle cx="1036.5" cy="1302" r="2.7"/><circle cx="1038.9" cy="1309.8" r="2.7"/><circle cx="1041.4" cy="1313" r="2.7"/><circle cx="1043.8" cy="1326.3" r="2.7"/><circle cx="1046.2" cy="1330.2" r="2.7"/><circle cx="1048.6" cy="1339.2" r="2.7"/><circle cx="1051" cy="1342.4" r="2.7"/><circle cx="1053.4" cy="1346.2" r="2.7"/><circle cx="1055.8" cy="1348.2" r="2.7"/><circle cx="1058.3" cy="1354.4" r="2.7"/><circle cx="1060.7" cy="1350.9" r="2.7"/><circle cx="1063.1" cy="1351.6" r="2.7"/><circle cx="1065.5" cy="1355.2" r="2.7"/><circle cx="1067.9" cy="1355.8" r="2.7"/><circle cx="1070.3" cy="1355.7" r="2.7"/><circle cx="1072.7" cy="1354.1" r="2.7"/><circle cx="1075.2" cy="1355" r="2.7"/><circle cx="1077.6" cy="1358.3" r="2.7"/><circle cx="1080" cy="1354.6" r="2.7"/><circle cx="1082.4" cy="1358.1" r="2.7"/><circle cx="1084.8" cy="1358.4" r="2.7"/><circle cx="1087.2" cy="1357.4" r="2.7"/><circle cx="1089.7" cy="1354.8" r="2.7"/><circle cx="1092.1" cy="1361.1" r="2.7"/><circle cx="1094.5" cy="1357.7" r="2.7"/><circle cx="1096.9" cy="1357.9" r="2.7"/><circle cx="1099.3" cy="1356.8" r="2.7"/><circle cx="1101.7" cy="1355.7" r="2.7"/><circle cx="1104.1" cy="1357.2" r="2.7"/></g><line x1="1164.1" y1="695.5" x2="1639.1" y2="695.5" stroke="#1a1a85" stroke-width="1.6"/><path d="M1164.1,695.5 L1167.3,695.5 L1170.4,695.5 L1173.5,695.5 L1176.7,695.4 L1179.8,695.3 L1183,695.1 L1186.1,694.5 L1189.3,693.1 L1192.4,690.5 L1195.5,685.6 L1198.7,677.1 L1201.8,663.8 L1205,644.3 L1208.1,618.5 L1211.2,587.2 L1214.4,553.3 L1217.5,521.1 L1220.7,495.7 L1223.8,481.8 L1227,482 L1230.1,496.4 L1233.2,522 L1236.4,554.4 L1239.5,588.3 L1242.7,619.4 L1245.8,645.1 L1248.9,664.3 L1252.1,677.5 L1255.2,685.8 L1258.4,690.6 L1261.5,693.2 L1264.7,694.5 L1267.8,695.1 L1270.9,695.3 L1274.1,695.4 L1277.2,695.5 L1280.4,695.5 L1283.5,695.5 L1286.6,695.5 L1289.8,695.5 L1292.9,695.5 L1296.1,695.5 L1299.2,695.5 L1302.4,695.5 L1305.5,695.5 L1308.6,695.5 L1311.8,695.5 L1314.9,695.5 L1318.1,695.5 L1321.2,695.5 L1324.4,695.5 L1327.5,695.5 L1330.6,695.5 L1333.8,695.5 L1336.9,695.5 L1340.1,695.5 L1343.2,695.5 L1346.3,695.5 L1349.5,695.5 L1352.6,695.5 Z" fill="url(#g_blue)" stroke="none"/><path d="M1164.1,695.5 L1164.1,695.5 L1167.6,695.5 L1171.1,695.5 L1174.6,695.5 L1178.1,695.4 L1181.6,695.2 L1185,694.7 L1188.5,693.5 L1192,690.9 L1195.5,685.6 L1199,676 L1202.5,660.2 L1206,636.8 L1209.5,605.6 L1212.9,569 L1216.4,531.8 L1219.9,500.9 L1223.4,482.8 L1226.9,481.9 L1230.4,498.3 L1233.9,528.1 L1237.4,564.9 L1240.8,601.9 L1244.3,633.8 L1247.8,658.1 L1251.3,674.7 L1254.8,684.8 L1258.3,690.5 L1261.8,693.3 L1265.3,694.6 L1268.7,695.2 L1272.2,695.4 L1275.7,695.5 L1279.2,695.5 L1282.7,695.5 L1286.2,695.5 L1289.7,695.5 L1293.1,695.5 L1296.6,695.5 L1300.1,695.5 L1303.6,695.5 L1307.1,695.5 L1310.6,695.5 L1314.1,695.5 L1317.6,695.5 L1321,695.5 L1324.5,695.5 L1328,695.5 L1331.5,695.5 L1335,695.5 L1338.5,695.5 L1639.1,695.5" fill="none" stroke="#20208a" stroke-width="1.9" stroke-dasharray="13,8"/><path d="M1164.1,695.5 L1167.8,695.5 L1171.5,695.5 L1175.2,695.5 L1178.9,695.5 L1182.5,695.5 L1186.2,695.5 L1189.9,695.5 L1193.6,695.5 L1197.3,695.5 L1201,695.4 L1204.7,695.2 L1208.3,694.7 L1212,693.6 L1215.7,691.4 L1219.4,687.4 L1223.1,680.6 L1226.8,670.2 L1230.5,656 L1234.1,638.7 L1237.8,620.3 L1241.5,603.7 L1245.2,592.2 L1248.9,588.4 L1252.6,593.2 L1256.2,605.4 L1259.9,622.4 L1263.6,640.9 L1267.3,657.9 L1271,671.6 L1274.7,681.5 L1278.4,688 L1282,691.8 L1285.7,693.8 L1289.4,694.8 L1293.1,695.2 L1296.8,695.4 L1300.5,695.5 L1304.2,695.5 L1307.8,695.5 L1311.5,695.5 L1315.2,695.5 L1318.9,695.5 L1322.6,695.5 L1326.3,695.5 L1330,695.5 L1333.6,695.5 L1337.3,695.5 L1341,695.5 L1344.7,695.5 L1348.4,695.5 L1352.1,695.5 L1355.7,695.5 L1359.4,695.5 L1363.1,695.5 L1366.8,695.5 L1370.5,695.5 L1374.2,695.5 L1377.9,695.5 L1381.5,695.5 L1385.2,695.5 Z" fill="url(#g_green)" stroke="none"/><path d="M1164.1,695.5 L1164.1,695.5 L1168.2,695.5 L1172.4,695.5 L1176.5,695.5 L1180.6,695.5 L1184.7,695.5 L1188.8,695.5 L1193,695.5 L1197.1,695.5 L1201.2,695.4 L1205.3,695.1 L1209.4,694.5 L1213.5,692.9 L1217.7,689.6 L1221.8,683.3 L1225.9,673 L1230,657.9 L1234.1,638.7 L1238.3,618.2 L1242.4,600.4 L1246.5,589.9 L1250.6,589.6 L1254.7,599.6 L1258.9,617.1 L1263,637.7 L1267.1,657 L1271.2,672.3 L1275.3,682.9 L1279.4,689.3 L1283.6,692.8 L1287.7,694.4 L1291.8,695.1 L1295.9,695.4 L1300,695.5 L1304.2,695.5 L1308.3,695.5 L1312.4,695.5 L1316.5,695.5 L1320.6,695.5 L1324.7,695.5 L1328.9,695.5 L1333,695.5 L1337.1,695.5 L1341.2,695.5 L1345.3,695.5 L1349.5,695.5 L1353.6,695.5 L1357.7,695.5 L1361.8,695.5 L1365.9,695.5 L1370.1,695.5 L1639.1,695.5" fill="none" stroke="#117a11" stroke-width="1.9" stroke-dasharray="13,8"/><path d="M1164.1,695.5 L1168.5,695.5 L1173.1,695.5 L1177.7,695.5 L1182.3,695.5 L1186.8,695.5 L1191.4,695.5 L1196,695.5 L1200.6,695.5 L1205.1,695.5 L1209.7,695.5 L1214.3,695.5 L1218.8,695.5 L1223.4,695.5 L1228,695.5 L1232.6,695.5 L1237.1,695.4 L1241.7,695.3 L1246.3,694.7 L1250.9,693.1 L1255.4,689.5 L1260,682.3 L1264.6,670.6 L1269.1,654.5 L1273.7,637.1 L1278.3,623.2 L1282.9,617.9 L1287.4,623.2 L1292,637.1 L1296.6,654.5 L1301.1,670.6 L1305.7,682.3 L1310.3,689.5 L1314.9,693.1 L1319.4,694.7 L1324,695.3 L1328.6,695.4 L1333.2,695.5 L1337.7,695.5 L1342.3,695.5 L1346.9,695.5 L1351.4,695.5 L1356,695.5 L1360.6,695.5 L1365.2,695.5 L1369.7,695.5 L1374.3,695.5 L1378.9,695.5 L1383.5,695.5 L1388,695.5 L1392.6,695.5 L1397.2,695.5 L1639.1,695.5" fill="none" stroke="#1a1a85" stroke-width="1.9" stroke-dasharray="13,8"/><path d="M1164.1,695.5 L1164.1,695.5 L1171.2,695.5 L1178.2,695.5 L1185.2,695.5 L1192.2,695.5 L1199.3,695.5 L1206.3,695.5 L1213.3,695.5 L1220.4,695.5 L1227.4,695.5 L1234.4,695.5 L1241.5,695.5 L1248.5,695.3 L1255.5,695.1 L1262.5,694.4 L1269.6,692.9 L1276.6,690.2 L1283.6,685.7 L1290.7,679.3 L1297.7,671.7 L1304.7,664.3 L1311.8,658.8 L1318.8,657 L1325.8,659.5 L1332.8,665.3 L1339.9,672.9 L1346.9,680.4 L1353.9,686.5 L1361,690.7 L1368,693.2 L1375,694.5 L1382.1,695.1 L1389.1,695.4 L1396.1,695.5 L1403.1,695.5 L1410.2,695.5 L1417.2,695.5 L1424.2,695.5 L1431.3,695.5 L1438.3,695.5 L1445.3,695.5 L1452.4,695.5 L1459.4,695.5 L1466.4,695.5 L1473.4,695.5 L1480.5,695.5 L1487.5,695.5 L1494.5,695.5 L1501.6,695.5 L1508.6,695.5 L1515.6,695.5 L1639.1,695.5" fill="none" stroke="#1a1a85" stroke-width="1.9" stroke-dasharray="13,8"/><path d="M1164.1,695.5 L1328.8,695.4 L1330.1,695.4 L1331.4,695.4 L1332.6,695.4 L1333.9,695.4 L1335.2,695.4 L1336.5,695.4 L1337.8,695.4 L1339.1,695.4 L1340.4,695.3 L1341.7,695.3 L1342.9,695.3 L1344.2,695.3 L1345.5,695.2 L1346.8,695.2 L1348.1,695.1 L1349.4,695 L1350.7,694.8 L1352,694.3 L1353.2,693.3 L1354.5,691.6 L1355.8,688.8 L1357.1,685 L1358.4,680.7 L1359.7,677 L1361,675.5 L1362.3,677 L1363.6,680.7 L1364.8,685 L1366.1,688.8 L1367.4,691.6 L1368.7,693.3 L1370,694.3 L1371.3,694.8 L1372.6,695 L1373.9,695.1 L1375.1,695.2 L1376.4,695.2 L1377.7,695.3 L1379,695.3 L1380.3,695.3 L1381.6,695.3 L1382.9,695.4 L1384.2,695.4 L1385.4,695.4 L1386.7,695.4 L1388,695.4 L1389.3,695.4 L1390.6,695.4 L1391.9,695.4 L1393.2,695.4 L1639.1,695.5" fill="none" stroke="#1a1a85" stroke-width="1.9" stroke-dasharray="13,8"/><path d="M1164.1,695.5 L1317.2,695.5 L1319.6,695.5 L1321.9,695.5 L1324.3,695.5 L1326.7,695.5 L1329.1,695.5 L1331.4,695.5 L1333.8,695.5 L1336.2,695.5 L1338.6,695.5 L1341,695.5 L1343.3,695.5 L1345.7,695.5 L1348.1,695.5 L1350.5,695.5 L1352.8,695.5 L1355.2,695.4 L1357.6,695.2 L1360,694.6 L1362.4,693.4 L1364.7,690.8 L1367.1,686.6 L1369.5,680.9 L1371.9,674.7 L1374.2,669.8 L1376.6,667.9 L1379,669.8 L1381.4,674.7 L1383.8,680.9 L1386.1,686.6 L1388.5,690.8 L1390.9,693.4 L1393.3,694.6 L1395.6,695.2 L1398,695.4 L1400.4,695.5 L1402.8,695.5 L1405.2,695.5 L1407.5,695.5 L1409.9,695.5 L1412.3,695.5 L1414.7,695.5 L1417,695.5 L1419.4,695.5 L1421.8,695.5 L1424.2,695.5 L1426.6,695.5 L1428.9,695.5 L1431.3,695.5 L1433.7,695.5 L1436.1,695.5 L1639.1,695.5" fill="none" stroke="#1a1a85" stroke-width="1.9" stroke-dasharray="13,8"/><path d="M1164.1,695.5 L1334.1,695.5 L1336.4,695.5 L1338.7,695.5 L1341.1,695.5 L1343.4,695.5 L1345.7,695.5 L1348,695.5 L1350.3,695.5 L1352.7,695.5 L1355,695.5 L1357.3,695.5 L1359.6,695.5 L1361.9,695.5 L1364.2,695.5 L1366.6,695.5 L1368.9,695.5 L1371.2,695.4 L1373.5,695.2 L1375.8,694.5 L1378.2,693 L1380.5,690 L1382.8,685 L1385.1,678.2 L1387.4,670.9 L1389.7,665 L1392.1,662.8 L1394.4,665 L1396.7,670.9 L1399,678.2 L1401.3,685 L1403.7,690 L1406,693 L1408.3,694.5 L1410.6,695.2 L1412.9,695.4 L1415.2,695.5 L1417.6,695.5 L1419.9,695.5 L1422.2,695.5 L1424.5,695.5 L1426.8,695.5 L1429.2,695.5 L1431.5,695.5 L1433.8,695.5 L1436.1,695.5 L1438.4,695.5 L1440.8,695.5 L1443.1,695.5 L1445.4,695.5 L1447.7,695.5 L1450,695.5 L1639.1,695.5" fill="none" stroke="#1a1a85" stroke-width="1.9" stroke-dasharray="13,8"/><path d="M1164.1,695.5 L1343.3,695.5 L1346,695.5 L1348.7,695.5 L1351.4,695.5 L1354.1,695.5 L1356.8,695.5 L1359.5,695.5 L1362.2,695.5 L1364.9,695.5 L1367.6,695.5 L1370.3,695.5 L1373,695.5 L1375.7,695.5 L1378.4,695.5 L1381.1,695.5 L1383.8,695.5 L1386.5,695.4 L1389.2,695.1 L1391.9,694.3 L1394.6,692.6 L1397.3,689.1 L1400,683.4 L1402.7,675.6 L1405.4,667.1 L1408.1,660.4 L1410.8,657.8 L1413.5,660.4 L1416.2,667.1 L1418.9,675.6 L1421.6,683.4 L1424.3,689.1 L1427,692.6 L1429.7,694.3 L1432.4,695.1 L1435.1,695.4 L1437.8,695.5 L1440.5,695.5 L1443.2,695.5 L1445.9,695.5 L1448.7,695.5 L1451.4,695.5 L1454.1,695.5 L1456.8,695.5 L1459.5,695.5 L1462.2,695.5 L1464.9,695.5 L1467.6,695.5 L1470.3,695.5 L1473,695.5 L1475.7,695.5 L1478.4,695.5 L1639.1,695.5" fill="none" stroke="#1a1a85" stroke-width="1.9" stroke-dasharray="13,8"/><path d="M1417.2,695.5 L1420.9,695.5 L1424.6,695.5 L1428.3,695.5 L1432,695.5 L1435.7,695.5 L1439.4,695.5 L1443.1,695.5 L1446.8,695.5 L1450.5,695.5 L1454.2,695.5 L1457.9,695.5 L1461.6,695.5 L1465.3,695.5 L1469,695.5 L1472.7,695.5 L1476.4,695.5 L1480.1,695.5 L1483.8,695.5 L1487.5,695.5 L1491.1,695.5 L1494.8,695.5 L1498.5,695.4 L1502.2,695.3 L1505.9,695 L1509.6,694.3 L1513.3,692.7 L1517,689.4 L1520.7,683.5 L1524.4,673.9 L1528.1,660.3 L1531.8,643.1 L1535.5,624.5 L1539.2,607.8 L1542.9,596.8 L1546.6,594.3 L1550.3,600.9 L1554,614.9 L1557.7,632.9 L1561.4,651.2 L1565.1,666.9 L1568.8,678.7 L1572.5,686.5 L1576.2,691.1 L1579.9,693.5 L1583.6,694.7 L1587.3,695.2 L1591,695.4 L1594.7,695.5 L1598.4,695.5 L1602.1,695.5 L1605.8,695.5 L1609.5,695.5 L1613.2,695.5 L1616.9,695.5 L1620.6,695.5 L1624.3,695.5 L1628,695.5 L1631.7,695.5 L1635.4,695.5 L1639.1,695.5 Z" fill="url(#g_blue)" stroke="none"/><path d="M1164.1,695.5 L1431.5,695.5 L1435.6,695.5 L1439.8,695.5 L1443.9,695.5 L1448.1,695.5 L1452.2,695.5 L1456.4,695.5 L1460.5,695.5 L1464.7,695.5 L1468.8,695.5 L1473,695.5 L1477.1,695.5 L1481.3,695.5 L1485.5,695.5 L1489.6,695.5 L1493.8,695.5 L1497.9,695.5 L1502.1,695.3 L1506.2,695 L1510.4,694.1 L1514.5,691.8 L1518.7,687.1 L1522.8,678.6 L1527,665 L1531.1,646.6 L1535.3,625.8 L1539.4,607.1 L1543.6,595.7 L1547.7,595.3 L1551.9,606.1 L1556,624.5 L1560.2,645.3 L1564.3,664 L1568.5,677.9 L1572.6,686.7 L1576.8,691.6 L1580.9,694 L1585.1,695 L1589.2,695.3 L1593.4,695.5 L1597.6,695.5 L1601.7,695.5 L1605.9,695.5 L1610,695.5 L1614.2,695.5 L1618.3,695.5 L1622.5,695.5 L1626.6,695.5 L1630.8,695.5 L1634.9,695.5 L1639.1,695.5 L1639.1,695.5" fill="none" stroke="#20208a" stroke-width="1.9" stroke-dasharray="13,8"/><path d="M1455.7,695.5 L1458.7,695.5 L1461.8,695.5 L1464.9,695.5 L1467.9,695.5 L1471,695.5 L1474,695.5 L1477.1,695.5 L1480.1,695.5 L1483.2,695.5 L1486.2,695.5 L1489.3,695.5 L1492.4,695.5 L1495.4,695.5 L1498.5,695.5 L1501.5,695.5 L1504.6,695.5 L1507.6,695.5 L1510.7,695.5 L1513.8,695.5 L1516.8,695.5 L1519.9,695.5 L1522.9,695.5 L1526,695.5 L1529,695.5 L1532.1,695.4 L1535.2,695.4 L1538.2,695.1 L1541.3,694.7 L1544.3,693.7 L1547.4,692 L1550.4,689.2 L1553.5,684.8 L1556.5,678.7 L1559.6,671.1 L1562.7,662.6 L1565.7,654.3 L1568.8,647.9 L1571.8,644.4 L1574.9,644.7 L1577.9,648.7 L1581,655.5 L1584.1,663.9 L1587.1,672.3 L1590.2,679.7 L1593.2,685.6 L1596.3,689.7 L1599.3,692.4 L1602.4,693.9 L1605.4,694.8 L1608.5,695.2 L1611.6,695.4 L1614.6,695.5 L1617.7,695.5 L1620.7,695.5 L1623.8,695.5 L1626.8,695.5 L1629.9,695.5 L1633,695.5 L1636,695.5 L1639.1,695.5 Z" fill="url(#g_green)" stroke="none"/><path d="M1164.1,695.5 L1468.7,695.5 L1472.1,695.5 L1475.5,695.5 L1479,695.5 L1482.4,695.5 L1485.8,695.5 L1489.2,695.5 L1492.6,695.5 L1496,695.5 L1499.4,695.5 L1502.8,695.5 L1506.2,695.5 L1509.6,695.5 L1513,695.5 L1516.4,695.5 L1519.8,695.5 L1523.2,695.5 L1526.6,695.5 L1530.1,695.5 L1533.5,695.4 L1536.9,695.3 L1540.3,694.9 L1543.7,694 L1547.1,692.2 L1550.5,689.1 L1553.9,684.1 L1557.3,676.9 L1560.7,668 L1564.1,658.5 L1567.5,650.2 L1570.9,645 L1574.3,644.3 L1577.7,648.3 L1581.2,655.9 L1584.6,665.3 L1588,674.5 L1591.4,682.2 L1594.8,687.9 L1598.2,691.5 L1601.6,693.6 L1605,694.7 L1608.4,695.2 L1611.8,695.4 L1615.2,695.5 L1618.6,695.5 L1622,695.5 L1625.4,695.5 L1628.8,695.5 L1632.3,695.5 L1635.7,695.5 L1639.1,695.5 L1639.1,695.5" fill="none" stroke="#117a11" stroke-width="1.9" stroke-dasharray="13,8"/><path d="M1164.1,695.5 L1470.6,695.4 L1474,695.4 L1477.3,695.4 L1480.7,695.4 L1484.1,695.4 L1487.4,695.4 L1490.8,695.4 L1494.2,695.4 L1497.5,695.4 L1500.9,695.4 L1504.3,695.4 L1507.7,695.4 L1511,695.4 L1514.4,695.4 L1517.8,695.4 L1521.1,695.4 L1524.5,695.3 L1527.9,695.3 L1531.2,695.3 L1534.6,695.3 L1538,695.3 L1541.3,695.2 L1544.7,695.2 L1548.1,695.2 L1551.5,695.1 L1554.8,695 L1558.2,694.8 L1561.6,694.5 L1564.9,694 L1568.3,693.1 L1571.7,691.7 L1575,689.7 L1578.4,687 L1581.8,683.4 L1585.2,679.1 L1588.5,674.4 L1591.9,669.8 L1595.3,665.9 L1598.6,663.3 L1602,662.5 L1605.4,663.8 L1608.7,666.8 L1612.1,670.9 L1615.5,675.6 L1618.9,680.2 L1622.2,684.3 L1625.6,687.7 L1629,690.3 L1632.3,692.2 L1635.7,693.4 L1639.1,694.1 L1639.1,694.1" fill="none" stroke="#1a1a85" stroke-width="1.9" stroke-dasharray="13,8"/><path d="M1159.3,695.5 L1160.1,695.5 L1160.9,695.5 L1161.7,695.5 L1162.5,695.5 L1163.3,695.5 L1164.1,695.5 L1164.9,695.5 L1165.7,695.5 L1166.5,695.5 L1167.3,695.5 L1168.1,695.5 L1169,695.5 L1169.8,695.5 L1170.6,695.5 L1171.4,695.5 L1172.2,695.5 L1173,695.5 L1173.8,695.5 L1174.6,695.5 L1175.4,695.5 L1176.2,695.4 L1177,695.4 L1177.8,695.4 L1178.6,695.4 L1179.4,695.3 L1180.2,695.3 L1181,695.3 L1181.8,695.2 L1182.6,695.1 L1183.4,695 L1184.2,694.9 L1185,694.7 L1185.9,694.5 L1186.7,694.3 L1187.5,694 L1188.3,693.6 L1189.1,693.2 L1189.9,692.7 L1190.7,692.1 L1191.5,691.4 L1192.3,690.6 L1193.1,689.6 L1193.9,688.4 L1194.7,687.1 L1195.5,685.6 L1196.3,683.8 L1197.1,681.8 L1197.9,679.5 L1198.7,676.9 L1199.5,673.9 L1200.3,670.6 L1201.2,667 L1202,662.9 L1202.8,658.4 L1203.6,653.5 L1204.4,648.2 L1205.2,642.4 L1206,636.2 L1206.8,629.5 L1207.6,622.4 L1208.4,615 L1209.2,607.1 L1210,598.9 L1210.8,590.3 L1211.6,581.5 L1212.4,572.5 L1213.2,563.4 L1214,554.2 L1214.8,545 L1215.6,535.9 L1216.4,526.9 L1217.2,518.2 L1218.1,509.8 L1218.9,501.8 L1219.7,494.2 L1220.5,487.2 L1221.3,480.8 L1222.1,475.1 L1222.9,470 L1223.7,465.7 L1224.5,462.1 L1225.3,459.4 L1226.1,457.4 L1226.9,456.1 L1227.7,455.7 L1228.5,455.9 L1229.3,456.9 L1230.1,458.5 L1230.9,460.7 L1231.7,463.4 L1232.5,466.6 L1233.3,470.2 L1234.2,474.1 L1235,478.3 L1235.8,482.8 L1236.6,487.4 L1237.4,492.1 L1238.2,496.8 L1239,501.6 L1239.8,506.4 L1240.6,511.1 L1241.4,515.8 L1242.2,520.3 L1243,524.8 L1243.8,529.2 L1244.6,533.5 L1245.4,537.8 L1246.2,541.9 L1247,546 L1247.8,550 L1248.6,554 L1249.5,557.9 L1250.3,561.8 L1251.1,565.7 L1251.9,569.6 L1252.7,573.5 L1253.5,577.3 L1254.3,581.1 L1255.1,584.8 L1255.9,588.5 L1256.7,592 L1257.5,595.5 L1258.3,598.9 L1259.1,602.1 L1259.9,605.1 L1260.7,607.9 L1261.5,610.5 L1262.3,612.9 L1263.1,615 L1263.9,616.8 L1264.7,618.4 L1265.5,619.6 L1266.4,620.5 L1267.2,621.1 L1268,621.5 L1268.8,621.5 L1269.6,621.3 L1270.4,620.8 L1271.2,620.1 L1272,619.2 L1272.8,618.1 L1273.6,616.9 L1274.4,615.6 L1275.2,614.3 L1276,612.9 L1276.8,611.6 L1277.6,610.3 L1278.4,609.1 L1279.2,608 L1280,607.1 L1280.8,606.4 L1281.7,605.8 L1282.5,605.5 L1283.3,605.4 L1284.1,605.6 L1284.9,606 L1285.7,606.7 L1286.5,607.6 L1287.3,608.7 L1288.1,610.1 L1288.9,611.6 L1289.7,613.4 L1290.5,615.3 L1291.3,617.3 L1292.1,619.4 L1292.9,621.6 L1293.7,623.9 L1294.5,626.1 L1295.3,628.4 L1296.1,630.7 L1296.9,632.9 L1297.8,635 L1298.6,637 L1299.4,639 L1300.2,640.8 L1301,642.6 L1301.8,644.2 L1302.6,645.6 L1303.4,647 L1304.2,648.2 L1305,649.3 L1305.8,650.2 L1306.6,651 L1307.4,651.8 L1308.2,652.4 L1309,652.9 L1309.8,653.4 L1310.6,653.8 L1311.4,654.1 L1312.2,654.4 L1313,654.6 L1313.8,654.8 L1314.7,655 L1315.5,655.2 L1316.3,655.4 L1317.1,655.6 L1317.9,655.8 L1318.7,656 L1319.5,656.2 L1320.3,656.5 L1321.1,656.8 L1321.9,657.1 L1322.7,657.5 L1323.5,657.9 L1324.3,658.3 L1325.1,658.8 L1325.9,659.3 L1326.7,659.9 L1327.5,660.5 L1328.3,661.1 L1329.1,661.8 L1330,662.5 L1330.8,663.2 L1331.6,663.9 L1332.4,664.7 L1333.2,665.5 L1334,666.4 L1334.8,667.2 L1335.6,668.1 L1336.4,668.9 L1337.2,669.8 L1338,670.7 L1338.8,671.6 L1339.6,672.5 L1340.4,673.3 L1341.2,674.2 L1342,675.1 L1342.8,675.9 L1343.6,676.8 L1344.4,677.6 L1345.2,678.4 L1346,679.2 L1346.9,680 L1347.7,680.7 L1348.5,681.5 L1349.3,682.1 L1350.1,682.7 L1350.9,683.2 L1351.7,683.6 L1352.5,683.8 L1353.3,683.8 L1354.1,683.4 L1354.9,682.5 L1355.7,681.2 L1356.5,679.4 L1357.3,677.3 L1358.1,674.9 L1358.9,672.6 L1359.7,670.7 L1360.5,669.6 L1361.3,669.5 L1362.2,670.5 L1363,672.2 L1363.8,674.2 L1364.6,676.3 L1365.4,678 L1366.2,679.1 L1367,679.6 L1367.8,679.5 L1368.6,678.8 L1369.4,677.6 L1370.2,676.1 L1371,674.4 L1371.8,672.6 L1372.6,670.9 L1373.4,669.3 L1374.2,667.9 L1375,666.7 L1375.8,665.9 L1376.6,665.4 L1377.4,665.2 L1378.2,665.3 L1379.1,665.6 L1379.9,666 L1380.7,666.5 L1381.5,666.9 L1382.3,667.3 L1383.1,667.4 L1383.9,667.3 L1384.7,666.9 L1385.5,666.3 L1386.3,665.5 L1387.1,664.5 L1387.9,663.4 L1388.7,662.3 L1389.5,661.4 L1390.3,660.6 L1391.1,660.1 L1391.9,660 L1392.7,660.2 L1393.5,660.7 L1394.3,661.6 L1395.2,662.7 L1396,663.9 L1396.8,665.3 L1397.6,666.5 L1398.4,667.6 L1399.2,668.5 L1400,669.1 L1400.8,669.3 L1401.6,669.1 L1402.4,668.5 L1403.2,667.6 L1404,666.4 L1404.8,665.1 L1405.6,663.6 L1406.4,662.1 L1407.2,660.6 L1408,659.4 L1408.8,658.4 L1409.6,657.7 L1410.5,657.4 L1411.3,657.6 L1412.1,658.2 L1412.9,659.2 L1413.7,660.6 L1414.5,662.3 L1415.3,664.4 L1416.1,666.7 L1416.9,669.1 L1417.7,671.6 L1418.5,674.2 L1419.3,676.7 L1420.1,679.2 L1420.9,681.5 L1421.7,683.6 L1422.5,685.5 L1423.3,687.2 L1424.1,688.7 L1424.9,690 L1425.7,691.1 L1426.5,692.1 L1427.4,692.8 L1428.2,693.4 L1429,693.9 L1429.8,694.3 L1430.6,694.6 L1431.4,694.8 L1432.2,695 L1433,695.1 L1433.8,695.2 L1434.6,695.3 L1435.4,695.3 L1436.2,695.4 L1437,695.4 L1437.8,695.4 L1438.6,695.4 L1439.4,695.4 L1440.2,695.4 L1441,695.4 L1441.8,695.4 L1442.7,695.4 L1443.5,695.4 L1444.3,695.4 L1445.1,695.4 L1445.9,695.4 L1446.7,695.4 L1447.5,695.4 L1448.3,695.4 L1449.1,695.4 L1449.9,695.4 L1450.7,695.4 L1451.5,695.4 L1452.3,695.4 L1453.1,695.4 L1453.9,695.4 L1454.7,695.4 L1455.5,695.4 L1456.3,695.4 L1457.1,695.4 L1457.9,695.4 L1458.8,695.4 L1459.6,695.4 L1460.4,695.4 L1461.2,695.4 L1462,695.4 L1462.8,695.4 L1463.6,695.4 L1464.4,695.4 L1465.2,695.4 L1466,695.4 L1466.8,695.4 L1467.6,695.4 L1468.4,695.4 L1469.2,695.4 L1470,695.4 L1470.8,695.4 L1471.6,695.4 L1472.4,695.4 L1473.2,695.4 L1474,695.4 L1474.8,695.4 L1475.7,695.4 L1476.5,695.4 L1477.3,695.4 L1478.1,695.4 L1478.9,695.4 L1479.7,695.4 L1480.5,695.4 L1481.3,695.4 L1482.1,695.4 L1482.9,695.4 L1483.7,695.4 L1484.5,695.4 L1485.3,695.4 L1486.1,695.4 L1486.9,695.4 L1487.7,695.4 L1488.5,695.4 L1489.3,695.4 L1490.1,695.4 L1491,695.4 L1491.8,695.4 L1492.6,695.4 L1493.4,695.4 L1494.2,695.4 L1495,695.4 L1495.8,695.4 L1496.6,695.4 L1497.4,695.4 L1498.2,695.4 L1499,695.3 L1499.8,695.3 L1500.6,695.3 L1501.4,695.3 L1502.2,695.2 L1503,695.2 L1503.8,695.1 L1504.6,695.1 L1505.4,695 L1506.2,694.9 L1507,694.8 L1507.9,694.6 L1508.7,694.4 L1509.5,694.2 L1510.3,694 L1511.1,693.7 L1511.9,693.3 L1512.7,692.9 L1513.5,692.4 L1514.3,691.9 L1515.1,691.2 L1515.9,690.5 L1516.7,689.6 L1517.5,688.6 L1518.3,687.5 L1519.1,686.3 L1519.9,684.9 L1520.7,683.3 L1521.5,681.6 L1522.3,679.6 L1523.2,677.5 L1524,675.2 L1524.8,672.7 L1525.6,670 L1526.4,667.1 L1527.2,664 L1528,660.7 L1528.8,657.3 L1529.6,653.7 L1530.4,649.9 L1531.2,646 L1532,642 L1532.8,637.9 L1533.6,633.8 L1534.4,629.7 L1535.2,625.7 L1536,621.6 L1536.8,617.7 L1537.6,614 L1538.4,610.4 L1539.2,607 L1540.1,603.9 L1540.9,601.1 L1541.7,598.5 L1542.5,596.4 L1543.3,594.5 L1544.1,593.1 L1544.9,592 L1545.7,591.3 L1546.5,591 L1547.3,591.1 L1548.1,591.5 L1548.9,592.3 L1549.7,593.3 L1550.5,594.7 L1551.3,596.2 L1552.1,598 L1552.9,600 L1553.7,602 L1554.5,604.2 L1555.3,606.4 L1556.2,608.6 L1557,610.7 L1557.8,612.8 L1558.6,614.8 L1559.4,616.7 L1560.2,618.4 L1561,620 L1561.8,621.4 L1562.6,622.7 L1563.4,623.8 L1564.2,624.8 L1565,625.7 L1565.8,626.4 L1566.6,627 L1567.4,627.6 L1568.2,628.1 L1569,628.6 L1569.8,629.1 L1570.6,629.6 L1571.5,630.1 L1572.3,630.7 L1573.1,631.4 L1573.9,632.2 L1574.7,633.1 L1575.5,634 L1576.3,635.1 L1577.1,636.2 L1577.9,637.5 L1578.7,638.8 L1579.5,640.1 L1580.3,641.5 L1581.1,643 L1581.9,644.4 L1582.7,645.9 L1583.5,647.3 L1584.3,648.6 L1585.1,650 L1585.9,651.2 L1586.7,652.4 L1587.5,653.4 L1588.4,654.4 L1589.2,655.3 L1590,656 L1590.8,656.7 L1591.6,657.2 L1592.4,657.7 L1593.2,658.1 L1594,658.4 L1594.8,658.7 L1595.6,658.9 L1596.4,659.1 L1597.2,659.3 L1598,659.5 L1598.8,659.7 L1599.6,659.9 L1600.4,660.2 L1601.2,660.5 L1602,660.8 L1602.8,661.2 L1603.7,661.7 L1604.5,662.3 L1605.3,662.9 L1606.1,663.6 L1606.9,664.4 L1607.7,665.3 L1608.5,666.2 L1609.3,667.1 L1610.1,668.1 L1610.9,669.2 L1611.7,670.2 L1612.5,671.3 L1613.3,672.5 L1614.1,673.6 L1614.9,674.8 L1615.7,675.9 L1616.5,677 L1617.3,678.2 L1618.1,679.3 L1618.9,680.3 L1619.8,681.4 L1620.6,682.4 L1621.4,683.4 L1622.2,684.3 L1623,685.2 L1623.8,686 L1624.6,686.8 L1625.4,687.6 L1626.2,688.3 L1627,688.9 L1627.8,689.5 L1628.6,690.1 L1629.4,690.6 L1630.2,691.1 L1631,691.5 L1631.8,691.9 L1632.6,692.3 L1633.4,692.6 L1634.2,692.9 L1635,693.2 L1635.8,693.4 L1636.7,693.6 L1637.5,693.8 L1638.3,694 L1639.1,694.1 L1639.9,694.3 L1640.7,694.4 L1641.5,694.5 L1642.3,694.6 L1643.1,694.7 L1643.9,694.7" fill="none" stroke="#000" stroke-width="3" stroke-linejoin="round"/><g fill="#fff" stroke="#000" stroke-width="1.4"><circle cx="1159.3" cy="693.1" r="2.7"/><circle cx="1161.7" cy="693.2" r="2.7"/><circle cx="1164.1" cy="696.8" r="2.7"/><circle cx="1166.5" cy="690.9" r="2.7"/><circle cx="1168.9" cy="695.2" r="2.7"/><circle cx="1171.4" cy="691" r="2.7"/><circle cx="1173.8" cy="697.7" r="2.7"/><circle cx="1176.2" cy="695.8" r="2.7"/><circle cx="1178.6" cy="698.1" r="2.7"/><circle cx="1181" cy="694.2" r="2.7"/><circle cx="1183.4" cy="695.8" r="2.7"/><circle cx="1185.9" cy="693.9" r="2.7"/><circle cx="1188.3" cy="692.2" r="2.7"/><circle cx="1190.7" cy="692.4" r="2.7"/><circle cx="1193.1" cy="687.1" r="2.7"/><circle cx="1195.5" cy="684.9" r="2.7"/><circle cx="1197.9" cy="680.9" r="2.7"/><circle cx="1200.3" cy="670.8" r="2.7"/><circle cx="1202.8" cy="657.6" r="2.7"/><circle cx="1205.2" cy="646.8" r="2.7"/><circle cx="1207.6" cy="622.6" r="2.7"/><circle cx="1210" cy="597.7" r="2.7"/><circle cx="1212.4" cy="572.9" r="2.7"/><circle cx="1214.8" cy="544" r="2.7"/><circle cx="1217.2" cy="517.4" r="2.7"/><circle cx="1219.7" cy="493.5" r="2.7"/><circle cx="1222.1" cy="479.1" r="2.7"/><circle cx="1224.5" cy="462.2" r="2.7"/><circle cx="1226.9" cy="456.5" r="2.7"/><circle cx="1229.3" cy="458.2" r="2.7"/><circle cx="1231.7" cy="467.4" r="2.7"/><circle cx="1234.2" cy="473.7" r="2.7"/><circle cx="1236.6" cy="486.1" r="2.7"/><circle cx="1239" cy="506.6" r="2.7"/><circle cx="1241.4" cy="512.8" r="2.7"/><circle cx="1243.8" cy="528.5" r="2.7"/><circle cx="1246.2" cy="543.2" r="2.7"/><circle cx="1248.6" cy="558.6" r="2.7"/><circle cx="1251.1" cy="563.8" r="2.7"/><circle cx="1253.5" cy="572.4" r="2.7"/><circle cx="1255.9" cy="589.8" r="2.7"/><circle cx="1258.3" cy="597.8" r="2.7"/><circle cx="1260.7" cy="607.2" r="2.7"/><circle cx="1263.1" cy="615.9" r="2.7"/><circle cx="1265.5" cy="620" r="2.7"/><circle cx="1268" cy="622.1" r="2.7"/><circle cx="1270.4" cy="620" r="2.7"/><circle cx="1272.8" cy="620.7" r="2.7"/><circle cx="1275.2" cy="617.3" r="2.7"/><circle cx="1277.6" cy="610.3" r="2.7"/><circle cx="1280" cy="606.2" r="2.7"/><circle cx="1282.5" cy="607" r="2.7"/><circle cx="1284.9" cy="607" r="2.7"/><circle cx="1287.3" cy="606.7" r="2.7"/><circle cx="1289.7" cy="612.5" r="2.7"/><circle cx="1292.1" cy="621.5" r="2.7"/><circle cx="1294.5" cy="625.9" r="2.7"/><circle cx="1296.9" cy="632.2" r="2.7"/><circle cx="1299.4" cy="639.4" r="2.7"/><circle cx="1301.8" cy="644.1" r="2.7"/><circle cx="1304.2" cy="648.2" r="2.7"/><circle cx="1306.6" cy="647.2" r="2.7"/><circle cx="1309" cy="656.4" r="2.7"/><circle cx="1311.4" cy="654.5" r="2.7"/><circle cx="1313.8" cy="653.1" r="2.7"/><circle cx="1316.3" cy="657.4" r="2.7"/><circle cx="1318.7" cy="656.6" r="2.7"/><circle cx="1321.1" cy="656.8" r="2.7"/><circle cx="1323.5" cy="660" r="2.7"/><circle cx="1325.9" cy="663.8" r="2.7"/><circle cx="1328.3" cy="662.2" r="2.7"/><circle cx="1330.8" cy="666.4" r="2.7"/><circle cx="1333.2" cy="669.8" r="2.7"/><circle cx="1335.6" cy="666" r="2.7"/><circle cx="1338" cy="669.6" r="2.7"/><circle cx="1340.4" cy="674.9" r="2.7"/><circle cx="1342.8" cy="672.5" r="2.7"/><circle cx="1345.2" cy="677.9" r="2.7"/><circle cx="1347.7" cy="683.3" r="2.7"/><circle cx="1350.1" cy="684.8" r="2.7"/><circle cx="1352.5" cy="685" r="2.7"/><circle cx="1354.9" cy="678.7" r="2.7"/><circle cx="1357.3" cy="682" r="2.7"/><circle cx="1359.7" cy="671.8" r="2.7"/><circle cx="1362.1" cy="672" r="2.7"/><circle cx="1364.6" cy="677.3" r="2.7"/><circle cx="1367" cy="676.2" r="2.7"/><circle cx="1369.4" cy="674.7" r="2.7"/><circle cx="1371.8" cy="670.2" r="2.7"/><circle cx="1374.2" cy="671.7" r="2.7"/><circle cx="1376.6" cy="663.8" r="2.7"/><circle cx="1379.1" cy="665.1" r="2.7"/><circle cx="1381.5" cy="666.4" r="2.7"/><circle cx="1383.9" cy="668.4" r="2.7"/><circle cx="1386.3" cy="666.5" r="2.7"/><circle cx="1388.7" cy="662.8" r="2.7"/><circle cx="1391.1" cy="657.6" r="2.7"/><circle cx="1393.5" cy="654.5" r="2.7"/><circle cx="1396" cy="664.3" r="2.7"/><circle cx="1398.4" cy="668.2" r="2.7"/><circle cx="1400.8" cy="671.7" r="2.7"/><circle cx="1403.2" cy="667.4" r="2.7"/><circle cx="1405.6" cy="662.3" r="2.7"/><circle cx="1408" cy="660.2" r="2.7"/><circle cx="1410.4" cy="654.3" r="2.7"/><circle cx="1412.9" cy="657.1" r="2.7"/><circle cx="1415.3" cy="662.4" r="2.7"/><circle cx="1417.7" cy="672.2" r="2.7"/><circle cx="1420.1" cy="683.3" r="2.7"/><circle cx="1422.5" cy="687" r="2.7"/><circle cx="1424.9" cy="692.3" r="2.7"/><circle cx="1427.4" cy="693.3" r="2.7"/><circle cx="1429.8" cy="694.9" r="2.7"/><circle cx="1432.2" cy="694.1" r="2.7"/><circle cx="1434.6" cy="694.7" r="2.7"/><circle cx="1437" cy="690.5" r="2.7"/><circle cx="1439.4" cy="693" r="2.7"/><circle cx="1441.8" cy="692.9" r="2.7"/><circle cx="1444.3" cy="697.1" r="2.7"/><circle cx="1446.7" cy="696.8" r="2.7"/><circle cx="1449.1" cy="697.7" r="2.7"/><circle cx="1451.5" cy="698.6" r="2.7"/><circle cx="1453.9" cy="694.8" r="2.7"/><circle cx="1456.3" cy="697.6" r="2.7"/><circle cx="1458.7" cy="699.4" r="2.7"/><circle cx="1461.2" cy="695.4" r="2.7"/><circle cx="1463.6" cy="697.6" r="2.7"/><circle cx="1466" cy="695.1" r="2.7"/><circle cx="1468.4" cy="692.2" r="2.7"/><circle cx="1470.8" cy="695.7" r="2.7"/><circle cx="1473.2" cy="693.8" r="2.7"/><circle cx="1475.7" cy="695.7" r="2.7"/><circle cx="1478.1" cy="694.5" r="2.7"/><circle cx="1480.5" cy="696.1" r="2.7"/><circle cx="1482.9" cy="691.2" r="2.7"/><circle cx="1485.3" cy="699.6" r="2.7"/><circle cx="1487.7" cy="698.1" r="2.7"/><circle cx="1490.1" cy="694.7" r="2.7"/><circle cx="1492.6" cy="693.6" r="2.7"/><circle cx="1495" cy="695.4" r="2.7"/><circle cx="1497.4" cy="696.7" r="2.7"/><circle cx="1499.8" cy="696.2" r="2.7"/><circle cx="1502.2" cy="696" r="2.7"/><circle cx="1504.6" cy="691.1" r="2.7"/><circle cx="1507" cy="692.5" r="2.7"/><circle cx="1509.5" cy="696.9" r="2.7"/><circle cx="1511.9" cy="693.8" r="2.7"/><circle cx="1514.3" cy="688.8" r="2.7"/><circle cx="1516.7" cy="687.9" r="2.7"/><circle cx="1519.1" cy="683.4" r="2.7"/><circle cx="1521.5" cy="679.5" r="2.7"/><circle cx="1524" cy="677.6" r="2.7"/><circle cx="1526.4" cy="666.7" r="2.7"/><circle cx="1528.8" cy="659.5" r="2.7"/><circle cx="1531.2" cy="646.4" r="2.7"/><circle cx="1533.6" cy="630.8" r="2.7"/><circle cx="1536" cy="620.3" r="2.7"/><circle cx="1538.4" cy="615" r="2.7"/><circle cx="1540.9" cy="599.5" r="2.7"/><circle cx="1543.3" cy="592.4" r="2.7"/><circle cx="1545.7" cy="593.8" r="2.7"/><circle cx="1548.1" cy="591.7" r="2.7"/><circle cx="1550.5" cy="594.6" r="2.7"/><circle cx="1552.9" cy="602.9" r="2.7"/><circle cx="1555.3" cy="602.8" r="2.7"/><circle cx="1557.8" cy="613.7" r="2.7"/><circle cx="1560.2" cy="616.3" r="2.7"/><circle cx="1562.6" cy="619.9" r="2.7"/><circle cx="1565" cy="624" r="2.7"/><circle cx="1567.4" cy="629.9" r="2.7"/><circle cx="1569.8" cy="628.8" r="2.7"/><circle cx="1572.3" cy="627" r="2.7"/><circle cx="1574.7" cy="630.8" r="2.7"/><circle cx="1577.1" cy="639.3" r="2.7"/><circle cx="1579.5" cy="642.2" r="2.7"/><circle cx="1581.9" cy="642.2" r="2.7"/><circle cx="1584.3" cy="653.6" r="2.7"/><circle cx="1586.7" cy="651.6" r="2.7"/><circle cx="1589.2" cy="652.8" r="2.7"/><circle cx="1591.6" cy="657" r="2.7"/><circle cx="1594" cy="660.3" r="2.7"/><circle cx="1596.4" cy="662.4" r="2.7"/><circle cx="1598.8" cy="661.8" r="2.7"/><circle cx="1601.2" cy="659.6" r="2.7"/><circle cx="1603.6" cy="660.6" r="2.7"/><circle cx="1606.1" cy="660.7" r="2.7"/><circle cx="1608.5" cy="666" r="2.7"/><circle cx="1610.9" cy="667.9" r="2.7"/><circle cx="1613.3" cy="673" r="2.7"/><circle cx="1615.7" cy="673.3" r="2.7"/><circle cx="1618.1" cy="678.2" r="2.7"/><circle cx="1620.6" cy="680.6" r="2.7"/><circle cx="1623" cy="682.7" r="2.7"/><circle cx="1625.4" cy="685.1" r="2.7"/><circle cx="1627.8" cy="687.4" r="2.7"/><circle cx="1630.2" cy="688.7" r="2.7"/><circle cx="1632.6" cy="693.4" r="2.7"/><circle cx="1635" cy="693.4" r="2.7"/><circle cx="1637.5" cy="691.1" r="2.7"/><circle cx="1639.9" cy="695.3" r="2.7"/><circle cx="1642.3" cy="695.2" r="2.7"/></g><line x1="1173.8" y1="1023.5" x2="1648.7" y2="1023.5" stroke="#1a2cff" stroke-width="1.6"/><path d="M1173.8,1022.9 L1176.6,1022.8 L1179.5,1022.7 L1182.4,1022.5 L1185.2,1022.3 L1188.1,1021.8 L1190.9,1020.8 L1193.8,1018.9 L1196.7,1015.5 L1199.5,1009.3 L1202.4,999.1 L1205.2,983.5 L1208.1,961.1 L1211,931.8 L1213.8,896.6 L1216.7,858.5 L1219.5,822 L1222.4,792.9 L1225.3,776.2 L1228.1,775.4 L1231,790.5 L1233.8,818.6 L1236.7,854.6 L1239.6,892.7 L1242.4,928.4 L1245.3,958.4 L1248.1,981.5 L1251,997.8 L1253.8,1008.5 L1256.7,1015 L1259.6,1018.7 L1262.4,1020.7 L1265.3,1021.7 L1268.1,1022.2 L1271,1022.5 L1273.9,1022.7 L1276.7,1022.8 L1279.6,1022.9 L1282.4,1022.9 L1285.3,1023 L1288.2,1023 L1291,1023.1 L1293.9,1023.1 L1296.7,1023.1 L1299.6,1023.2 L1302.5,1023.2 L1305.3,1023.2 L1308.2,1023.2 L1311,1023.2 L1313.9,1023.3 L1316.8,1023.3 L1319.6,1023.3 L1322.5,1023.3 L1325.3,1023.3 L1328.2,1023.3 L1331.1,1023.3 L1333.9,1023.3 L1336.8,1023.3 L1339.6,1023.4 L1342.5,1023.4 L1345.4,1023.4 Z" fill="url(#g_blue)" stroke="none"/><path d="M1173.8,1022.9 L1173.8,1022.9 L1176.9,1022.8 L1180.1,1022.7 L1183.3,1022.5 L1186.5,1022.1 L1189.6,1021.3 L1192.8,1019.7 L1196,1016.5 L1199.1,1010.4 L1202.3,999.5 L1205.5,982 L1208.6,956.2 L1211.8,921.9 L1215,881.4 L1218.1,839.3 L1221.3,802.8 L1224.5,779.3 L1227.6,774.4 L1230.8,789.2 L1234,820.3 L1237.1,860.6 L1240.3,902.6 L1243.5,940.4 L1246.6,970.4 L1249.8,991.9 L1253,1005.8 L1256.2,1014 L1259.3,1018.4 L1262.5,1020.7 L1265.7,1021.8 L1268.8,1022.3 L1272,1022.6 L1275.2,1022.7 L1278.3,1022.8 L1281.5,1022.9 L1284.7,1023 L1287.8,1023 L1291,1023.1 L1294.2,1023.1 L1297.3,1023.1 L1300.5,1023.2 L1303.7,1023.2 L1306.8,1023.2 L1310,1023.2 L1313.2,1023.3 L1316.3,1023.3 L1319.5,1023.3 L1322.7,1023.3 L1325.9,1023.3 L1329,1023.3 L1332.2,1023.3 L1648.7,1023.5" fill="none" stroke="#20208a" stroke-width="1.9" stroke-dasharray="13,8"/><path d="M1173.8,1023 L1177.7,1023 L1181.6,1022.9 L1185.5,1022.8 L1189.4,1022.7 L1193.4,1022.7 L1197.3,1022.5 L1201.2,1022.4 L1205.1,1022.1 L1209,1021.8 L1212.9,1021.3 L1216.9,1020.5 L1220.8,1019.4 L1224.7,1017.7 L1228.6,1015.4 L1232.5,1012.4 L1236.4,1008.9 L1240.4,1005 L1244.3,1001.3 L1248.2,998.6 L1252.1,997.6 L1256,998.7 L1259.9,1001.5 L1263.8,1005.1 L1267.8,1009 L1271.7,1012.5 L1275.6,1015.5 L1279.5,1017.8 L1283.4,1019.4 L1287.3,1020.6 L1291.3,1021.3 L1295.2,1021.8 L1299.1,1022.1 L1303,1022.4 L1306.9,1022.5 L1310.8,1022.7 L1314.8,1022.8 L1318.7,1022.8 L1322.6,1022.9 L1326.5,1023 L1330.4,1023 L1334.3,1023.1 L1338.2,1023.1 L1342.2,1023.1 L1346.1,1023.2 L1350,1023.2 L1353.9,1023.2 L1357.8,1023.2 L1361.7,1023.2 L1365.7,1023.3 L1369.6,1023.3 L1373.5,1023.3 L1377.4,1023.3 L1381.3,1023.3 L1385.2,1023.3 L1389.2,1023.3 L1393.1,1023.3 L1397,1023.4 L1400.9,1023.4 L1404.8,1023.4 L1408.7,1023.4 Z" fill="url(#g_green)" stroke="none"/><path d="M1173.8,1023 L1173.8,1023 L1178.1,1023 L1182.5,1022.9 L1186.8,1022.8 L1191.2,1022.7 L1195.5,1022.6 L1199.9,1022.4 L1204.2,1022.2 L1208.6,1021.9 L1212.9,1021.3 L1217.3,1020.4 L1221.6,1019.1 L1226,1017 L1230.3,1014.1 L1234.7,1010.5 L1239,1006.3 L1243.4,1002.1 L1247.7,998.9 L1252.1,997.6 L1256.4,998.9 L1260.8,1002.2 L1265.1,1006.4 L1269.5,1010.6 L1273.8,1014.2 L1278.2,1017.1 L1282.6,1019.1 L1286.9,1020.5 L1291.3,1021.3 L1295.6,1021.9 L1300,1022.2 L1304.3,1022.4 L1308.7,1022.6 L1313,1022.7 L1317.4,1022.8 L1321.7,1022.9 L1326.1,1023 L1330.4,1023 L1334.8,1023.1 L1339.1,1023.1 L1343.5,1023.1 L1347.8,1023.2 L1352.2,1023.2 L1356.5,1023.2 L1360.9,1023.2 L1365.2,1023.3 L1369.6,1023.3 L1373.9,1023.3 L1378.3,1023.3 L1382.6,1023.3 L1387,1023.3 L1391.3,1023.3 L1648.7,1023.5" fill="none" stroke="#117a11" stroke-width="1.9" stroke-dasharray="13,8"/><path d="M1173.8,1023.5 L1241.8,1023.4 L1244.4,1023.4 L1247,1023.4 L1249.5,1023.4 L1252.1,1023.4 L1254.7,1023.4 L1257.3,1023.4 L1259.8,1023.4 L1262.4,1023.3 L1265,1023.3 L1267.5,1023.3 L1270.1,1023.3 L1272.7,1023.2 L1275.3,1023.2 L1277.8,1023.1 L1280.4,1023 L1283,1022.9 L1285.5,1022.7 L1288.1,1022.2 L1290.7,1021.3 L1293.3,1019.6 L1295.8,1016.8 L1298.4,1013.1 L1301,1008.8 L1303.5,1005.1 L1306.1,1003.6 L1308.7,1005.1 L1311.2,1008.8 L1313.8,1013.1 L1316.4,1016.8 L1319,1019.6 L1321.5,1021.3 L1324.1,1022.2 L1326.7,1022.7 L1329.2,1022.9 L1331.8,1023 L1334.4,1023.1 L1337,1023.2 L1339.5,1023.2 L1342.1,1023.3 L1344.7,1023.3 L1347.2,1023.3 L1349.8,1023.3 L1352.4,1023.4 L1355,1023.4 L1357.5,1023.4 L1360.1,1023.4 L1362.7,1023.4 L1365.2,1023.4 L1367.8,1023.4 L1370.4,1023.4 L1648.7,1023.5" fill="none" stroke="#1a2cff" stroke-width="1.9" stroke-dasharray="13,8"/><path d="M1173.8,1023.5 L1247,1023.5 L1250.2,1023.5 L1253.4,1023.5 L1256.6,1023.5 L1259.8,1023.5 L1262.9,1023.5 L1266.1,1023.5 L1269.3,1023.5 L1272.5,1023.5 L1275.6,1023.5 L1278.8,1023.5 L1282,1023.5 L1285.2,1023.5 L1288.4,1023.5 L1291.5,1023.5 L1294.7,1023.5 L1297.9,1023.4 L1301.1,1023.3 L1304.3,1022.9 L1307.4,1022 L1310.6,1020.1 L1313.8,1017.1 L1317,1013 L1320.1,1008.5 L1323.3,1004.9 L1326.5,1003.6 L1329.7,1004.9 L1332.9,1008.5 L1336,1013 L1339.2,1017.1 L1342.4,1020.1 L1345.6,1022 L1348.8,1022.9 L1351.9,1023.3 L1355.1,1023.4 L1358.3,1023.5 L1361.5,1023.5 L1364.7,1023.5 L1367.8,1023.5 L1371,1023.5 L1374.2,1023.5 L1377.4,1023.5 L1380.5,1023.5 L1383.7,1023.5 L1386.9,1023.5 L1390.1,1023.5 L1393.3,1023.5 L1396.4,1023.5 L1399.6,1023.5 L1402.8,1023.5 L1406,1023.5 L1648.7,1023.5" fill="none" stroke="#1a2cff" stroke-width="1.9" stroke-dasharray="13,8"/><path d="M1173.8,1023.5 L1240.5,1023.5 L1246.8,1023.5 L1253.2,1023.5 L1259.5,1023.5 L1265.9,1023.5 L1272.2,1023.5 L1278.5,1023.5 L1284.9,1023.5 L1291.2,1023.5 L1297.6,1023.5 L1303.9,1023.5 L1310.2,1023.5 L1316.6,1023.5 L1322.9,1023.5 L1329.3,1023.5 L1335.6,1023.5 L1341.9,1023.4 L1348.3,1023.1 L1354.6,1022.3 L1360.9,1020.6 L1367.3,1017.1 L1373.6,1011.4 L1380,1003.6 L1386.3,995.1 L1392.6,988.4 L1399,985.8 L1405.3,988.4 L1411.7,995.1 L1418,1003.6 L1424.3,1011.4 L1430.7,1017.1 L1437,1020.6 L1443.4,1022.3 L1449.7,1023.1 L1456,1023.4 L1462.4,1023.5 L1468.7,1023.5 L1475.1,1023.5 L1481.4,1023.5 L1487.7,1023.5 L1494.1,1023.5 L1500.4,1023.5 L1506.8,1023.5 L1513.1,1023.5 L1519.4,1023.5 L1525.8,1023.5 L1532.1,1023.5 L1538.5,1023.5 L1544.8,1023.5 L1551.1,1023.5 L1557.5,1023.5 L1648.7,1023.5" fill="none" stroke="#1a1a85" stroke-width="1.9" stroke-dasharray="13,8"/><path d="M1173.8,1023.5 L1313.9,1023.5 L1318.9,1023.5 L1324,1023.5 L1329.1,1023.5 L1334.1,1023.5 L1339.2,1023.5 L1344.2,1023.5 L1349.3,1023.5 L1354.4,1023.5 L1359.4,1023.5 L1364.5,1023.5 L1369.5,1023.5 L1374.6,1023.5 L1379.7,1023.5 L1384.7,1023.5 L1389.8,1023.5 L1394.9,1023.4 L1399.9,1023.1 L1405,1022.3 L1410,1020.6 L1415.1,1017.1 L1420.2,1011.4 L1425.2,1003.6 L1430.3,995.1 L1435.4,988.4 L1440.4,985.8 L1445.5,988.4 L1450.5,995.1 L1455.6,1003.6 L1460.7,1011.4 L1465.7,1017.1 L1470.8,1020.6 L1475.8,1022.3 L1480.9,1023.1 L1486,1023.4 L1491,1023.5 L1496.1,1023.5 L1501.2,1023.5 L1506.2,1023.5 L1511.3,1023.5 L1516.3,1023.5 L1521.4,1023.5 L1526.5,1023.5 L1531.5,1023.5 L1536.6,1023.5 L1541.6,1023.5 L1546.7,1023.5 L1551.8,1023.5 L1556.8,1023.5 L1561.9,1023.5 L1567,1023.5 L1648.7,1023.5" fill="none" stroke="#1a1a85" stroke-width="1.9" stroke-dasharray="13,8"/><path d="M1409.6,1023.2 L1413.6,1023.2 L1417.6,1023.2 L1421.6,1023.1 L1425.6,1023.1 L1429.5,1023.1 L1433.5,1023.1 L1437.5,1023 L1441.5,1023 L1445.5,1023 L1449.5,1022.9 L1453.5,1022.9 L1457.4,1022.8 L1461.4,1022.7 L1465.4,1022.7 L1469.4,1022.6 L1473.4,1022.5 L1477.4,1022.3 L1481.3,1022.2 L1485.3,1022 L1489.3,1021.8 L1493.3,1021.5 L1497.3,1021.1 L1501.3,1020.5 L1505.3,1019.4 L1509.2,1017.5 L1513.2,1014 L1517.2,1008 L1521.2,998.6 L1525.2,985.2 L1529.2,968.3 L1533.2,949.9 L1537.1,933.5 L1541.1,923.8 L1545.1,924.3 L1549.1,934.9 L1553.1,951.7 L1557.1,970.1 L1561.1,986.7 L1565,999.7 L1569,1008.7 L1573,1014.4 L1577,1017.7 L1581,1019.5 L1585,1020.6 L1589,1021.1 L1592.9,1021.5 L1596.9,1021.8 L1600.9,1022 L1604.9,1022.2 L1608.9,1022.3 L1612.9,1022.5 L1616.8,1022.6 L1620.8,1022.7 L1624.8,1022.7 L1628.8,1022.8 L1632.8,1022.9 L1636.8,1022.9 L1640.8,1023 L1644.7,1023 L1648.7,1023 Z" fill="url(#g_blue)" stroke="none"/><path d="M1173.8,1023.5 L1424.4,1023.1 L1428.9,1023.1 L1433.4,1023.1 L1437.9,1023 L1442.4,1023 L1446.9,1022.9 L1451.3,1022.9 L1455.8,1022.8 L1460.3,1022.7 L1464.8,1022.7 L1469.3,1022.6 L1473.8,1022.4 L1478.3,1022.3 L1482.7,1022.1 L1487.2,1021.9 L1491.7,1021.6 L1496.2,1021.2 L1500.7,1020.6 L1505.2,1019.4 L1509.7,1017.2 L1514.1,1012.8 L1518.6,1005.1 L1523.1,992.6 L1527.6,975.3 L1532.1,954.8 L1536.6,935.5 L1541.1,923.8 L1545.5,925 L1550,938.5 L1554.5,958.4 L1559,978.6 L1563.5,995.1 L1568,1006.7 L1572.5,1013.8 L1577,1017.7 L1581.4,1019.7 L1585.9,1020.7 L1590.4,1021.3 L1594.9,1021.7 L1599.4,1021.9 L1603.9,1022.2 L1608.4,1022.3 L1612.8,1022.5 L1617.3,1022.6 L1621.8,1022.7 L1626.3,1022.8 L1630.8,1022.8 L1635.3,1022.9 L1639.8,1022.9 L1644.2,1023 L1648.7,1023 L1648.7,1023" fill="none" stroke="#20208a" stroke-width="1.9" stroke-dasharray="13,8"/><path d="M1442.6,1023.5 L1446.1,1023.5 L1449.5,1023.5 L1452.9,1023.5 L1456.4,1023.5 L1459.8,1023.5 L1463.2,1023.5 L1466.7,1023.5 L1470.1,1023.5 L1473.5,1023.5 L1477,1023.5 L1480.4,1023.5 L1483.8,1023.5 L1487.3,1023.5 L1490.7,1023.5 L1494.1,1023.5 L1497.6,1023.5 L1501,1023.5 L1504.5,1023.5 L1507.9,1023.5 L1511.3,1023.5 L1514.8,1023.5 L1518.2,1023.5 L1521.6,1023.5 L1525.1,1023.5 L1528.5,1023.5 L1531.9,1023.4 L1535.4,1023.4 L1538.8,1023.2 L1542.2,1022.8 L1545.7,1022.2 L1549.1,1021.2 L1552.5,1019.8 L1556,1017.8 L1559.4,1015.4 L1562.8,1012.9 L1566.3,1010.6 L1569.7,1009.1 L1573.2,1008.6 L1576.6,1009.2 L1580,1010.8 L1583.5,1013.1 L1586.9,1015.6 L1590.3,1017.9 L1593.8,1019.9 L1597.2,1021.3 L1600.6,1022.3 L1604.1,1022.9 L1607.5,1023.2 L1610.9,1023.4 L1614.4,1023.4 L1617.8,1023.5 L1621.2,1023.5 L1624.7,1023.5 L1628.1,1023.5 L1631.6,1023.5 L1635,1023.5 L1638.4,1023.5 L1641.9,1023.5 L1645.3,1023.5 L1648.7,1023.5 Z" fill="url(#g_green)" stroke="none"/><path d="M1173.8,1023.5 L1457.1,1023.5 L1460.9,1023.5 L1464.8,1023.5 L1468.6,1023.5 L1472.4,1023.5 L1476.3,1023.5 L1480.1,1023.5 L1483.9,1023.5 L1487.8,1023.5 L1491.6,1023.5 L1495.4,1023.5 L1499.3,1023.5 L1503.1,1023.5 L1506.9,1023.5 L1510.8,1023.5 L1514.6,1023.5 L1518.4,1023.5 L1522.3,1023.5 L1526.1,1023.5 L1529.9,1023.5 L1533.8,1023.4 L1537.6,1023.3 L1541.4,1022.9 L1545.3,1022.3 L1549.1,1021.2 L1552.9,1019.6 L1556.8,1017.3 L1560.6,1014.5 L1564.4,1011.8 L1568.2,1009.6 L1572.1,1008.6 L1575.9,1009 L1579.7,1010.6 L1583.6,1013.1 L1587.4,1015.9 L1591.2,1018.5 L1595.1,1020.5 L1598.9,1021.9 L1602.7,1022.7 L1606.6,1023.1 L1610.4,1023.4 L1614.2,1023.4 L1618.1,1023.5 L1621.9,1023.5 L1625.7,1023.5 L1629.6,1023.5 L1633.4,1023.5 L1637.2,1023.5 L1641.1,1023.5 L1644.9,1023.5 L1648.7,1023.5 L1648.7,1023.5" fill="none" stroke="#117a11" stroke-width="1.9" stroke-dasharray="13,8"/><path d="M1173.8,1023.5 L1491,1023.5 L1494.1,1023.5 L1497.3,1023.5 L1500.4,1023.5 L1503.6,1023.5 L1506.7,1023.5 L1509.9,1023.5 L1513,1023.5 L1516.2,1023.5 L1519.4,1023.5 L1522.5,1023.5 L1525.7,1023.5 L1528.8,1023.5 L1532,1023.5 L1535.1,1023.5 L1538.3,1023.5 L1541.4,1023.5 L1544.6,1023.5 L1547.8,1023.5 L1550.9,1023.5 L1554.1,1023.5 L1557.2,1023.5 L1560.4,1023.5 L1563.5,1023.4 L1566.7,1023.2 L1569.8,1023 L1573,1022.4 L1576.2,1021.6 L1579.3,1020.3 L1582.5,1018.5 L1585.6,1016.4 L1588.8,1014 L1591.9,1011.8 L1595.1,1010.1 L1598.2,1009.2 L1601.4,1009.4 L1604.6,1010.6 L1607.7,1012.6 L1610.9,1014.9 L1614,1017.3 L1617.2,1019.3 L1620.3,1020.9 L1623.5,1022 L1626.6,1022.7 L1629.8,1023.1 L1633,1023.3 L1636.1,1023.4 L1639.3,1023.5 L1642.4,1023.5 L1645.6,1023.5 L1648.7,1023.5 L1648.7,1023.5" fill="none" stroke="#1a2cff" stroke-width="1.9" stroke-dasharray="13,8"/><path d="M1169,1022.4 L1169.8,1022.4 L1170.6,1022.3 L1171.4,1022.3 L1172.2,1022.3 L1173,1022.2 L1173.8,1022.2 L1174.6,1022.2 L1175.4,1022.1 L1176.2,1022.1 L1177,1022.1 L1177.8,1022 L1178.6,1022 L1179.4,1021.9 L1180.2,1021.9 L1181,1021.8 L1181.8,1021.7 L1182.6,1021.7 L1183.4,1021.6 L1184.2,1021.5 L1185,1021.4 L1185.9,1021.2 L1186.7,1021.1 L1187.5,1020.9 L1188.3,1020.7 L1189.1,1020.4 L1189.9,1020.1 L1190.7,1019.8 L1191.5,1019.3 L1192.3,1018.8 L1193.1,1018.2 L1193.9,1017.5 L1194.7,1016.6 L1195.5,1015.5 L1196.3,1014.2 L1197.1,1012.7 L1197.9,1010.8 L1198.7,1008.6 L1199.5,1005.9 L1200.3,1002.6 L1201.2,998.7 L1202,994.1 L1202.8,988.8 L1203.6,982.8 L1204.4,976.1 L1205.2,968.8 L1206,961.1 L1206.8,953.1 L1207.6,945.2 L1208.4,937.5 L1209.2,930 L1210,922.8 L1210.8,915.6 L1211.6,908.3 L1212.4,900.6 L1213.2,892.6 L1214,884 L1214.8,874.9 L1215.6,865.3 L1216.4,855.5 L1217.2,845.4 L1218.1,835.3 L1218.9,825.3 L1219.7,815.7 L1220.5,806.5 L1221.3,798 L1222.1,790.3 L1222.9,783.5 L1223.7,777.7 L1224.5,773 L1225.3,769.5 L1226.1,767.2 L1226.9,766.3 L1227.7,766.6 L1228.5,768.2 L1229.3,771 L1230.1,775 L1230.9,780.1 L1231.7,786.2 L1232.5,793.2 L1233.3,801.1 L1234.2,809.6 L1235,818.6 L1235.8,828.1 L1236.6,837.9 L1237.4,847.8 L1238.2,857.8 L1239,867.8 L1239.8,877.6 L1240.6,887.1 L1241.4,896.3 L1242.2,905 L1243,913.3 L1243.8,921.2 L1244.6,928.5 L1245.4,935.3 L1246.2,941.6 L1247,947.5 L1247.8,952.9 L1248.6,958 L1249.5,962.7 L1250.3,967.1 L1251.1,971 L1251.9,974.7 L1252.7,978 L1253.5,981 L1254.3,983.6 L1255.1,986.1 L1255.9,988.2 L1256.7,990.2 L1257.5,992 L1258.3,993.7 L1259.1,995.2 L1259.9,996.7 L1260.7,998 L1261.5,999.3 L1262.3,1000.5 L1263.1,1001.6 L1263.9,1002.7 L1264.7,1003.8 L1265.5,1004.8 L1266.4,1005.7 L1267.2,1006.6 L1268,1007.5 L1268.8,1008.4 L1269.6,1009.1 L1270.4,1009.9 L1271.2,1010.6 L1272,1011.2 L1272.8,1011.8 L1273.6,1012.3 L1274.4,1012.7 L1275.2,1013 L1276,1013.2 L1276.8,1013.3 L1277.6,1013.3 L1278.4,1013.1 L1279.2,1012.8 L1280,1012.3 L1280.8,1011.7 L1281.7,1011 L1282.5,1010.3 L1283.3,1009.4 L1284.1,1008.5 L1284.9,1007.7 L1285.7,1006.9 L1286.5,1006.2 L1287.3,1005.6 L1288.1,1005.2 L1288.9,1005 L1289.7,1004.9 L1290.5,1005 L1291.3,1005.3 L1292.1,1005.6 L1292.9,1006 L1293.7,1006.4 L1294.5,1006.8 L1295.3,1007.1 L1296.1,1007.2 L1296.9,1007.2 L1297.8,1007 L1298.6,1006.7 L1299.4,1006.2 L1300.2,1005.6 L1301,1004.8 L1301.8,1004 L1302.6,1003.2 L1303.4,1002.4 L1304.2,1001.7 L1305,1001.2 L1305.8,1000.9 L1306.6,1000.8 L1307.4,1001 L1308.2,1001.3 L1309,1001.8 L1309.8,1002.4 L1310.6,1003.1 L1311.4,1003.8 L1312.2,1004.4 L1313,1005 L1313.8,1005.5 L1314.7,1005.8 L1315.5,1006 L1316.3,1006 L1317.1,1005.9 L1317.9,1005.7 L1318.7,1005.3 L1319.5,1004.9 L1320.3,1004.4 L1321.1,1003.8 L1321.9,1003.3 L1322.7,1002.8 L1323.5,1002.4 L1324.3,1002.1 L1325.1,1001.9 L1325.9,1001.8 L1326.7,1001.9 L1327.5,1002.1 L1328.3,1002.5 L1329.1,1003.1 L1330,1003.8 L1330.8,1004.6 L1331.6,1005.5 L1332.4,1006.6 L1333.2,1007.7 L1334,1008.8 L1334.8,1010 L1335.6,1011.2 L1336.4,1012.3 L1337.2,1013.5 L1338,1014.5 L1338.8,1015.5 L1339.6,1016.5 L1340.4,1017.3 L1341.2,1018.1 L1342,1018.8 L1342.8,1019.4 L1343.6,1019.9 L1344.4,1020.3 L1345.2,1020.7 L1346,1021 L1346.9,1021.2 L1347.7,1021.4 L1348.5,1021.6 L1349.3,1021.7 L1350.1,1021.7 L1350.9,1021.8 L1351.7,1021.7 L1352.5,1021.7 L1353.3,1021.6 L1354.1,1021.6 L1354.9,1021.4 L1355.7,1021.3 L1356.5,1021.2 L1357.3,1021 L1358.1,1020.8 L1358.9,1020.5 L1359.7,1020.3 L1360.5,1020 L1361.3,1019.7 L1362.2,1019.4 L1363,1019 L1363.8,1018.6 L1364.6,1018.2 L1365.4,1017.7 L1366.2,1017.2 L1367,1016.7 L1367.8,1016.1 L1368.6,1015.5 L1369.4,1014.8 L1370.2,1014.1 L1371,1013.4 L1371.8,1012.6 L1372.6,1011.8 L1373.4,1011 L1374.2,1010.1 L1375,1009.2 L1375.8,1008.2 L1376.6,1007.3 L1377.4,1006.3 L1378.2,1005.2 L1379.1,1004.2 L1379.9,1003.1 L1380.7,1002 L1381.5,1001 L1382.3,999.9 L1383.1,998.8 L1383.9,997.7 L1384.7,996.6 L1385.5,995.6 L1386.3,994.5 L1387.1,993.5 L1387.9,992.5 L1388.7,991.6 L1389.5,990.7 L1390.3,989.8 L1391.1,989.1 L1391.9,988.3 L1392.7,987.6 L1393.5,987 L1394.3,986.5 L1395.2,986 L1396,985.6 L1396.8,985.3 L1397.6,985.1 L1398.4,984.9 L1399.2,984.9 L1400,984.8 L1400.8,984.9 L1401.6,985.1 L1402.4,985.3 L1403.2,985.5 L1404,985.9 L1404.8,986.2 L1405.6,986.7 L1406.4,987.1 L1407.2,987.6 L1408,988.2 L1408.8,988.7 L1409.6,989.3 L1410.5,989.8 L1411.3,990.4 L1412.1,990.9 L1412.9,991.4 L1413.7,991.9 L1414.5,992.3 L1415.3,992.7 L1416.1,993 L1416.9,993.3 L1417.7,993.5 L1418.5,993.6 L1419.3,993.6 L1420.1,993.6 L1420.9,993.5 L1421.7,993.3 L1422.5,993 L1423.3,992.7 L1424.1,992.3 L1424.9,991.8 L1425.7,991.3 L1426.5,990.7 L1427.4,990.1 L1428.2,989.4 L1429,988.8 L1429.8,988.1 L1430.6,987.4 L1431.4,986.7 L1432.2,986 L1433,985.4 L1433.8,984.8 L1434.6,984.3 L1435.4,983.8 L1436.2,983.4 L1437,983.1 L1437.8,982.9 L1438.6,982.8 L1439.4,982.9 L1440.2,983 L1441,983.2 L1441.8,983.6 L1442.7,984 L1443.5,984.6 L1444.3,985.3 L1445.1,986.1 L1445.9,987 L1446.7,987.9 L1447.5,989 L1448.3,990.1 L1449.1,991.3 L1449.9,992.6 L1450.7,993.9 L1451.5,995.2 L1452.3,996.6 L1453.1,998 L1453.9,999.3 L1454.7,1000.7 L1455.5,1002.1 L1456.3,1003.4 L1457.1,1004.7 L1457.9,1006 L1458.8,1007.2 L1459.6,1008.4 L1460.4,1009.5 L1461.2,1010.6 L1462,1011.6 L1462.8,1012.5 L1463.6,1013.4 L1464.4,1014.2 L1465.2,1015 L1466,1015.7 L1466.8,1016.3 L1467.6,1016.9 L1468.4,1017.4 L1469.2,1017.9 L1470,1018.3 L1470.8,1018.7 L1471.6,1019 L1472.4,1019.3 L1473.2,1019.6 L1474,1019.8 L1474.8,1020 L1475.7,1020.1 L1476.5,1020.2 L1477.3,1020.3 L1478.1,1020.4 L1478.9,1020.4 L1479.7,1020.5 L1480.5,1020.5 L1481.3,1020.5 L1482.1,1020.5 L1482.9,1020.4 L1483.7,1020.4 L1484.5,1020.3 L1485.3,1020.2 L1486.1,1020.2 L1486.9,1020.1 L1487.7,1020 L1488.5,1019.9 L1489.3,1019.7 L1490.1,1019.6 L1491,1019.4 L1491.8,1019.3 L1492.6,1019.1 L1493.4,1018.9 L1494.2,1018.7 L1495,1018.4 L1495.8,1018.1 L1496.6,1017.8 L1497.4,1017.5 L1498.2,1017.1 L1499,1016.7 L1499.8,1016.2 L1500.6,1015.7 L1501.4,1015.1 L1502.2,1014.4 L1503,1013.6 L1503.8,1012.7 L1504.6,1011.8 L1505.4,1010.7 L1506.2,1009.5 L1507,1008.2 L1507.9,1006.8 L1508.7,1005.2 L1509.5,1003.4 L1510.3,1001.5 L1511.1,999.5 L1511.9,997.3 L1512.7,995 L1513.5,992.5 L1514.3,990 L1515.1,987.3 L1515.9,984.6 L1516.7,981.9 L1517.5,979.3 L1518.3,976.7 L1519.1,974.2 L1519.9,971.9 L1520.7,969.8 L1521.5,967.8 L1522.3,966 L1523.2,964.3 L1524,962.7 L1524.8,961 L1525.6,959.4 L1526.4,957.7 L1527.2,955.8 L1528,953.9 L1528.8,951.8 L1529.6,949.6 L1530.4,947.3 L1531.2,944.9 L1532,942.4 L1532.8,939.8 L1533.6,937.1 L1534.4,934.5 L1535.2,931.9 L1536,929.4 L1536.8,927.1 L1537.6,924.8 L1538.4,922.8 L1539.2,921.1 L1540.1,919.6 L1540.9,918.5 L1541.7,917.6 L1542.5,917.2 L1543.3,917.1 L1544.1,917.4 L1544.9,918.1 L1545.7,919 L1546.5,920.3 L1547.3,921.9 L1548.1,923.8 L1548.9,925.8 L1549.7,928 L1550.5,930.4 L1551.3,932.8 L1552.1,935.3 L1552.9,937.8 L1553.7,940.3 L1554.5,942.9 L1555.3,945.3 L1556.2,947.7 L1557,950.1 L1557.8,952.4 L1558.6,954.6 L1559.4,956.7 L1560.2,958.8 L1561,960.8 L1561.8,962.8 L1562.6,964.7 L1563.4,966.6 L1564.2,968.4 L1565,970.3 L1565.8,972.1 L1566.6,973.9 L1567.4,975.6 L1568.2,977.4 L1569,979.1 L1569.8,980.8 L1570.6,982.5 L1571.5,984.2 L1572.3,985.8 L1573.1,987.4 L1573.9,989 L1574.7,990.5 L1575.5,991.9 L1576.3,993.3 L1577.1,994.6 L1577.9,995.8 L1578.7,996.9 L1579.5,998 L1580.3,998.9 L1581.1,999.8 L1581.9,1000.6 L1582.7,1001.2 L1583.5,1001.9 L1584.3,1002.4 L1585.1,1002.8 L1585.9,1003.2 L1586.7,1003.5 L1587.5,1003.8 L1588.4,1004 L1589.2,1004.2 L1590,1004.3 L1590.8,1004.4 L1591.6,1004.5 L1592.4,1004.6 L1593.2,1004.6 L1594,1004.7 L1594.8,1004.8 L1595.6,1004.9 L1596.4,1005 L1597.2,1005.1 L1598,1005.3 L1598.8,1005.6 L1599.6,1005.8 L1600.4,1006.1 L1601.2,1006.5 L1602,1006.9 L1602.8,1007.4 L1603.7,1007.8 L1604.5,1008.4 L1605.3,1008.9 L1606.1,1009.5 L1606.9,1010.2 L1607.7,1010.8 L1608.5,1011.5 L1609.3,1012.1 L1610.1,1012.8 L1610.9,1013.5 L1611.7,1014.1 L1612.5,1014.8 L1613.3,1015.4 L1614.1,1016 L1614.9,1016.6 L1615.7,1017.1 L1616.5,1017.7 L1617.3,1018.2 L1618.1,1018.6 L1618.9,1019.1 L1619.8,1019.5 L1620.6,1019.9 L1621.4,1020.2 L1622.2,1020.5 L1623,1020.8 L1623.8,1021 L1624.6,1021.3 L1625.4,1021.5 L1626.2,1021.6 L1627,1021.8 L1627.8,1021.9 L1628.6,1022 L1629.4,1022.2 L1630.2,1022.2 L1631,1022.3 L1631.8,1022.4 L1632.6,1022.5 L1633.4,1022.5 L1634.2,1022.6 L1635,1022.6 L1635.8,1022.6 L1636.7,1022.7 L1637.5,1022.7 L1638.3,1022.7 L1639.1,1022.7 L1639.9,1022.7 L1640.7,1022.8 L1641.5,1022.8 L1642.3,1022.8 L1643.1,1022.8 L1643.9,1022.8 L1644.7,1022.8 L1645.5,1022.8 L1646.3,1022.9 L1647.1,1022.9 L1647.9,1022.9 L1648.7,1022.9 L1649.5,1022.9 L1650.3,1022.9 L1651.1,1022.9 L1652,1022.9 L1652.8,1022.9 L1653.6,1022.9" fill="none" stroke="#000" stroke-width="3" stroke-linejoin="round"/><g fill="#fff" stroke="#000" stroke-width="1.4"><circle cx="1169" cy="1023.4" r="2.7"/><circle cx="1171.4" cy="1018.7" r="2.7"/><circle cx="1173.8" cy="1020.7" r="2.7"/><circle cx="1176.2" cy="1022.3" r="2.7"/><circle cx="1178.6" cy="1024.9" r="2.7"/><circle cx="1181" cy="1021.8" r="2.7"/><circle cx="1183.4" cy="1018.3" r="2.7"/><circle cx="1185.9" cy="1021.9" r="2.7"/><circle cx="1188.3" cy="1018.3" r="2.7"/><circle cx="1190.7" cy="1022.2" r="2.7"/><circle cx="1193.1" cy="1017.7" r="2.7"/><circle cx="1195.5" cy="1019.1" r="2.7"/><circle cx="1197.9" cy="1010.6" r="2.7"/><circle cx="1200.3" cy="1000.6" r="2.7"/><circle cx="1202.8" cy="985.9" r="2.7"/><circle cx="1205.2" cy="968.1" r="2.7"/><circle cx="1207.6" cy="946.1" r="2.7"/><circle cx="1210" cy="925.2" r="2.7"/><circle cx="1212.4" cy="901.2" r="2.7"/><circle cx="1214.8" cy="873.4" r="2.7"/><circle cx="1217.2" cy="846.4" r="2.7"/><circle cx="1219.7" cy="812.8" r="2.7"/><circle cx="1222.1" cy="791.3" r="2.7"/><circle cx="1224.5" cy="771.5" r="2.7"/><circle cx="1226.9" cy="769.3" r="2.7"/><circle cx="1229.3" cy="773" r="2.7"/><circle cx="1231.7" cy="786.9" r="2.7"/><circle cx="1234.2" cy="807.5" r="2.7"/><circle cx="1236.6" cy="839" r="2.7"/><circle cx="1239" cy="868.5" r="2.7"/><circle cx="1241.4" cy="895.2" r="2.7"/><circle cx="1243.8" cy="919.9" r="2.7"/><circle cx="1246.2" cy="944.1" r="2.7"/><circle cx="1248.6" cy="957.2" r="2.7"/><circle cx="1251.1" cy="971.9" r="2.7"/><circle cx="1253.5" cy="983.7" r="2.7"/><circle cx="1255.9" cy="985.3" r="2.7"/><circle cx="1258.3" cy="997.3" r="2.7"/><circle cx="1260.7" cy="1000" r="2.7"/><circle cx="1263.1" cy="1000.3" r="2.7"/><circle cx="1265.5" cy="1002.9" r="2.7"/><circle cx="1268" cy="1005.1" r="2.7"/><circle cx="1270.4" cy="1011.8" r="2.7"/><circle cx="1272.8" cy="1006.6" r="2.7"/><circle cx="1275.2" cy="1014.9" r="2.7"/><circle cx="1277.6" cy="1013.6" r="2.7"/><circle cx="1280" cy="1010.9" r="2.7"/><circle cx="1282.5" cy="1009.2" r="2.7"/><circle cx="1284.9" cy="1007" r="2.7"/><circle cx="1287.3" cy="1005.2" r="2.7"/><circle cx="1289.7" cy="1006.7" r="2.7"/><circle cx="1292.1" cy="1003.9" r="2.7"/><circle cx="1294.5" cy="1009" r="2.7"/><circle cx="1296.9" cy="1009.2" r="2.7"/><circle cx="1299.4" cy="1005.7" r="2.7"/><circle cx="1301.8" cy="1005.2" r="2.7"/><circle cx="1304.2" cy="1000.6" r="2.7"/><circle cx="1306.6" cy="1000.9" r="2.7"/><circle cx="1309" cy="1002.8" r="2.7"/><circle cx="1311.4" cy="1007.7" r="2.7"/><circle cx="1313.8" cy="1005.4" r="2.7"/><circle cx="1316.3" cy="1005.7" r="2.7"/><circle cx="1318.7" cy="1005.4" r="2.7"/><circle cx="1321.1" cy="1003.5" r="2.7"/><circle cx="1323.5" cy="1000.2" r="2.7"/><circle cx="1325.9" cy="1005.5" r="2.7"/><circle cx="1328.3" cy="1001.3" r="2.7"/><circle cx="1330.8" cy="1003.4" r="2.7"/><circle cx="1333.2" cy="1006.3" r="2.7"/><circle cx="1335.6" cy="1012.6" r="2.7"/><circle cx="1338" cy="1020.5" r="2.7"/><circle cx="1340.4" cy="1023.4" r="2.7"/><circle cx="1342.8" cy="1021.3" r="2.7"/><circle cx="1345.2" cy="1021.4" r="2.7"/><circle cx="1347.7" cy="1021.4" r="2.7"/><circle cx="1350.1" cy="1019.7" r="2.7"/><circle cx="1352.5" cy="1023.2" r="2.7"/><circle cx="1354.9" cy="1021.3" r="2.7"/><circle cx="1357.3" cy="1025.2" r="2.7"/><circle cx="1359.7" cy="1019.7" r="2.7"/><circle cx="1362.1" cy="1017.3" r="2.7"/><circle cx="1364.6" cy="1014.5" r="2.7"/><circle cx="1367" cy="1013.1" r="2.7"/><circle cx="1369.4" cy="1016" r="2.7"/><circle cx="1371.8" cy="1013.3" r="2.7"/><circle cx="1374.2" cy="1007.8" r="2.7"/><circle cx="1376.6" cy="1004.2" r="2.7"/><circle cx="1379.1" cy="1004.8" r="2.7"/><circle cx="1381.5" cy="1000.2" r="2.7"/><circle cx="1383.9" cy="998.1" r="2.7"/><circle cx="1386.3" cy="994.5" r="2.7"/><circle cx="1388.7" cy="990" r="2.7"/><circle cx="1391.1" cy="985.6" r="2.7"/><circle cx="1393.5" cy="987.3" r="2.7"/><circle cx="1396" cy="985.8" r="2.7"/><circle cx="1398.4" cy="985.3" r="2.7"/><circle cx="1400.8" cy="986.8" r="2.7"/><circle cx="1403.2" cy="987.4" r="2.7"/><circle cx="1405.6" cy="985.7" r="2.7"/><circle cx="1408" cy="989.3" r="2.7"/><circle cx="1410.4" cy="985.4" r="2.7"/><circle cx="1412.9" cy="992.8" r="2.7"/><circle cx="1415.3" cy="992.6" r="2.7"/><circle cx="1417.7" cy="995.5" r="2.7"/><circle cx="1420.1" cy="995.6" r="2.7"/><circle cx="1422.5" cy="991.2" r="2.7"/><circle cx="1424.9" cy="991.6" r="2.7"/><circle cx="1427.4" cy="992.4" r="2.7"/><circle cx="1429.8" cy="987" r="2.7"/><circle cx="1432.2" cy="986.2" r="2.7"/><circle cx="1434.6" cy="983" r="2.7"/><circle cx="1437" cy="984.3" r="2.7"/><circle cx="1439.4" cy="983.5" r="2.7"/><circle cx="1441.8" cy="981.9" r="2.7"/><circle cx="1444.3" cy="982.4" r="2.7"/><circle cx="1446.7" cy="983.5" r="2.7"/><circle cx="1449.1" cy="993.1" r="2.7"/><circle cx="1451.5" cy="994.3" r="2.7"/><circle cx="1453.9" cy="997.9" r="2.7"/><circle cx="1456.3" cy="1002.4" r="2.7"/><circle cx="1458.7" cy="1005.4" r="2.7"/><circle cx="1461.2" cy="1012" r="2.7"/><circle cx="1463.6" cy="1014.7" r="2.7"/><circle cx="1466" cy="1011.2" r="2.7"/><circle cx="1468.4" cy="1017.4" r="2.7"/><circle cx="1470.8" cy="1018.9" r="2.7"/><circle cx="1473.2" cy="1018.9" r="2.7"/><circle cx="1475.7" cy="1020.3" r="2.7"/><circle cx="1478.1" cy="1023.8" r="2.7"/><circle cx="1480.5" cy="1021.1" r="2.7"/><circle cx="1482.9" cy="1022.8" r="2.7"/><circle cx="1485.3" cy="1022.3" r="2.7"/><circle cx="1487.7" cy="1016.9" r="2.7"/><circle cx="1490.1" cy="1023.2" r="2.7"/><circle cx="1492.6" cy="1019.5" r="2.7"/><circle cx="1495" cy="1017.8" r="2.7"/><circle cx="1497.4" cy="1019.2" r="2.7"/><circle cx="1499.8" cy="1020.7" r="2.7"/><circle cx="1502.2" cy="1012.8" r="2.7"/><circle cx="1504.6" cy="1010.4" r="2.7"/><circle cx="1507" cy="1008.9" r="2.7"/><circle cx="1509.5" cy="999.8" r="2.7"/><circle cx="1511.9" cy="995.1" r="2.7"/><circle cx="1514.3" cy="990.1" r="2.7"/><circle cx="1516.7" cy="983.5" r="2.7"/><circle cx="1519.1" cy="975.3" r="2.7"/><circle cx="1521.5" cy="969.5" r="2.7"/><circle cx="1524" cy="964.9" r="2.7"/><circle cx="1526.4" cy="956.8" r="2.7"/><circle cx="1528.8" cy="951.2" r="2.7"/><circle cx="1531.2" cy="944.3" r="2.7"/><circle cx="1533.6" cy="936.5" r="2.7"/><circle cx="1536" cy="931.7" r="2.7"/><circle cx="1538.4" cy="924.6" r="2.7"/><circle cx="1540.9" cy="914.3" r="2.7"/><circle cx="1543.3" cy="918.1" r="2.7"/><circle cx="1545.7" cy="916.9" r="2.7"/><circle cx="1548.1" cy="921.5" r="2.7"/><circle cx="1550.5" cy="933" r="2.7"/><circle cx="1552.9" cy="940.5" r="2.7"/><circle cx="1555.3" cy="947.7" r="2.7"/><circle cx="1557.8" cy="953.8" r="2.7"/><circle cx="1560.2" cy="962.5" r="2.7"/><circle cx="1562.6" cy="962.4" r="2.7"/><circle cx="1565" cy="972" r="2.7"/><circle cx="1567.4" cy="974.3" r="2.7"/><circle cx="1569.8" cy="979.6" r="2.7"/><circle cx="1572.3" cy="982.5" r="2.7"/><circle cx="1574.7" cy="993.6" r="2.7"/><circle cx="1577.1" cy="998.2" r="2.7"/><circle cx="1579.5" cy="999.8" r="2.7"/><circle cx="1581.9" cy="999.4" r="2.7"/><circle cx="1584.3" cy="1002.8" r="2.7"/><circle cx="1586.7" cy="1001.4" r="2.7"/><circle cx="1589.2" cy="1003.7" r="2.7"/><circle cx="1591.6" cy="1007.6" r="2.7"/><circle cx="1594" cy="1008" r="2.7"/><circle cx="1596.4" cy="1006.4" r="2.7"/><circle cx="1598.8" cy="1007.2" r="2.7"/><circle cx="1601.2" cy="1006.3" r="2.7"/><circle cx="1603.6" cy="1008.6" r="2.7"/><circle cx="1606.1" cy="1009.2" r="2.7"/><circle cx="1608.5" cy="1012.5" r="2.7"/><circle cx="1610.9" cy="1012.2" r="2.7"/><circle cx="1613.3" cy="1017.5" r="2.7"/><circle cx="1615.7" cy="1016.7" r="2.7"/><circle cx="1618.1" cy="1019.1" r="2.7"/><circle cx="1620.6" cy="1019.6" r="2.7"/><circle cx="1623" cy="1023.9" r="2.7"/><circle cx="1625.4" cy="1023.3" r="2.7"/><circle cx="1627.8" cy="1020.3" r="2.7"/><circle cx="1630.2" cy="1020.4" r="2.7"/><circle cx="1632.6" cy="1023.7" r="2.7"/><circle cx="1635" cy="1022.8" r="2.7"/><circle cx="1637.5" cy="1022.2" r="2.7"/><circle cx="1639.9" cy="1023.2" r="2.7"/><circle cx="1642.3" cy="1026.2" r="2.7"/><circle cx="1644.7" cy="1022.7" r="2.7"/><circle cx="1647.1" cy="1025.8" r="2.7"/><circle cx="1649.5" cy="1021.9" r="2.7"/><circle cx="1651.9" cy="1022.5" r="2.7"/></g><line x1="1160.9" y1="1364" x2="1640.7" y2="1364" stroke="#1a1a85" stroke-width="1.6"/><path d="M1160.9,1364 L1164.2,1364 L1167.5,1364 L1170.9,1364 L1174.2,1364 L1177.5,1364 L1180.8,1364 L1184.2,1364 L1187.5,1363.9 L1190.8,1363.7 L1194.1,1363.2 L1197.4,1362.1 L1200.8,1359.6 L1204.1,1354.5 L1207.4,1345.3 L1210.7,1329.9 L1214.1,1306.3 L1217.4,1273.9 L1220.7,1233.9 L1224,1190.4 L1227.3,1149.6 L1230.7,1119.4 L1234,1105.9 L1237.3,1112.2 L1240.6,1137 L1243.9,1174.8 L1247.3,1218.2 L1250.6,1260.1 L1253.9,1295.5 L1257.2,1322.3 L1260.6,1340.5 L1263.9,1351.8 L1267.2,1358.1 L1270.5,1361.4 L1273.8,1362.9 L1277.2,1363.6 L1280.5,1363.8 L1283.8,1363.9 L1287.1,1364 L1290.5,1364 L1293.8,1364 L1297.1,1364 L1300.4,1364 L1303.7,1364 L1307.1,1364 L1310.4,1364 L1313.7,1364 L1317,1364 L1320.4,1364 L1323.7,1364 L1327,1364 L1330.3,1364 L1333.6,1364 L1337,1364 L1340.3,1364 L1343.6,1364 L1346.9,1364 L1350.3,1364 L1353.6,1364 L1356.9,1364 L1360.2,1364 Z" fill="url(#g_brown)" stroke="none"/><path d="M1160.9,1364 L1160.9,1364 L1164.6,1364 L1168.3,1364 L1172,1364 L1175.7,1364 L1179.4,1364 L1183.1,1364 L1186.9,1363.9 L1190.6,1363.7 L1194.3,1363.2 L1198,1361.8 L1201.7,1358.5 L1205.4,1351.5 L1209.1,1338.4 L1212.8,1316.2 L1216.5,1283.2 L1220.2,1240.1 L1223.9,1191.6 L1227.6,1146.5 L1231.3,1115.1 L1235,1105.7 L1238.8,1121 L1242.5,1156.7 L1246.2,1203.5 L1249.9,1251.4 L1253.6,1292.3 L1257.3,1322.6 L1261,1342.3 L1264.7,1353.7 L1268.4,1359.5 L1272.1,1362.2 L1275.8,1363.4 L1279.5,1363.8 L1283.2,1363.9 L1286.9,1364 L1290.7,1364 L1294.4,1364 L1298.1,1364 L1301.8,1364 L1305.5,1364 L1309.2,1364 L1312.9,1364 L1316.6,1364 L1320.3,1364 L1324,1364 L1327.7,1364 L1331.4,1364 L1335.1,1364 L1338.8,1364 L1342.6,1364 L1346.3,1364 L1640.7,1364" fill="none" stroke="#3a0a0a" stroke-width="1.9" stroke-dasharray="13,8"/><path d="M1160.9,1364 L1160.9,1364 L1165.9,1364 L1170.8,1364 L1175.8,1364 L1180.8,1364 L1185.7,1364 L1190.7,1364 L1195.7,1364 L1200.6,1364 L1205.6,1364 L1210.6,1363.9 L1215.5,1363.8 L1220.5,1363.4 L1225.4,1362.6 L1230.4,1361 L1235.4,1358.2 L1240.3,1354 L1245.3,1348.4 L1250.3,1342.1 L1255.2,1336.4 L1260.2,1332.5 L1265.2,1331.7 L1270.1,1334.1 L1275.1,1339.1 L1280.1,1345.2 L1285,1351.3 L1290,1356.2 L1295,1359.7 L1299.9,1361.9 L1304.9,1363 L1309.9,1363.6 L1314.8,1363.9 L1319.8,1364 L1324.8,1364 L1329.7,1364 L1334.7,1364 L1339.6,1364 L1344.6,1364 L1349.6,1364 L1354.5,1364 L1359.5,1364 L1364.5,1364 L1369.4,1364 L1374.4,1364 L1379.4,1364 L1384.3,1364 L1389.3,1364 L1394.3,1364 L1399.2,1364 L1404.2,1364 L1409.2,1364 L1640.7,1364" fill="none" stroke="#1a2cff" stroke-width="1.9" stroke-dasharray="13,8"/><path d="M1160.9,1364 L1232.7,1364 L1236,1364 L1239.4,1364 L1242.7,1364 L1246.1,1364 L1249.5,1364 L1252.8,1364 L1256.2,1364 L1259.5,1364 L1262.9,1364 L1266.2,1364 L1269.6,1364 L1273,1364 L1276.3,1364 L1279.7,1364 L1283,1364 L1286.4,1363.9 L1289.8,1363.7 L1293.1,1363.2 L1296.5,1361.9 L1299.8,1359.4 L1303.2,1355.3 L1306.6,1349.6 L1309.9,1343.5 L1313.3,1338.6 L1316.6,1336.8 L1320,1338.6 L1323.4,1343.5 L1326.7,1349.6 L1330.1,1355.3 L1333.4,1359.4 L1336.8,1361.9 L1340.1,1363.2 L1343.5,1363.7 L1346.9,1363.9 L1350.2,1364 L1353.6,1364 L1356.9,1364 L1360.3,1364 L1363.7,1364 L1367,1364 L1370.4,1364 L1373.7,1364 L1377.1,1364 L1380.5,1364 L1383.8,1364 L1387.2,1364 L1390.5,1364 L1393.9,1364 L1397.3,1364 L1400.6,1364 L1640.7,1364" fill="none" stroke="#1a2cff" stroke-width="1.9" stroke-dasharray="13,8"/><path d="M1160.9,1364 L1294.1,1363.7 L1297.4,1363.7 L1300.8,1363.6 L1304.1,1363.6 L1307.4,1363.6 L1310.8,1363.5 L1314.1,1363.5 L1317.4,1363.4 L1320.7,1363.4 L1324.1,1363.3 L1327.4,1363.2 L1330.7,1363.1 L1334,1362.9 L1337.4,1362.7 L1340.7,1362.5 L1344,1362.2 L1347.4,1361.8 L1350.7,1361.2 L1354,1360.3 L1357.3,1358.7 L1360.7,1356.1 L1364,1352.2 L1367.3,1346.6 L1370.7,1339.8 L1374,1333.5 L1377.3,1330.7 L1380.6,1333.5 L1384,1339.8 L1387.3,1346.6 L1390.6,1352.2 L1394,1356.1 L1397.3,1358.7 L1400.6,1360.3 L1403.9,1361.2 L1407.3,1361.8 L1410.6,1362.2 L1413.9,1362.5 L1417.3,1362.7 L1420.6,1362.9 L1423.9,1363.1 L1427.2,1363.2 L1430.6,1363.3 L1433.9,1363.4 L1437.2,1363.4 L1440.6,1363.5 L1443.9,1363.5 L1447.2,1363.6 L1450.5,1363.6 L1453.9,1363.6 L1457.2,1363.7 L1460.5,1363.7 L1640.7,1364" fill="none" stroke="#1a2cff" stroke-width="1.9" stroke-dasharray="13,8"/><path d="M1160.9,1364 L1335,1364 L1337.5,1364 L1340,1364 L1342.5,1364 L1345.1,1364 L1347.6,1364 L1350.1,1364 L1352.6,1364 L1355.2,1364 L1357.7,1364 L1360.2,1364 L1362.8,1364 L1365.3,1364 L1367.8,1364 L1370.3,1364 L1372.9,1364 L1375.4,1363.9 L1377.9,1363.6 L1380.4,1363 L1383,1361.4 L1385.5,1358.3 L1388,1353.3 L1390.6,1346.4 L1393.1,1338.9 L1395.6,1332.9 L1398.1,1330.6 L1400.7,1332.9 L1403.2,1338.9 L1405.7,1346.4 L1408.2,1353.3 L1410.8,1358.3 L1413.3,1361.4 L1415.8,1363 L1418.3,1363.6 L1420.9,1363.9 L1423.4,1364 L1425.9,1364 L1428.5,1364 L1431,1364 L1433.5,1364 L1436,1364 L1438.6,1364 L1441.1,1364 L1443.6,1364 L1446.1,1364 L1448.7,1364 L1451.2,1364 L1453.7,1364 L1456.3,1364 L1458.8,1364 L1461.3,1364 L1640.7,1364" fill="none" stroke="#1a2cff" stroke-width="1.9" stroke-dasharray="13,8"/><path d="M1160.9,1364 L1367.5,1363.4 L1369.4,1363.4 L1371.4,1363.3 L1373.3,1363.3 L1375.3,1363.2 L1377.2,1363.1 L1379.2,1363 L1381.1,1362.9 L1383.1,1362.8 L1385,1362.6 L1387,1362.4 L1388.9,1362.2 L1390.8,1361.9 L1392.8,1361.6 L1394.7,1361.2 L1396.7,1360.6 L1398.6,1359.9 L1400.6,1358.9 L1402.5,1357.5 L1404.5,1355.2 L1406.4,1351.8 L1408.4,1346.7 L1410.3,1339.4 L1412.3,1330.2 L1414.2,1321.1 L1416.2,1316.9 L1418.1,1321.1 L1420.1,1330.2 L1422,1339.4 L1424,1346.7 L1425.9,1351.8 L1427.9,1355.2 L1429.8,1357.5 L1431.7,1358.9 L1433.7,1359.9 L1435.6,1360.6 L1437.6,1361.2 L1439.5,1361.6 L1441.5,1361.9 L1443.4,1362.2 L1445.4,1362.4 L1447.3,1362.6 L1449.3,1362.8 L1451.2,1362.9 L1453.2,1363 L1455.1,1363.1 L1457.1,1363.2 L1459,1363.3 L1461,1363.3 L1462.9,1363.4 L1464.9,1363.4 L1640.7,1364" fill="none" stroke="#1a2cff" stroke-width="1.9" stroke-dasharray="13,8"/><path d="M1160.9,1364 L1326.6,1364 L1331.5,1364 L1336.4,1364 L1341.3,1364 L1346.2,1364 L1351.1,1364 L1356,1364 L1360.9,1364 L1365.8,1364 L1370.7,1364 L1375.6,1364 L1380.6,1364 L1385.5,1364 L1390.4,1364 L1395.3,1364 L1400.2,1363.9 L1405.1,1363.8 L1410,1363.3 L1414.9,1362.1 L1419.8,1359.2 L1424.7,1353.5 L1429.6,1344 L1434.5,1331.2 L1439.4,1317.2 L1444.3,1306.1 L1449.2,1301.8 L1454.1,1306.1 L1459,1317.2 L1463.9,1331.2 L1468.8,1344 L1473.7,1353.5 L1478.6,1359.2 L1483.6,1362.1 L1488.5,1363.3 L1493.4,1363.8 L1498.3,1363.9 L1503.2,1364 L1508.1,1364 L1513,1364 L1517.9,1364 L1522.8,1364 L1527.7,1364 L1532.6,1364 L1537.5,1364 L1542.4,1364 L1547.3,1364 L1552.2,1364 L1557.1,1364 L1562,1364 L1566.9,1364 L1571.8,1364 L1640.7,1364" fill="none" stroke="#1a2cff" stroke-width="1.9" stroke-dasharray="13,8"/><path d="M1390.7,1364 L1394.9,1364 L1399.1,1364 L1403.2,1364 L1407.4,1364 L1411.6,1364 L1415.7,1364 L1419.9,1364 L1424.1,1364 L1428.2,1364 L1432.4,1364 L1436.6,1364 L1440.7,1364 L1444.9,1364 L1449.1,1364 L1453.2,1364 L1457.4,1364 L1461.6,1364 L1465.7,1364 L1469.9,1364 L1474.1,1364 L1478.2,1364 L1482.4,1364 L1486.6,1364 L1490.7,1363.8 L1494.9,1363.6 L1499,1362.9 L1503.2,1361.5 L1507.4,1358.6 L1511.5,1353.3 L1515.7,1344.3 L1519.9,1330.8 L1524,1312.5 L1528.2,1290.4 L1532.4,1267.2 L1536.5,1246.9 L1540.7,1233.5 L1544.9,1230.2 L1549,1237.7 L1553.2,1254.3 L1557.4,1276.3 L1561.5,1299.5 L1565.7,1320.3 L1569.9,1336.7 L1574,1348.4 L1578.2,1355.7 L1582.4,1360 L1586.5,1362.2 L1590.7,1363.3 L1594.9,1363.7 L1599,1363.9 L1603.2,1364 L1607.4,1364 L1611.5,1364 L1615.7,1364 L1619.9,1364 L1624,1364 L1628.2,1364 L1632.3,1364 L1636.5,1364 L1640.7,1364 Z" fill="url(#g_brown)" stroke="none"/><path d="M1160.9,1364 L1407.8,1364 L1412.4,1364 L1417.1,1364 L1421.8,1364 L1426.4,1364 L1431.1,1364 L1435.7,1364 L1440.4,1364 L1445,1364 L1449.7,1364 L1454.4,1364 L1459,1364 L1463.7,1364 L1468.3,1364 L1473,1364 L1477.6,1364 L1482.3,1364 L1487,1363.9 L1491.6,1363.8 L1496.3,1363.4 L1500.9,1362.4 L1505.6,1360.1 L1510.3,1355.2 L1514.9,1346.4 L1519.6,1332 L1524.2,1311.6 L1528.9,1286.6 L1533.5,1261 L1538.2,1240.5 L1542.9,1230.5 L1547.5,1233.8 L1552.2,1249.6 L1556.8,1273.3 L1561.5,1299.2 L1566.2,1322.3 L1570.8,1339.8 L1575.5,1351.3 L1580.1,1358 L1584.8,1361.5 L1589.4,1363 L1594.1,1363.7 L1598.8,1363.9 L1603.4,1364 L1608.1,1364 L1612.7,1364 L1617.4,1364 L1622,1364 L1626.7,1364 L1631.4,1364 L1636,1364 L1640.7,1364 L1640.7,1364" fill="none" stroke="#3a0a0a" stroke-width="1.9" stroke-dasharray="13,8"/><path d="M1160.9,1364 L1385.1,1364 L1390.2,1364 L1395.3,1364 L1400.4,1364 L1405.5,1364 L1410.7,1364 L1415.8,1364 L1420.9,1364 L1426,1364 L1431.1,1364 L1436.2,1364 L1441.3,1364 L1446.4,1364 L1451.5,1364 L1456.7,1364 L1461.8,1364 L1466.9,1364 L1472,1364 L1477.1,1364 L1482.2,1364 L1487.3,1364 L1492.4,1364 L1497.6,1364 L1502.7,1364 L1507.8,1363.9 L1512.9,1363.8 L1518,1363.6 L1523.1,1363.2 L1528.2,1362.4 L1533.3,1361.2 L1538.4,1359.4 L1543.6,1356.8 L1548.7,1353.4 L1553.8,1349.5 L1558.9,1345.3 L1564,1341.3 L1569.1,1338.2 L1574.2,1336.5 L1579.3,1336.4 L1584.5,1338 L1589.6,1341 L1594.7,1344.9 L1599.8,1349.1 L1604.9,1353.1 L1610,1356.5 L1615.1,1359.2 L1620.2,1361.1 L1625.3,1362.3 L1630.5,1363.1 L1635.6,1363.6 L1640.7,1363.8 L1640.7,1363.8" fill="none" stroke="#1a2cff" stroke-width="1.9" stroke-dasharray="13,8"/><path d="M1160.9,1364 L1481.2,1363.9 L1484.4,1363.9 L1487.6,1363.9 L1490.8,1363.9 L1494,1363.9 L1497.1,1363.9 L1500.3,1363.9 L1503.5,1363.9 L1506.7,1363.9 L1509.9,1363.9 L1513.1,1363.9 L1516.3,1363.8 L1519.5,1363.8 L1522.7,1363.8 L1525.8,1363.8 L1529,1363.8 L1532.2,1363.8 L1535.4,1363.7 L1538.6,1363.7 L1541.8,1363.7 L1545,1363.7 L1548.2,1363.6 L1551.4,1363.6 L1554.6,1363.5 L1557.7,1363.5 L1560.9,1363.4 L1564.1,1363.3 L1567.3,1363.1 L1570.5,1362.8 L1573.7,1362.4 L1576.9,1361.7 L1580.1,1360.8 L1583.3,1359.5 L1586.5,1357.8 L1589.6,1355.8 L1592.8,1353.5 L1596,1351 L1599.2,1348.8 L1602.4,1347.2 L1605.6,1346.5 L1608.8,1346.9 L1612,1348.3 L1615.2,1350.4 L1618.4,1352.8 L1621.5,1355.2 L1624.7,1357.3 L1627.9,1359.1 L1631.1,1360.5 L1634.3,1361.5 L1637.5,1362.2 L1640.7,1362.7 L1640.7,1362.7" fill="none" stroke="#1a2cff" stroke-width="1.9" stroke-dasharray="13,8"/><path d="M1156.1,1363.9 L1156.9,1363.9 L1157.7,1363.9 L1158.5,1363.9 L1159.3,1363.9 L1160.1,1363.9 L1160.9,1363.9 L1161.7,1363.9 L1162.5,1363.9 L1163.3,1363.9 L1164.1,1363.9 L1164.9,1363.9 L1165.7,1363.9 L1166.6,1363.9 L1167.4,1363.9 L1168.2,1363.9 L1169,1363.9 L1169.8,1363.9 L1170.6,1363.9 L1171.4,1363.9 L1172.2,1363.9 L1173,1363.9 L1173.8,1363.9 L1174.6,1363.9 L1175.4,1363.9 L1176.2,1363.9 L1177,1363.9 L1177.8,1363.9 L1178.6,1363.9 L1179.5,1363.9 L1180.3,1363.9 L1181.1,1363.9 L1181.9,1363.9 L1182.7,1363.9 L1183.5,1363.9 L1184.3,1363.9 L1185.1,1363.8 L1185.9,1363.8 L1186.7,1363.8 L1187.5,1363.8 L1188.3,1363.8 L1189.1,1363.7 L1189.9,1363.7 L1190.7,1363.6 L1191.5,1363.5 L1192.4,1363.4 L1193.2,1363.3 L1194,1363.1 L1194.8,1363 L1195.6,1362.7 L1196.4,1362.4 L1197.2,1362.1 L1198,1361.7 L1198.8,1361.1 L1199.6,1360.5 L1200.4,1359.8 L1201.2,1358.9 L1202,1357.9 L1202.8,1356.7 L1203.6,1355.2 L1204.4,1353.5 L1205.3,1351.5 L1206.1,1349.1 L1206.9,1346.3 L1207.7,1343 L1208.5,1339.1 L1209.3,1334.5 L1210.1,1329.2 L1210.9,1323.1 L1211.7,1316.3 L1212.5,1308.8 L1213.3,1300.9 L1214.1,1292.5 L1214.9,1284 L1215.7,1275.5 L1216.5,1267.2 L1217.4,1259 L1218.2,1250.9 L1219,1242.9 L1219.8,1234.8 L1220.6,1226.4 L1221.4,1217.8 L1222.2,1208.7 L1223,1199.3 L1223.8,1189.6 L1224.6,1179.8 L1225.4,1169.9 L1226.2,1160.1 L1227,1150.7 L1227.8,1141.6 L1228.6,1133.1 L1229.4,1125.2 L1230.3,1118 L1231.1,1111.6 L1231.9,1106 L1232.7,1101.2 L1233.5,1097.3 L1234.3,1094.3 L1235.1,1092.1 L1235.9,1090.8 L1236.7,1090.5 L1237.5,1091.2 L1238.3,1092.9 L1239.1,1095.6 L1239.9,1099.6 L1240.7,1104.8 L1241.5,1111.2 L1242.3,1118.8 L1243.2,1127.5 L1244,1137.3 L1244.8,1147.9 L1245.6,1159.2 L1246.4,1170.9 L1247.2,1182.9 L1248,1194.8 L1248.8,1206.4 L1249.6,1217.7 L1250.4,1228.4 L1251.2,1238.5 L1252,1247.9 L1252.8,1256.6 L1253.6,1264.6 L1254.4,1271.9 L1255.2,1278.5 L1256.1,1284.5 L1256.9,1289.9 L1257.7,1294.8 L1258.5,1299.2 L1259.3,1303.1 L1260.1,1306.7 L1260.9,1309.9 L1261.7,1312.7 L1262.5,1315.3 L1263.3,1317.6 L1264.1,1319.7 L1264.9,1321.6 L1265.7,1323.3 L1266.5,1324.9 L1267.3,1326.4 L1268.1,1327.8 L1269,1329.1 L1269.8,1330.4 L1270.6,1331.6 L1271.4,1332.8 L1272.2,1333.9 L1273,1335 L1273.8,1336.2 L1274.6,1337.3 L1275.4,1338.4 L1276.2,1339.5 L1277,1340.6 L1277.8,1341.7 L1278.6,1342.8 L1279.4,1343.9 L1280.2,1345 L1281.1,1346 L1281.9,1347.1 L1282.7,1348.1 L1283.5,1349 L1284.3,1350 L1285.1,1350.9 L1285.9,1351.8 L1286.7,1352.6 L1287.5,1353.4 L1288.3,1354.1 L1289.1,1354.8 L1289.9,1355.5 L1290.7,1356 L1291.5,1356.5 L1292.3,1357 L1293.1,1357.3 L1294,1357.6 L1294.8,1357.8 L1295.6,1357.9 L1296.4,1358 L1297.2,1357.9 L1298,1357.7 L1298.8,1357.3 L1299.6,1356.9 L1300.4,1356.3 L1301.2,1355.7 L1302,1354.9 L1302.8,1353.9 L1303.6,1352.9 L1304.4,1351.8 L1305.2,1350.5 L1306,1349.2 L1306.9,1347.8 L1307.7,1346.4 L1308.5,1345 L1309.3,1343.6 L1310.1,1342.2 L1310.9,1340.9 L1311.7,1339.7 L1312.5,1338.7 L1313.3,1337.7 L1314.1,1337 L1314.9,1336.4 L1315.7,1336.1 L1316.5,1335.9 L1317.3,1336 L1318.1,1336.3 L1318.9,1336.8 L1319.8,1337.5 L1320.6,1338.4 L1321.4,1339.5 L1322.2,1340.7 L1323,1342 L1323.8,1343.3 L1324.6,1344.8 L1325.4,1346.2 L1326.2,1347.7 L1327,1349.1 L1327.8,1350.6 L1328.6,1351.9 L1329.4,1353.2 L1330.2,1354.4 L1331,1355.5 L1331.8,1356.4 L1332.7,1357.3 L1333.5,1358.1 L1334.3,1358.8 L1335.1,1359.4 L1335.9,1359.9 L1336.7,1360.4 L1337.5,1360.7 L1338.3,1361 L1339.1,1361.2 L1339.9,1361.4 L1340.7,1361.5 L1341.5,1361.6 L1342.3,1361.7 L1343.1,1361.7 L1343.9,1361.7 L1344.8,1361.7 L1345.6,1361.6 L1346.4,1361.5 L1347.2,1361.5 L1348,1361.4 L1348.8,1361.2 L1349.6,1361.1 L1350.4,1360.9 L1351.2,1360.8 L1352,1360.5 L1352.8,1360.3 L1353.6,1360 L1354.4,1359.8 L1355.2,1359.4 L1356,1359 L1356.8,1358.6 L1357.7,1358.1 L1358.5,1357.6 L1359.3,1356.9 L1360.1,1356.2 L1360.9,1355.5 L1361.7,1354.6 L1362.5,1353.7 L1363.3,1352.6 L1364.1,1351.5 L1364.9,1350.2 L1365.7,1348.9 L1366.5,1347.5 L1367.3,1346 L1368.1,1344.4 L1368.9,1342.7 L1369.7,1341 L1370.6,1339.3 L1371.4,1337.6 L1372.2,1336 L1373,1334.4 L1373.8,1333 L1374.6,1331.7 L1375.4,1330.7 L1376.2,1330 L1377,1329.6 L1377.8,1329.5 L1378.6,1329.7 L1379.4,1330.2 L1380.2,1330.8 L1381,1331.7 L1381.8,1332.6 L1382.6,1333.5 L1383.5,1334.4 L1384.3,1335.1 L1385.1,1335.7 L1385.9,1336 L1386.7,1336 L1387.5,1335.8 L1388.3,1335.3 L1389.1,1334.5 L1389.9,1333.4 L1390.7,1332.1 L1391.5,1330.7 L1392.3,1329.1 L1393.1,1327.5 L1393.9,1326 L1394.7,1324.7 L1395.5,1323.5 L1396.4,1322.6 L1397.2,1322.1 L1398,1321.9 L1398.8,1322.1 L1399.6,1322.7 L1400.4,1323.6 L1401.2,1324.8 L1402,1326.3 L1402.8,1327.8 L1403.6,1329.4 L1404.4,1330.9 L1405.2,1332.3 L1406,1333.3 L1406.8,1334 L1407.6,1334.1 L1408.5,1333.7 L1409.3,1332.8 L1410.1,1331.1 L1410.9,1328.9 L1411.7,1326.1 L1412.5,1323 L1413.3,1319.6 L1414.1,1316.5 L1414.9,1313.9 L1415.7,1312.5 L1416.5,1312.3 L1417.3,1313.5 L1418.1,1315.9 L1418.9,1319 L1419.7,1322.5 L1420.5,1325.9 L1421.4,1329 L1422.2,1331.8 L1423,1334.1 L1423.8,1335.9 L1424.6,1337.2 L1425.4,1338.1 L1426.2,1338.5 L1427,1338.6 L1427.8,1338.3 L1428.6,1337.6 L1429.4,1336.7 L1430.2,1335.6 L1431,1334.3 L1431.8,1332.7 L1432.6,1331.1 L1433.4,1329.3 L1434.3,1327.4 L1435.1,1325.4 L1435.9,1323.3 L1436.7,1321.2 L1437.5,1319.2 L1438.3,1317.1 L1439.1,1315 L1439.9,1313 L1440.7,1311.1 L1441.5,1309.2 L1442.3,1307.5 L1443.1,1305.9 L1443.9,1304.5 L1444.7,1303.3 L1445.5,1302.2 L1446.3,1301.4 L1447.2,1300.7 L1448,1300.3 L1448.8,1300.1 L1449.6,1300.2 L1450.4,1300.5 L1451.2,1301 L1452,1301.7 L1452.8,1302.7 L1453.6,1303.9 L1454.4,1305.3 L1455.2,1306.8 L1456,1308.5 L1456.8,1310.4 L1457.6,1312.4 L1458.4,1314.5 L1459.2,1316.7 L1460.1,1319 L1460.9,1321.3 L1461.7,1323.6 L1462.5,1326 L1463.3,1328.3 L1464.1,1330.7 L1464.9,1333 L1465.7,1335.2 L1466.5,1337.4 L1467.3,1339.5 L1468.1,1341.5 L1468.9,1343.4 L1469.7,1345.2 L1470.5,1347 L1471.3,1348.6 L1472.1,1350.1 L1473,1351.5 L1473.8,1352.8 L1474.6,1354 L1475.4,1355.1 L1476.2,1356 L1477,1356.9 L1477.8,1357.8 L1478.6,1358.5 L1479.4,1359.1 L1480.2,1359.7 L1481,1360.2 L1481.8,1360.7 L1482.6,1361.1 L1483.4,1361.4 L1484.2,1361.7 L1485.1,1362 L1485.9,1362.2 L1486.7,1362.4 L1487.5,1362.6 L1488.3,1362.7 L1489.1,1362.8 L1489.9,1362.9 L1490.7,1362.9 L1491.5,1363 L1492.3,1363 L1493.1,1363 L1493.9,1363 L1494.7,1363 L1495.5,1362.9 L1496.3,1362.8 L1497.1,1362.7 L1498,1362.6 L1498.8,1362.5 L1499.6,1362.3 L1500.4,1362.1 L1501.2,1361.8 L1502,1361.6 L1502.8,1361.2 L1503.6,1360.8 L1504.4,1360.4 L1505.2,1359.9 L1506,1359.3 L1506.8,1358.6 L1507.6,1357.9 L1508.4,1357 L1509.2,1356.1 L1510,1355 L1510.9,1353.8 L1511.7,1352.5 L1512.5,1351 L1513.3,1349.4 L1514.1,1347.7 L1514.9,1345.8 L1515.7,1343.7 L1516.5,1341.4 L1517.3,1338.9 L1518.1,1336.3 L1518.9,1333.5 L1519.7,1330.5 L1520.5,1327.2 L1521.3,1323.9 L1522.1,1320.3 L1522.9,1316.5 L1523.8,1312.6 L1524.6,1308.5 L1525.4,1304.3 L1526.2,1299.9 L1527,1295.4 L1527.8,1290.8 L1528.6,1286.2 L1529.4,1281.5 L1530.2,1276.8 L1531,1272.1 L1531.8,1267.5 L1532.6,1262.9 L1533.4,1258.4 L1534.2,1254 L1535,1249.8 L1535.8,1245.8 L1536.7,1242 L1537.5,1238.5 L1538.3,1235.3 L1539.1,1232.3 L1539.9,1229.7 L1540.7,1227.4 L1541.5,1225.5 L1542.3,1224 L1543.1,1222.8 L1543.9,1222.1 L1544.7,1221.7 L1545.5,1221.8 L1546.3,1222.2 L1547.1,1223 L1547.9,1224.2 L1548.8,1225.7 L1549.6,1227.6 L1550.4,1229.8 L1551.2,1232.3 L1552,1235 L1552.8,1238 L1553.6,1241.2 L1554.4,1244.6 L1555.2,1248.2 L1556,1251.8 L1556.8,1255.6 L1557.6,1259.4 L1558.4,1263.2 L1559.2,1267.1 L1560,1270.9 L1560.8,1274.7 L1561.7,1278.4 L1562.5,1282 L1563.3,1285.6 L1564.1,1289 L1564.9,1292.3 L1565.7,1295.4 L1566.5,1298.4 L1567.3,1301.3 L1568.1,1304 L1568.9,1306.5 L1569.7,1308.9 L1570.5,1311.1 L1571.3,1313.2 L1572.1,1315.1 L1572.9,1316.9 L1573.7,1318.5 L1574.6,1320 L1575.4,1321.4 L1576.2,1322.6 L1577,1323.7 L1577.8,1324.8 L1578.6,1325.7 L1579.4,1326.5 L1580.2,1327.3 L1581,1327.9 L1581.8,1328.5 L1582.6,1329.1 L1583.4,1329.6 L1584.2,1330 L1585,1330.4 L1585.8,1330.7 L1586.6,1331 L1587.5,1331.3 L1588.3,1331.5 L1589.1,1331.7 L1589.9,1331.9 L1590.7,1332 L1591.5,1332.2 L1592.3,1332.3 L1593.1,1332.4 L1593.9,1332.5 L1594.7,1332.6 L1595.5,1332.7 L1596.3,1332.8 L1597.1,1332.9 L1597.9,1333.1 L1598.7,1333.2 L1599.5,1333.4 L1600.4,1333.6 L1601.2,1333.8 L1602,1334.1 L1602.8,1334.5 L1603.6,1334.8 L1604.4,1335.3 L1605.2,1335.8 L1606,1336.3 L1606.8,1336.9 L1607.6,1337.6 L1608.4,1338.3 L1609.2,1339 L1610,1339.8 L1610.8,1340.7 L1611.6,1341.5 L1612.5,1342.4 L1613.3,1343.4 L1614.1,1344.3 L1614.9,1345.2 L1615.7,1346.2 L1616.5,1347.1 L1617.3,1348 L1618.1,1348.9 L1618.9,1349.8 L1619.7,1350.7 L1620.5,1351.5 L1621.3,1352.4 L1622.1,1353.2 L1622.9,1353.9 L1623.7,1354.6 L1624.5,1355.3 L1625.4,1356 L1626.2,1356.6 L1627,1357.2 L1627.8,1357.7 L1628.6,1358.2 L1629.4,1358.7 L1630.2,1359.1 L1631,1359.5 L1631.8,1359.9 L1632.6,1360.3 L1633.4,1360.6 L1634.2,1360.9 L1635,1361.1 L1635.8,1361.4 L1636.6,1361.6 L1637.4,1361.8 L1638.3,1362 L1639.1,1362.1 L1639.9,1362.3 L1640.7,1362.4 L1641.5,1362.5 L1642.3,1362.6 L1643.1,1362.7 L1643.9,1362.8 L1644.7,1362.9 L1645.5,1363" fill="none" stroke="#000" stroke-width="3" stroke-linejoin="round"/><g fill="#fff" stroke="#000" stroke-width="1.4"><circle cx="1156.1" cy="1363.4" r="2.7"/><circle cx="1158.5" cy="1364.9" r="2.7"/><circle cx="1160.9" cy="1363.5" r="2.7"/><circle cx="1163.3" cy="1363.3" r="2.7"/><circle cx="1165.7" cy="1362.1" r="2.7"/><circle cx="1168.1" cy="1363.5" r="2.7"/><circle cx="1170.6" cy="1366.1" r="2.7"/><circle cx="1173" cy="1364.8" r="2.7"/><circle cx="1175.4" cy="1366" r="2.7"/><circle cx="1177.8" cy="1364.4" r="2.7"/><circle cx="1180.2" cy="1364.7" r="2.7"/><circle cx="1182.6" cy="1364.2" r="2.7"/><circle cx="1185" cy="1360.5" r="2.7"/><circle cx="1187.5" cy="1365.5" r="2.7"/><circle cx="1189.9" cy="1364.7" r="2.7"/><circle cx="1192.3" cy="1364.4" r="2.7"/><circle cx="1194.7" cy="1359.6" r="2.7"/><circle cx="1197.1" cy="1358.6" r="2.7"/><circle cx="1199.5" cy="1358.8" r="2.7"/><circle cx="1202" cy="1357.1" r="2.7"/><circle cx="1204.4" cy="1354.3" r="2.7"/><circle cx="1206.8" cy="1346.5" r="2.7"/><circle cx="1209.2" cy="1336.1" r="2.7"/><circle cx="1211.6" cy="1315.8" r="2.7"/><circle cx="1214" cy="1294.1" r="2.7"/><circle cx="1216.4" cy="1269" r="2.7"/><circle cx="1218.9" cy="1242.6" r="2.7"/><circle cx="1221.3" cy="1222.4" r="2.7"/><circle cx="1223.7" cy="1192.1" r="2.7"/><circle cx="1226.1" cy="1163.9" r="2.7"/><circle cx="1228.5" cy="1133" r="2.7"/><circle cx="1230.9" cy="1111" r="2.7"/><circle cx="1233.3" cy="1097.2" r="2.7"/><circle cx="1235.8" cy="1090.8" r="2.7"/><circle cx="1238.2" cy="1093.8" r="2.7"/><circle cx="1240.6" cy="1104.3" r="2.7"/><circle cx="1243" cy="1125" r="2.7"/><circle cx="1245.4" cy="1155.2" r="2.7"/><circle cx="1247.8" cy="1191.5" r="2.7"/><circle cx="1250.3" cy="1228.8" r="2.7"/><circle cx="1252.7" cy="1253.3" r="2.7"/><circle cx="1255.1" cy="1277.7" r="2.7"/><circle cx="1257.5" cy="1294.7" r="2.7"/><circle cx="1259.9" cy="1303" r="2.7"/><circle cx="1262.3" cy="1314.9" r="2.7"/><circle cx="1264.7" cy="1323.8" r="2.7"/><circle cx="1267.2" cy="1322" r="2.7"/><circle cx="1269.6" cy="1329.4" r="2.7"/><circle cx="1272" cy="1333.4" r="2.7"/><circle cx="1274.4" cy="1335.4" r="2.7"/><circle cx="1276.8" cy="1341.4" r="2.7"/><circle cx="1279.2" cy="1343.5" r="2.7"/><circle cx="1281.6" cy="1343.9" r="2.7"/><circle cx="1284.1" cy="1351.4" r="2.7"/><circle cx="1286.5" cy="1353.7" r="2.7"/><circle cx="1288.9" cy="1356.5" r="2.7"/><circle cx="1291.3" cy="1359.3" r="2.7"/><circle cx="1293.7" cy="1358.3" r="2.7"/><circle cx="1296.1" cy="1358.2" r="2.7"/><circle cx="1298.6" cy="1354.8" r="2.7"/><circle cx="1301" cy="1357.1" r="2.7"/><circle cx="1303.4" cy="1352" r="2.7"/><circle cx="1305.8" cy="1348.7" r="2.7"/><circle cx="1308.2" cy="1342.9" r="2.7"/><circle cx="1310.6" cy="1339.4" r="2.7"/><circle cx="1313" cy="1337" r="2.7"/><circle cx="1315.5" cy="1338.8" r="2.7"/><circle cx="1317.9" cy="1332.1" r="2.7"/><circle cx="1320.3" cy="1335.2" r="2.7"/><circle cx="1322.7" cy="1342" r="2.7"/><circle cx="1325.1" cy="1348.6" r="2.7"/><circle cx="1327.5" cy="1351.2" r="2.7"/><circle cx="1329.9" cy="1350.1" r="2.7"/><circle cx="1332.4" cy="1352" r="2.7"/><circle cx="1334.8" cy="1359.9" r="2.7"/><circle cx="1337.2" cy="1359.1" r="2.7"/><circle cx="1339.6" cy="1359.1" r="2.7"/><circle cx="1342" cy="1363.6" r="2.7"/><circle cx="1344.4" cy="1363.9" r="2.7"/><circle cx="1346.9" cy="1361.8" r="2.7"/><circle cx="1349.3" cy="1361.6" r="2.7"/><circle cx="1351.7" cy="1361.5" r="2.7"/><circle cx="1354.1" cy="1363.1" r="2.7"/><circle cx="1356.5" cy="1360" r="2.7"/><circle cx="1358.9" cy="1358.2" r="2.7"/><circle cx="1361.3" cy="1356.1" r="2.7"/><circle cx="1363.8" cy="1348.8" r="2.7"/><circle cx="1366.2" cy="1350.7" r="2.7"/><circle cx="1368.6" cy="1345.4" r="2.7"/><circle cx="1371" cy="1339.4" r="2.7"/><circle cx="1373.4" cy="1329.6" r="2.7"/><circle cx="1375.8" cy="1329" r="2.7"/><circle cx="1378.2" cy="1331.2" r="2.7"/><circle cx="1380.7" cy="1327.7" r="2.7"/><circle cx="1383.1" cy="1333.6" r="2.7"/><circle cx="1385.5" cy="1337.9" r="2.7"/><circle cx="1387.9" cy="1332.9" r="2.7"/><circle cx="1390.3" cy="1336" r="2.7"/><circle cx="1392.7" cy="1329.4" r="2.7"/><circle cx="1395.2" cy="1323.7" r="2.7"/><circle cx="1397.6" cy="1322.6" r="2.7"/><circle cx="1400" cy="1324.4" r="2.7"/><circle cx="1402.4" cy="1327.3" r="2.7"/><circle cx="1404.8" cy="1333.9" r="2.7"/><circle cx="1407.2" cy="1332.8" r="2.7"/><circle cx="1409.6" cy="1331.2" r="2.7"/><circle cx="1412.1" cy="1326.8" r="2.7"/><circle cx="1414.5" cy="1315.2" r="2.7"/><circle cx="1416.9" cy="1311" r="2.7"/><circle cx="1419.3" cy="1322.5" r="2.7"/><circle cx="1421.7" cy="1333.3" r="2.7"/><circle cx="1424.1" cy="1335.7" r="2.7"/><circle cx="1426.5" cy="1335.8" r="2.7"/><circle cx="1429" cy="1337" r="2.7"/><circle cx="1431.4" cy="1333.3" r="2.7"/><circle cx="1433.8" cy="1327.9" r="2.7"/><circle cx="1436.2" cy="1325.3" r="2.7"/><circle cx="1438.6" cy="1314.1" r="2.7"/><circle cx="1441" cy="1312.8" r="2.7"/><circle cx="1443.5" cy="1302.8" r="2.7"/><circle cx="1445.9" cy="1300.3" r="2.7"/><circle cx="1448.3" cy="1301.5" r="2.7"/><circle cx="1450.7" cy="1302.9" r="2.7"/><circle cx="1453.1" cy="1304.9" r="2.7"/><circle cx="1455.5" cy="1308.1" r="2.7"/><circle cx="1457.9" cy="1313.5" r="2.7"/><circle cx="1460.4" cy="1320.1" r="2.7"/><circle cx="1462.8" cy="1328" r="2.7"/><circle cx="1465.2" cy="1333.5" r="2.7"/><circle cx="1467.6" cy="1340.8" r="2.7"/><circle cx="1470" cy="1347" r="2.7"/><circle cx="1472.4" cy="1350.6" r="2.7"/><circle cx="1474.8" cy="1355.9" r="2.7"/><circle cx="1477.3" cy="1358.4" r="2.7"/><circle cx="1479.7" cy="1363.4" r="2.7"/><circle cx="1482.1" cy="1361.5" r="2.7"/><circle cx="1484.5" cy="1361" r="2.7"/><circle cx="1486.9" cy="1361.7" r="2.7"/><circle cx="1489.3" cy="1362.8" r="2.7"/><circle cx="1491.8" cy="1364.8" r="2.7"/><circle cx="1494.2" cy="1362.3" r="2.7"/><circle cx="1496.6" cy="1363.6" r="2.7"/><circle cx="1499" cy="1366.1" r="2.7"/><circle cx="1501.4" cy="1356.6" r="2.7"/><circle cx="1503.8" cy="1358.4" r="2.7"/><circle cx="1506.2" cy="1359.6" r="2.7"/><circle cx="1508.7" cy="1357.5" r="2.7"/><circle cx="1511.1" cy="1353.9" r="2.7"/><circle cx="1513.5" cy="1348.1" r="2.7"/><circle cx="1515.9" cy="1344.4" r="2.7"/><circle cx="1518.3" cy="1336.2" r="2.7"/><circle cx="1520.7" cy="1325.4" r="2.7"/><circle cx="1523.1" cy="1320.4" r="2.7"/><circle cx="1525.6" cy="1303.9" r="2.7"/><circle cx="1528" cy="1288.6" r="2.7"/><circle cx="1530.4" cy="1275.5" r="2.7"/><circle cx="1532.8" cy="1261.4" r="2.7"/><circle cx="1535.2" cy="1248.8" r="2.7"/><circle cx="1537.6" cy="1232.3" r="2.7"/><circle cx="1540.1" cy="1228.2" r="2.7"/><circle cx="1542.5" cy="1225.7" r="2.7"/><circle cx="1544.9" cy="1219.4" r="2.7"/><circle cx="1547.3" cy="1223.1" r="2.7"/><circle cx="1549.7" cy="1229.9" r="2.7"/><circle cx="1552.1" cy="1237.3" r="2.7"/><circle cx="1554.5" cy="1248.3" r="2.7"/><circle cx="1557" cy="1252.8" r="2.7"/><circle cx="1559.4" cy="1267" r="2.7"/><circle cx="1561.8" cy="1278.3" r="2.7"/><circle cx="1564.2" cy="1290.8" r="2.7"/><circle cx="1566.6" cy="1301.1" r="2.7"/><circle cx="1569" cy="1301.5" r="2.7"/><circle cx="1571.4" cy="1315.7" r="2.7"/><circle cx="1573.9" cy="1315.8" r="2.7"/><circle cx="1576.3" cy="1324.1" r="2.7"/><circle cx="1578.7" cy="1322.8" r="2.7"/><circle cx="1581.1" cy="1328.4" r="2.7"/><circle cx="1583.5" cy="1332" r="2.7"/><circle cx="1585.9" cy="1330.4" r="2.7"/><circle cx="1588.4" cy="1331.9" r="2.7"/><circle cx="1590.8" cy="1333.6" r="2.7"/><circle cx="1593.2" cy="1332.7" r="2.7"/><circle cx="1595.6" cy="1332.5" r="2.7"/><circle cx="1598" cy="1336.1" r="2.7"/><circle cx="1600.4" cy="1335.7" r="2.7"/><circle cx="1602.8" cy="1333.9" r="2.7"/><circle cx="1605.3" cy="1341.3" r="2.7"/><circle cx="1607.7" cy="1335.3" r="2.7"/><circle cx="1610.1" cy="1341.7" r="2.7"/><circle cx="1612.5" cy="1342" r="2.7"/><circle cx="1614.9" cy="1345.5" r="2.7"/><circle cx="1617.3" cy="1349.5" r="2.7"/><circle cx="1619.7" cy="1351.2" r="2.7"/><circle cx="1622.2" cy="1354.5" r="2.7"/><circle cx="1624.6" cy="1352.3" r="2.7"/><circle cx="1627" cy="1354.2" r="2.7"/><circle cx="1629.4" cy="1359.9" r="2.7"/><circle cx="1631.8" cy="1358" r="2.7"/><circle cx="1634.2" cy="1358.8" r="2.7"/><circle cx="1636.7" cy="1358.7" r="2.7"/><circle cx="1639.1" cy="1364.7" r="2.7"/><circle cx="1641.5" cy="1364" r="2.7"/><circle cx="1643.9" cy="1365.8" r="2.7"/></g><text x="291" y="397" text-anchor="middle" class="t"><tspan>(</tspan><tspan font-style="italic">a</tspan><tspan>)</tspan></text><text x="876" y="396" text-anchor="middle" class="t"><tspan>(</tspan><tspan font-style="italic">b</tspan><tspan>)</tspan></text><text x="1395" y="24" text-anchor="middle" class="t"><tspan>(</tspan><tspan font-style="italic">c</tspan><tspan>)</tspan></text><text transform="translate(25.8,656) rotate(-90)" class="t" style="font-size:33.3px">Intensity, arb. u.</text><text x="104" y="734" class="t">Cu2p<tspan font-size="23" dy="3">3</tspan><tspan font-size="23" dy="3">/</tspan><tspan font-size="23" dy="3">2</tspan></text><text x="415" y="852" class="t">Cu2p<tspan font-size="23" dy="3">1</tspan><tspan font-size="23" dy="3">/</tspan><tspan font-size="23" dy="3">2</tspan></text><text x="625" y="787" class="t">Cu2p<tspan font-size="23" dy="3">3</tspan><tspan font-size="23" dy="3">/</tspan><tspan font-size="23" dy="3">2</tspan></text><text x="967" y="900" class="t">Cu2p<tspan font-size="23" dy="3">1</tspan><tspan font-size="23" dy="3">/</tspan><tspan font-size="23" dy="3">2</tspan></text><text x="1172" y="431" class="t">Cu2p<tspan font-size="23" dy="3">3</tspan><tspan font-size="23" dy="3">/</tspan><tspan font-size="23" dy="3">2</tspan></text><text x="1512" y="571" class="t">Cu2p<tspan font-size="23" dy="3">1</tspan><tspan font-size="23" dy="3">/</tspan><tspan font-size="23" dy="3">2</tspan></text><text x="559.5" y="961" text-anchor="end" class="t">50 °C</text><text x="559.5" y="1287" text-anchor="end" class="t">200 °C</text><text x="1107.5" y="960" text-anchor="end" class="t">50 °C</text><text x="1109" y="1273" text-anchor="end" class="t">400 °C</text><text x="1655" y="621" text-anchor="end" class="t">50 °C</text><text x="1656.5" y="953.5" text-anchor="end" class="t">160 °C</text><text x="1656" y="1270" text-anchor="end" class="t">360 °C</text><path d="M206.1,582.9 L300.7,499.4 L393.4,500.2 L390.9,665.2 L298,663.8 Z" fill="#dde1f1" fill-opacity="1.0" stroke="none" stroke-width="1.0" stroke-linejoin="round"/><path d="M206.1,582.9 L300.7,499.4 L393.4,500.2 Z" fill="#b9bfd9" fill-opacity="0.85" stroke="none" stroke-width="1.0" stroke-linejoin="round"/><path d="M206.1,582.9 L298,663.8 L390.9,665.2 Z" fill="#b9bfd9" fill-opacity="0.85" stroke="none" stroke-width="1.0" stroke-linejoin="round"/><line x1="206.1" y1="582.9" x2="300.7" y2="499.4" stroke="#222" stroke-width="1.1"/><line x1="300.7" y1="499.4" x2="393.4" y2="500.2" stroke="#222" stroke-width="1.1"/><line x1="393.4" y1="500.2" x2="390.9" y2="665.2" stroke="#222" stroke-width="1.1"/><line x1="390.9" y1="665.2" x2="298" y2="663.8" stroke="#222" stroke-width="1.1"/><line x1="298" y1="663.8" x2="206.1" y2="582.9" stroke="#222" stroke-width="1.1"/><line x1="206.1" y1="582.9" x2="393.4" y2="500.2" stroke="#222" stroke-width="1.1"/><line x1="206.1" y1="582.9" x2="390.9" y2="665.2" stroke="#222" stroke-width="1.1"/><line x1="300.7" y1="499.4" x2="298" y2="663.8" stroke="#222" stroke-width="1.1"/><line x1="338.3" y1="580.2" x2="317.6" y2="535.8" stroke="#3a58cc" stroke-width="4.2"/><line x1="317.6" y1="535.8" x2="300.7" y2="499.4" stroke="#ee1616" stroke-width="4.2"/><line x1="338.3" y1="580.2" x2="368.6" y2="536.2" stroke="#3a58cc" stroke-width="4.2"/><line x1="368.6" y1="536.2" x2="393.4" y2="500.2" stroke="#ee1616" stroke-width="4.2"/><line x1="338.3" y1="580.2" x2="265.6" y2="581.7" stroke="#3a58cc" stroke-width="4.2"/><line x1="265.6" y1="581.7" x2="206.1" y2="582.9" stroke="#ee1616" stroke-width="4.2"/><line x1="338.3" y1="580.2" x2="316.1" y2="626.2" stroke="#3a58cc" stroke-width="4.2"/><line x1="316.1" y1="626.2" x2="298" y2="663.8" stroke="#ee1616" stroke-width="4.2"/><line x1="338.3" y1="580.2" x2="367.2" y2="627" stroke="#3a58cc" stroke-width="4.2"/><line x1="367.2" y1="627" x2="390.9" y2="665.2" stroke="#ee1616" stroke-width="4.2"/><line x1="300.7" y1="499.4" x2="298.6" y2="465.1" stroke="#ee1616" stroke-width="3.6"/><line x1="298.6" y1="465.1" x2="296.5" y2="430.9" stroke="#c8c8c8" stroke-width="3.6"/><line x1="393.4" y1="500.2" x2="391.6" y2="466" stroke="#ee1616" stroke-width="3.6"/><line x1="391.6" y1="466" x2="389.9" y2="431.9" stroke="#c8c8c8" stroke-width="3.6"/><line x1="206.1" y1="582.9" x2="209.9" y2="617.6" stroke="#ee1616" stroke-width="3.6"/><line x1="209.9" y1="617.6" x2="213.8" y2="652.3" stroke="#c8c8c8" stroke-width="3.6"/><line x1="298" y1="663.8" x2="276.4" y2="684.1" stroke="#ee1616" stroke-width="3.6"/><line x1="276.4" y1="684.1" x2="254.8" y2="704.5" stroke="#c8c8c8" stroke-width="3.6"/><line x1="390.9" y1="665.2" x2="369.5" y2="685.7" stroke="#ee1616" stroke-width="3.6"/><line x1="369.5" y1="685.7" x2="348.1" y2="706.2" stroke="#c8c8c8" stroke-width="3.6"/><circle cx="296.5" cy="430.9" r="4.6" fill="url(#s_H)"/><circle cx="389.9" cy="431.9" r="4.6" fill="url(#s_H)"/><circle cx="213.8" cy="652.3" r="4.6" fill="url(#s_H)"/><circle cx="254.8" cy="704.5" r="4.6" fill="url(#s_H)"/><circle cx="348.1" cy="706.2" r="4.6" fill="url(#s_H)"/><circle cx="300.7" cy="499.4" r="13.7" fill="url(#s_O)"/><circle cx="393.4" cy="500.2" r="13.7" fill="url(#s_O)"/><circle cx="206.1" cy="582.9" r="13.7" fill="url(#s_O)"/><circle cx="298" cy="663.8" r="13.7" fill="url(#s_O)"/><circle cx="390.9" cy="665.2" r="13.7" fill="url(#s_O)"/><circle cx="338.3" cy="580.2" r="22.4" fill="url(#s_CuB)"/><path d="M209.1,1064 L364.5,1083.7 L369.9,1247 L214.1,1227.6 Z" fill="#dde2f4" fill-opacity="1.0" stroke="#333" stroke-width="1.3" stroke-linejoin="round"/><line x1="289.8" y1="1155.5" x2="249.5" y2="1109.8" stroke="#a81c22" stroke-width="6.0"/><line x1="249.5" y1="1109.8" x2="209.1" y2="1064" stroke="#ee1616" stroke-width="6.0"/><line x1="289.8" y1="1155.5" x2="327.1" y2="1119.6" stroke="#a81c22" stroke-width="6.0"/><line x1="327.1" y1="1119.6" x2="364.5" y2="1083.7" stroke="#ee1616" stroke-width="6.0"/><line x1="289.8" y1="1155.5" x2="252" y2="1191.5" stroke="#a81c22" stroke-width="6.0"/><line x1="252" y1="1191.5" x2="214.1" y2="1227.6" stroke="#ee1616" stroke-width="6.0"/><line x1="289.8" y1="1155.5" x2="329.9" y2="1201.2" stroke="#a81c22" stroke-width="6.0"/><line x1="329.9" y1="1201.2" x2="369.9" y2="1247" stroke="#ee1616" stroke-width="6.0"/><circle cx="209.1" cy="1064" r="13.7" fill="url(#s_O)"/><circle cx="364.5" cy="1083.7" r="13.7" fill="url(#s_O)"/><circle cx="214.1" cy="1227.6" r="13.7" fill="url(#s_O)"/><circle cx="369.9" cy="1247" r="13.7" fill="url(#s_O)"/><circle cx="289.8" cy="1155.5" r="22.4" fill="url(#s_CuR)"/><path d="M763.5,1075.9 L918.9,1095.6 L924.3,1258.9 L768.5,1239.5 Z" fill="#dde2f4" fill-opacity="1.0" stroke="#333" stroke-width="1.3" stroke-linejoin="round"/><line x1="844.2" y1="1167.4" x2="803.9" y2="1121.7" stroke="#a81c22" stroke-width="6.0"/><line x1="803.9" y1="1121.7" x2="763.5" y2="1075.9" stroke="#ee1616" stroke-width="6.0"/><line x1="844.2" y1="1167.4" x2="881.6" y2="1131.5" stroke="#a81c22" stroke-width="6.0"/><line x1="881.6" y1="1131.5" x2="918.9" y2="1095.6" stroke="#ee1616" stroke-width="6.0"/><line x1="844.2" y1="1167.4" x2="806.4" y2="1203.5" stroke="#a81c22" stroke-width="6.0"/><line x1="806.4" y1="1203.5" x2="768.5" y2="1239.5" stroke="#ee1616" stroke-width="6.0"/><line x1="844.2" y1="1167.4" x2="884.2" y2="1213.2" stroke="#a81c22" stroke-width="6.0"/><line x1="884.2" y1="1213.2" x2="924.3" y2="1258.9" stroke="#ee1616" stroke-width="6.0"/><circle cx="763.5" cy="1075.9" r="13.7" fill="url(#s_O)"/><circle cx="918.9" cy="1095.6" r="13.7" fill="url(#s_O)"/><circle cx="768.5" cy="1239.5" r="13.7" fill="url(#s_O)"/><circle cx="924.3" cy="1258.9" r="13.7" fill="url(#s_O)"/><circle cx="844.2" cy="1167.4" r="22.4" fill="url(#s_CuR)"/><path d="M1334.4,1059.4 L1489.8,1079.1 L1495.2,1242.4 L1339.4,1223 Z" fill="#dde2f4" fill-opacity="1.0" stroke="#333" stroke-width="1.3" stroke-linejoin="round"/><line x1="1415.1" y1="1150.9" x2="1374.8" y2="1105.2" stroke="#a81c22" stroke-width="6.0"/><line x1="1374.8" y1="1105.2" x2="1334.4" y2="1059.4" stroke="#ee1616" stroke-width="6.0"/><line x1="1415.1" y1="1150.9" x2="1452.4" y2="1115" stroke="#a81c22" stroke-width="6.0"/><line x1="1452.4" y1="1115" x2="1489.8" y2="1079.1" stroke="#ee1616" stroke-width="6.0"/><line x1="1415.1" y1="1150.9" x2="1377.2" y2="1187" stroke="#a81c22" stroke-width="6.0"/><line x1="1377.2" y1="1187" x2="1339.4" y2="1223" stroke="#ee1616" stroke-width="6.0"/><line x1="1415.1" y1="1150.9" x2="1455.1" y2="1196.7" stroke="#a81c22" stroke-width="6.0"/><line x1="1455.1" y1="1196.7" x2="1495.2" y2="1242.4" stroke="#ee1616" stroke-width="6.0"/><circle cx="1334.4" cy="1059.4" r="13.7" fill="url(#s_O)"/><circle cx="1489.8" cy="1079.1" r="13.7" fill="url(#s_O)"/><circle cx="1339.4" cy="1223" r="13.7" fill="url(#s_O)"/><circle cx="1495.2" cy="1242.4" r="13.7" fill="url(#s_O)"/><circle cx="1415.1" cy="1150.9" r="22.4" fill="url(#s_CuR)"/><line x1="701.9" y1="683.7" x2="751.1" y2="764.8" stroke="#888" stroke-width="2" stroke-dasharray="6,5"/><path d="M729.4,540.3 L694.6,671.5 L816.3,643.7 Z" fill="#c6c6c6" fill-opacity="1.0" stroke="none" stroke-width="1.0" stroke-linejoin="round"/><path d="M729.4,540.3 L745.3,619.4 L816.3,643.7 Z" fill="#e2e2e2" fill-opacity="0.95" stroke="none" stroke-width="1.0" stroke-linejoin="round"/><path d="M694.6,671.5 L745.3,619.4 L816.3,643.7 Z" fill="#d4d4d4" fill-opacity="0.95" stroke="none" stroke-width="1.0" stroke-linejoin="round"/><line x1="729.4" y1="540.3" x2="694.6" y2="671.5" stroke="#333" stroke-width="1.0"/><line x1="694.6" y1="671.5" x2="816.3" y2="643.7" stroke="#333" stroke-width="1.0"/><line x1="729.4" y1="540.3" x2="816.3" y2="643.7" stroke="#333" stroke-width="1.0"/><path d="M816.3,643.7 L967,659.1 L964.1,820.5 L788.2,813.5 Z" fill="#dbe2f8" fill-opacity="1.0" stroke="#333" stroke-width="1.1" stroke-linejoin="round"/><path d="M865.6,482.3 L1035.7,511.3 L967,659.1 L816.3,643.7 Z" fill="#c7cde6" fill-opacity="1.0" stroke="none" stroke-width="1.0" stroke-linejoin="round"/><path d="M865.6,482.3 L907,510.4 L1035.7,511.3 Z" fill="#b7bdd8" fill-opacity="0.8" stroke="none" stroke-width="1.0" stroke-linejoin="round"/><path d="M816.3,643.7 L925,631.5 L967,659.1 Z" fill="#b7bdd8" fill-opacity="0.5" stroke="none" stroke-width="1.0" stroke-linejoin="round"/><line x1="865.6" y1="482.3" x2="907" y2="510.4" stroke="#333" stroke-width="0.9"/><line x1="907" y1="510.4" x2="1035.7" y2="511.3" stroke="#333" stroke-width="0.9"/><line x1="865.6" y1="482.3" x2="1035.7" y2="511.3" stroke="#333" stroke-width="0.9"/><line x1="1035.7" y1="511.3" x2="967" y2="659.1" stroke="#333" stroke-width="0.9"/><line x1="967" y1="659.1" x2="816.3" y2="643.7" stroke="#333" stroke-width="0.9"/><line x1="816.3" y1="643.7" x2="865.6" y2="482.3" stroke="#333" stroke-width="0.9"/><line x1="816.3" y1="643.7" x2="907" y2="510.4" stroke="#333" stroke-width="0.9"/><line x1="865.6" y1="482.3" x2="925" y2="631.5" stroke="#333" stroke-width="0.9"/><line x1="925" y1="631.5" x2="1035.7" y2="511.3" stroke="#333" stroke-width="0.9"/><line x1="816.3" y1="643.7" x2="925" y2="631.5" stroke="#333" stroke-width="0.9"/><line x1="925" y1="631.5" x2="967" y2="659.1" stroke="#333" stroke-width="0.9"/><line x1="865.6" y1="482.3" x2="967" y2="659.1" stroke="#333" stroke-width="0.9"/><line x1="745.3" y1="619.4" x2="737.3" y2="579.8" stroke="#404040" stroke-width="4.0"/><line x1="737.3" y1="579.8" x2="729.4" y2="540.3" stroke="#ee1616" stroke-width="4.0"/><line x1="745.3" y1="619.4" x2="720" y2="645.5" stroke="#404040" stroke-width="4.0"/><line x1="720" y1="645.5" x2="694.6" y2="671.5" stroke="#ee1616" stroke-width="4.0"/><line x1="745.3" y1="619.4" x2="780.8" y2="631.5" stroke="#404040" stroke-width="4.0"/><line x1="780.8" y1="631.5" x2="816.3" y2="643.7" stroke="#ee1616" stroke-width="4.0"/><line x1="922.7" y1="567.8" x2="891.3" y2="520.8" stroke="#2a2a90" stroke-width="4.2"/><line x1="891.3" y1="520.8" x2="865.6" y2="482.3" stroke="#ee1616" stroke-width="4.2"/><line x1="922.7" y1="567.8" x2="914.1" y2="536.2" stroke="#2a2a90" stroke-width="4.2"/><line x1="914.1" y1="536.2" x2="907" y2="510.4" stroke="#ee1616" stroke-width="4.2"/><line x1="922.7" y1="567.8" x2="984.9" y2="536.7" stroke="#2a2a90" stroke-width="4.2"/><line x1="984.9" y1="536.7" x2="1035.7" y2="511.3" stroke="#ee1616" stroke-width="4.2"/><line x1="922.7" y1="567.8" x2="924" y2="602.8" stroke="#2a2a90" stroke-width="4.2"/><line x1="924" y1="602.8" x2="925" y2="631.5" stroke="#ee1616" stroke-width="4.2"/><line x1="922.7" y1="567.8" x2="947.1" y2="618" stroke="#2a2a90" stroke-width="4.2"/><line x1="947.1" y1="618" x2="967" y2="659.1" stroke="#ee1616" stroke-width="4.2"/><line x1="922.7" y1="567.8" x2="864.2" y2="609.5" stroke="#2a2a90" stroke-width="4.2"/><line x1="864.2" y1="609.5" x2="816.3" y2="643.7" stroke="#ee1616" stroke-width="4.2"/><line x1="882.4" y1="742.5" x2="849.3" y2="693.1" stroke="#22962a" stroke-width="4.2"/><line x1="849.3" y1="693.1" x2="816.3" y2="643.7" stroke="#ee1616" stroke-width="4.2"/><line x1="882.4" y1="742.5" x2="924.7" y2="700.8" stroke="#22962a" stroke-width="4.2"/><line x1="924.7" y1="700.8" x2="967" y2="659.1" stroke="#ee1616" stroke-width="4.2"/><line x1="882.4" y1="742.5" x2="835.3" y2="778" stroke="#22962a" stroke-width="4.2"/><line x1="835.3" y1="778" x2="788.2" y2="813.5" stroke="#ee1616" stroke-width="4.2"/><line x1="882.4" y1="742.5" x2="923.2" y2="781.5" stroke="#22962a" stroke-width="4.2"/><line x1="923.2" y1="781.5" x2="964.1" y2="820.5" stroke="#ee1616" stroke-width="4.2"/><line x1="865.6" y1="482.3" x2="869.2" y2="457.2" stroke="#ee1616" stroke-width="3.6"/><line x1="869.2" y1="457.2" x2="872.8" y2="432.2" stroke="#c8c8c8" stroke-width="3.6"/><line x1="907" y1="510.4" x2="911" y2="485.2" stroke="#ee1616" stroke-width="3.6"/><line x1="911" y1="485.2" x2="914.9" y2="460" stroke="#c8c8c8" stroke-width="3.6"/><line x1="925" y1="631.5" x2="956.6" y2="635.5" stroke="#ee1616" stroke-width="3.6"/><line x1="956.6" y1="635.5" x2="988.2" y2="639.6" stroke="#c8c8c8" stroke-width="3.6"/><line x1="967" y1="659.1" x2="998.5" y2="663.5" stroke="#ee1616" stroke-width="3.6"/><line x1="998.5" y1="663.5" x2="1029.9" y2="667.8" stroke="#c8c8c8" stroke-width="3.6"/><line x1="788.2" y1="813.5" x2="771.1" y2="791.4" stroke="#ee1616" stroke-width="3.6"/><line x1="771.1" y1="791.4" x2="754" y2="769.2" stroke="#c8c8c8" stroke-width="3.6"/><circle cx="872.8" cy="432.2" r="4.6" fill="url(#s_H)"/><circle cx="914.9" cy="460" r="4.6" fill="url(#s_H)"/><circle cx="988.2" cy="639.6" r="4.6" fill="url(#s_H)"/><circle cx="1029.9" cy="667.8" r="4.6" fill="url(#s_H)"/><circle cx="754" cy="769.2" r="4.6" fill="url(#s_H)"/><circle cx="925" cy="631.5" r="13.7" fill="url(#s_Ot)"/><circle cx="922.7" cy="567.8" r="21.7" fill="url(#s_CuD)"/><line x1="865.6" y1="482.3" x2="967" y2="659.1" stroke="#222" stroke-width="0.9"/><circle cx="729.4" cy="540.3" r="13.7" fill="url(#s_O)"/><circle cx="694.6" cy="671.5" r="13.7" fill="url(#s_O)"/><circle cx="816.3" cy="643.7" r="13.7" fill="url(#s_O)"/><circle cx="865.6" cy="482.3" r="13.7" fill="url(#s_O)"/><circle cx="907" cy="510.4" r="13.7" fill="url(#s_O)"/><circle cx="1035.7" cy="511.3" r="13.7" fill="url(#s_O)"/><circle cx="967" cy="659.1" r="13.7" fill="url(#s_O)"/><circle cx="788.2" cy="813.5" r="13.7" fill="url(#s_O)"/><circle cx="964.1" cy="820.5" r="13.7" fill="url(#s_O)"/><circle cx="745.3" cy="619.4" r="11" fill="url(#s_C)"/><circle cx="882.4" cy="742.5" r="21.7" fill="url(#s_CuG)"/><path d="M1380,98.3 L1486.3,65 L1569.2,94 L1504.2,242 L1407.4,222.4 Z" fill="#dde1f1" fill-opacity="1.0" stroke="none" stroke-width="1.0" stroke-linejoin="round"/><path d="M1380,98.3 L1407.4,222.4 L1504.2,242 Z" fill="#b9bfd9" fill-opacity="0.9" stroke="none" stroke-width="1.0" stroke-linejoin="round"/><path d="M1380,98.3 L1486.3,65 L1569.2,94 Z" fill="#cdd1e6" fill-opacity="0.9" stroke="none" stroke-width="1.0" stroke-linejoin="round"/><line x1="1380" y1="98.3" x2="1486.3" y2="65" stroke="#222" stroke-width="1.0"/><line x1="1486.3" y1="65" x2="1569.2" y2="94" stroke="#222" stroke-width="1.0"/><line x1="1569.2" y1="94" x2="1504.2" y2="242" stroke="#222" stroke-width="1.0"/><line x1="1504.2" y1="242" x2="1407.4" y2="222.4" stroke="#222" stroke-width="1.0"/><line x1="1407.4" y1="222.4" x2="1380" y2="98.3" stroke="#222" stroke-width="1.0"/><line x1="1380" y1="98.3" x2="1569.2" y2="94" stroke="#222" stroke-width="1.0"/><line x1="1380" y1="98.3" x2="1504.2" y2="242" stroke="#222" stroke-width="1.0"/><line x1="1486.3" y1="65" x2="1407.4" y2="222.4" stroke="#222" stroke-width="1.0"/><path d="M1407.4,222.4 L1395.2,324.2 L1512.2,309.2 Z" fill="#b8b8b8" fill-opacity="1.0" stroke="#333" stroke-width="1.0" stroke-linejoin="round"/><path d="M1512.2,309.2 L1641.2,277.9 L1637.5,445.4 L1508.5,475.6 Z" fill="#dfe3f3" fill-opacity="1.0" stroke="#333" stroke-width="1.0" stroke-linejoin="round"/><path d="M1395.2,324.2 L1273.5,461.1 L1366.3,482.3 L1508.5,475.6 Z" fill="#c9cee6" fill-opacity="1.0" stroke="none" stroke-width="1.0" stroke-linejoin="round"/><path d="M1395.2,324.2 L1273.5,461.1 L1366.3,482.3 Z" fill="#b9bfd9" fill-opacity="0.4" stroke="none" stroke-width="1.0" stroke-linejoin="round"/><path d="M1273.5,461.1 L1366.3,482.3 L1508.5,475.6 L1420.5,449 Z" fill="#c2c8e0" fill-opacity="0.8" stroke="none" stroke-width="1.0" stroke-linejoin="round"/><line x1="1395.2" y1="324.2" x2="1273.5" y2="461.1" stroke="#222" stroke-width="1.0"/><line x1="1395.2" y1="324.2" x2="1508.5" y2="475.6" stroke="#222" stroke-width="1.0"/><line x1="1395.2" y1="324.2" x2="1366.3" y2="482.3" stroke="#222" stroke-width="1.0"/><line x1="1395.2" y1="324.2" x2="1420.5" y2="449" stroke="#222" stroke-width="1.0"/><line x1="1273.5" y1="461.1" x2="1366.3" y2="482.3" stroke="#222" stroke-width="1.0"/><line x1="1366.3" y1="482.3" x2="1508.5" y2="475.6" stroke="#222" stroke-width="1.0"/><line x1="1273.5" y1="461.1" x2="1420.5" y2="449" stroke="#222" stroke-width="1.0"/><line x1="1420.5" y1="449" x2="1508.5" y2="475.6" stroke="#222" stroke-width="1.0"/><line x1="1491" y1="160.5" x2="1488.4" y2="108" stroke="#2a2a90" stroke-width="4.4"/><line x1="1488.4" y1="108" x2="1486.3" y2="65" stroke="#ee1616" stroke-width="4.4"/><line x1="1491" y1="160.5" x2="1430" y2="126.3" stroke="#2a2a90" stroke-width="4.4"/><line x1="1430" y1="126.3" x2="1380" y2="98.3" stroke="#ee1616" stroke-width="4.4"/><line x1="1491" y1="160.5" x2="1534" y2="123.9" stroke="#2a2a90" stroke-width="4.4"/><line x1="1534" y1="123.9" x2="1569.2" y2="94" stroke="#ee1616" stroke-width="4.4"/><line x1="1491" y1="160.5" x2="1445" y2="194.5" stroke="#2a2a90" stroke-width="4.4"/><line x1="1445" y1="194.5" x2="1407.4" y2="222.4" stroke="#ee1616" stroke-width="4.4"/><line x1="1491" y1="160.5" x2="1498.3" y2="205.3" stroke="#2a2a90" stroke-width="4.4"/><line x1="1498.3" y1="205.3" x2="1504.2" y2="242" stroke="#ee1616" stroke-width="4.4"/><line x1="1437.4" y1="285.1" x2="1422.4" y2="253.8" stroke="#404040" stroke-width="4.0"/><line x1="1422.4" y1="253.8" x2="1407.4" y2="222.4" stroke="#ee1616" stroke-width="4.0"/><line x1="1437.4" y1="285.1" x2="1416.3" y2="304.6" stroke="#404040" stroke-width="4.0"/><line x1="1416.3" y1="304.6" x2="1395.2" y2="324.2" stroke="#ee1616" stroke-width="4.0"/><line x1="1437.4" y1="285.1" x2="1474.8" y2="297.1" stroke="#404040" stroke-width="4.0"/><line x1="1474.8" y1="297.1" x2="1512.2" y2="309.2" stroke="#ee1616" stroke-width="4.0"/><line x1="1574.9" y1="377.2" x2="1543.6" y2="343.2" stroke="#22962a" stroke-width="4.4"/><line x1="1543.6" y1="343.2" x2="1512.2" y2="309.2" stroke="#ee1616" stroke-width="4.4"/><line x1="1574.9" y1="377.2" x2="1608.1" y2="327.5" stroke="#22962a" stroke-width="4.4"/><line x1="1608.1" y1="327.5" x2="1641.2" y2="277.9" stroke="#ee1616" stroke-width="4.4"/><line x1="1574.9" y1="377.2" x2="1606.2" y2="411.3" stroke="#22962a" stroke-width="4.4"/><line x1="1606.2" y1="411.3" x2="1637.5" y2="445.4" stroke="#ee1616" stroke-width="4.4"/><line x1="1574.9" y1="377.2" x2="1541.7" y2="426.4" stroke="#22962a" stroke-width="4.4"/><line x1="1541.7" y1="426.4" x2="1508.5" y2="475.6" stroke="#ee1616" stroke-width="4.4"/><line x1="1392.8" y1="470.8" x2="1394.1" y2="390.2" stroke="#2a2a90" stroke-width="4.4"/><line x1="1394.1" y1="390.2" x2="1395.2" y2="324.2" stroke="#ee1616" stroke-width="4.4"/><line x1="1392.8" y1="470.8" x2="1327.2" y2="465.5" stroke="#2a2a90" stroke-width="4.4"/><line x1="1327.2" y1="465.5" x2="1273.5" y2="461.1" stroke="#ee1616" stroke-width="4.4"/><line x1="1392.8" y1="470.8" x2="1378.2" y2="477.1" stroke="#2a2a90" stroke-width="4.4"/><line x1="1378.2" y1="477.1" x2="1366.3" y2="482.3" stroke="#ee1616" stroke-width="4.4"/><line x1="1392.8" y1="470.8" x2="1456.4" y2="473.4" stroke="#2a2a90" stroke-width="4.4"/><line x1="1456.4" y1="473.4" x2="1508.5" y2="475.6" stroke="#ee1616" stroke-width="4.4"/><line x1="1392.8" y1="470.8" x2="1408" y2="458.8" stroke="#2a2a90" stroke-width="4.4"/><line x1="1408" y1="458.8" x2="1420.5" y2="449" stroke="#ee1616" stroke-width="4.4"/><line x1="1569.2" y1="94" x2="1556.7" y2="68" stroke="#ee1616" stroke-width="3.6"/><line x1="1556.7" y1="68" x2="1544.1" y2="41.9" stroke="#c8c8c8" stroke-width="3.6"/><line x1="1504.2" y1="242" x2="1516.8" y2="268.4" stroke="#ee1616" stroke-width="3.6"/><line x1="1516.8" y1="268.4" x2="1529.5" y2="294.7" stroke="#c8c8c8" stroke-width="3.6"/><line x1="1641.2" y1="277.9" x2="1626.1" y2="253.8" stroke="#ee1616" stroke-width="3.6"/><line x1="1626.1" y1="253.8" x2="1611" y2="229.6" stroke="#c8c8c8" stroke-width="3.6"/><line x1="1508.5" y1="475.6" x2="1524.2" y2="499.9" stroke="#ee1616" stroke-width="3.6"/><line x1="1524.2" y1="499.9" x2="1539.9" y2="524.3" stroke="#c8c8c8" stroke-width="3.6"/><line x1="1366.3" y1="482.3" x2="1351.2" y2="458.2" stroke="#ee1616" stroke-width="3.6"/><line x1="1351.2" y1="458.2" x2="1336.2" y2="434.1" stroke="#c8c8c8" stroke-width="3.6"/><circle cx="1544.1" cy="41.9" r="4.6" fill="url(#s_H)"/><circle cx="1529.5" cy="294.7" r="4.6" fill="url(#s_H)"/><circle cx="1611" cy="229.6" r="4.6" fill="url(#s_H)"/><circle cx="1539.9" cy="524.3" r="4.6" fill="url(#s_H)"/><circle cx="1336.2" cy="434.1" r="4.6" fill="url(#s_H)"/><circle cx="1420.5" cy="449" r="13.7" fill="url(#s_Ot)"/><circle cx="1486.3" cy="65" r="13.7" fill="url(#s_O)"/><circle cx="1380" cy="98.3" r="13.7" fill="url(#s_O)"/><circle cx="1569.2" cy="94" r="13.7" fill="url(#s_O)"/><circle cx="1407.4" cy="222.4" r="13.7" fill="url(#s_O)"/><circle cx="1504.2" cy="242" r="13.7" fill="url(#s_O)"/><circle cx="1395.2" cy="324.2" r="13.7" fill="url(#s_O)"/><circle cx="1512.2" cy="309.2" r="13.7" fill="url(#s_O)"/><circle cx="1641.2" cy="277.9" r="13.7" fill="url(#s_O)"/><circle cx="1637.5" cy="445.4" r="13.7" fill="url(#s_O)"/><circle cx="1508.5" cy="475.6" r="13.7" fill="url(#s_O)"/><circle cx="1273.5" cy="461.1" r="13.7" fill="url(#s_O)"/><circle cx="1491" cy="160.5" r="21.9" fill="url(#s_CuD)"/><circle cx="1437.4" cy="285.1" r="11" fill="url(#s_C)"/><circle cx="1574.9" cy="377.2" r="22.2" fill="url(#s_CuG)"/><circle cx="1392.8" cy="470.8" r="22" fill="url(#s_CuD)"/><circle cx="1366.3" cy="482.3" r="13.7" fill="url(#s_O)"/><text x="374.3" y="587.5" class="t" style="letter-spacing:-1px;paint-order:stroke;stroke:#fff;stroke-width:2.2px;stroke-opacity:0.85">Cu1</text><text x="267.4" y="1119" class="t" style="letter-spacing:-1px;paint-order:stroke;stroke:#fff;stroke-width:2.2px;stroke-opacity:0.85">Cu1</text><text x="822.7" y="1131" class="t" style="letter-spacing:-1px;paint-order:stroke;stroke:#fff;stroke-width:2.2px;stroke-opacity:0.85">Cu1</text><text x="1391.2" y="1115" class="t" style="letter-spacing:-1px;paint-order:stroke;stroke:#fff;stroke-width:2.2px;stroke-opacity:0.85">Cu1</text><text x="921.1" y="533" class="t" style="letter-spacing:-1px;paint-order:stroke;stroke:#fff;stroke-width:2.2px;stroke-opacity:0.85">Cu2</text><text x="859.7" y="795.2" class="t" style="letter-spacing:-1px;paint-order:stroke;stroke:#fff;stroke-width:2.2px;stroke-opacity:0.85">Cu1</text><text x="1431.9" y="123.7" class="t" style="letter-spacing:-1px;paint-order:stroke;stroke:#fff;stroke-width:2.2px;stroke-opacity:0.85">Cu2</text><text x="1397.8" y="519" class="t" style="letter-spacing:-1px;paint-order:stroke;stroke:#fff;stroke-width:2.2px;stroke-opacity:0.85">Cu2</text><text x="1555.8" y="434.1" class="t" style="letter-spacing:-1px;paint-order:stroke;stroke:#fff;stroke-width:2.2px;stroke-opacity:0.85">Cu1</text></svg></body></html>
